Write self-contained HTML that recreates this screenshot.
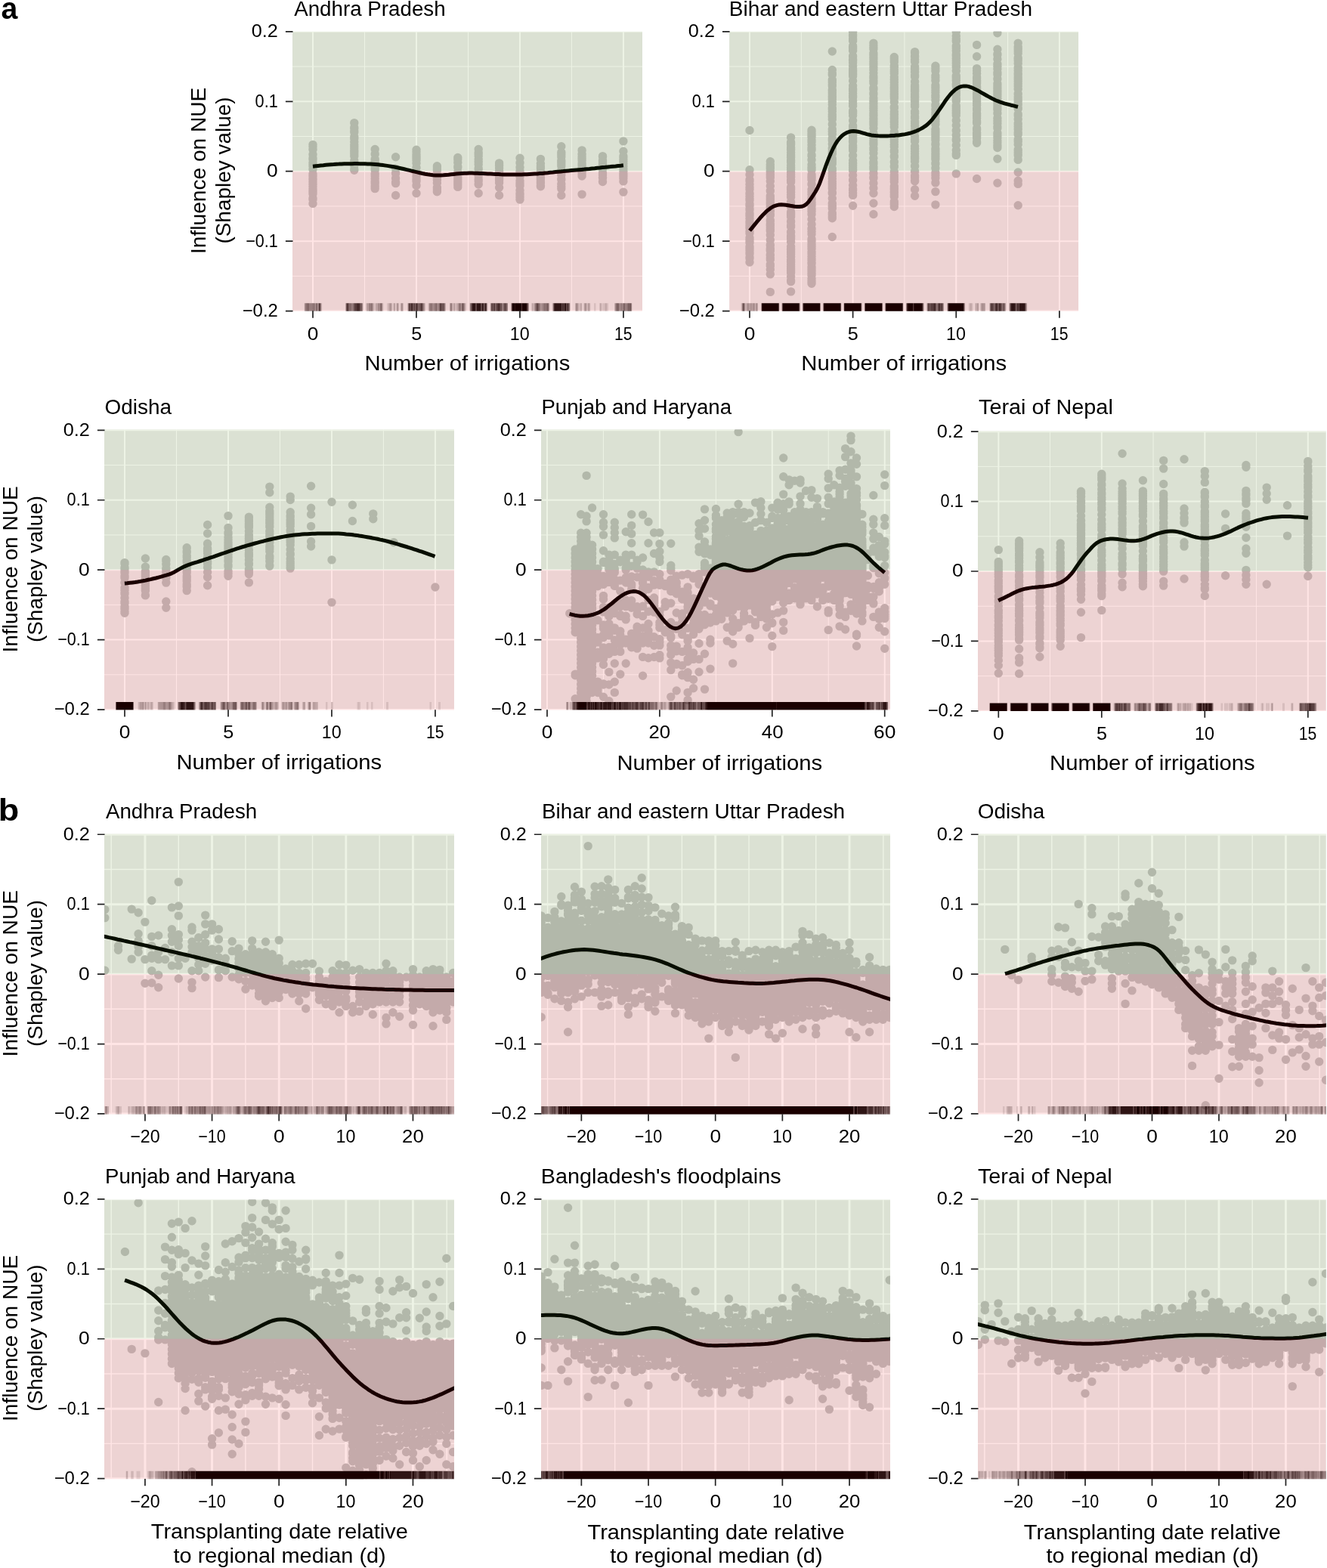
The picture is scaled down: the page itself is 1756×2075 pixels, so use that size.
<!DOCTYPE html>
<html lang="en"><head><meta charset="utf-8"><title>Figure</title>
<style>html,body{margin:0;padding:0;background:#fff}svg{display:block}text{font-family:'Liberation Sans', Arial, sans-serif;fill:#000}</style></head><body>
<svg xmlns="http://www.w3.org/2000/svg" width="1756" height="2075" viewBox="0 0 1756 2075">
<rect width="1756" height="2075" fill="#fff"/>
<defs>
<clipPath id="ca1"><rect x="387.00" y="41.55" width="463.05" height="370.30"/></clipPath>
<clipPath id="ca2"><rect x="965.07" y="41.55" width="462.2" height="370.30"/></clipPath>
<clipPath id="ca3"><rect x="138.00" y="568.14" width="463.0" height="371.50"/></clipPath>
<clipPath id="ca4"><rect x="716.00" y="568.14" width="462.0" height="371.50"/></clipPath>
<clipPath id="ca5"><rect x="1294.00" y="570.17" width="460.85" height="370.90"/></clipPath>
<clipPath id="cb1"><rect x="138.00" y="1103.26" width="463.0" height="371.40"/></clipPath>
<clipPath id="cb2"><rect x="716.00" y="1103.26" width="462.0" height="371.40"/></clipPath>
<clipPath id="cb3"><rect x="1294.00" y="1103.26" width="460.85" height="371.40"/></clipPath>
<clipPath id="cb4"><rect x="138.00" y="1587.30" width="463.0" height="370.20"/></clipPath>
<clipPath id="cb5"><rect x="716.00" y="1587.30" width="462.0" height="370.20"/></clipPath>
<clipPath id="cb6"><rect x="1294.00" y="1587.30" width="460.85" height="370.20"/></clipPath>
</defs>
<g id="pa1">
<g clip-path="url(#ca1)">
<rect x="387.00" y="41.55" width="463.05" height="370.30" fill="#ebebeb"/>
<path d="M482.49 41.6v370.3M619.47 41.6v370.3M756.45 41.6v370.3M387 88.06h463.05M387 180.49h463.05M387 272.91h463.05M387 365.34h463.05" stroke="#ffffff" stroke-width="1.0" fill="none"/>
<path d="M414.00 41.6v370.3M550.98 41.6v370.3M687.96 41.6v370.3M824.94 41.6v370.3M387 41.85h463.05M387 134.28h463.05M387 226.70h463.05M387 319.13h463.05M387 411.55h463.05" stroke="#ffffff" stroke-width="2.0" fill="none"/>
<path d="M414 191.4h0m0 2.3h0m0 0.4h0m0 3.3h0m0 0.5h0m0 6.5h0m0 5h0m0 1.5h0m0 4.5h0m0 2h0m0 0.3h0m0 2h0m0 4.2h0m0 6.5h0m0 2.2h0m0 0.4h0m0 2.8h0m0 1.1h0m0 1h0m0 2.9h0m0 2.6h0m0 0.6h0m0 2.9h0m0 3h0m0 2.2h0m0 0.5h0m0 0.5h0m0 1.1h0m0 2.2h0m0 6h0m0 0.5h0m0 1h0m0 5.5h0M468.8 162.6h0m0 6.2h0m0 1.1h0m0 3.7h0m0 1.5h0m0 6h0m0 0.3h0m0 1.2h0m0 0.7h0m0 0.3h0m0 4.1h0m0 4h0m0 2.3h0m0 2.2h0m0 2.6h0m0 1.1h0m0 0.3h0m0 0.4h0m0 0.9h0m0 2.2h0m0 2.5h0m0 0.3h0m0 6.3h0m0 5.6h0m0 0.7h0m0 4.9h0m0 0.8h0m0 0.5h0M496.2 197.5h0m0 6.4h0m0 0.4h0m0 6.2h0m0 1.1h0m0 2.3h0m0 1.7h0m0 1.4h0m0 3.2h0m0 3.3h0m0 1.3h0m0 5.2h0m0 0.7h0m0 2.6h0m0 3.2h0m0 3.6h0m0 1.5h0m0 1.4h0m0 3.1h0m0 1.7h0m0 1.8h0M523.6 207.8h0m0 15.3h0m0 6h0m0 0.5h0m0 6.5h0m0 4.9h0m0 1h0m0 0.6h0m0 15.9h0M551 198.3h0m0 2.6h0m0 3.3h0m0 1.7h0m0 1.4h0m0 0.8h0m0 0.8h0m0 1.2h0m0 0.5h0m0 1.6h0m0 3.8h0m0 5.9h0m0 5.9h0m0 1.3h0m0 4.5h0m0 3.4h0m0 1.8h0m0 0.7h0m0 0.3h0m0 5.6h0m0 10.3h0M578.4 219.8h0m0 1.4h0m0 2.2h0m0 0.3h0m0 1.7h0m0 5.7h0m0 4h0m0 1.6h0m0 1.8h0m0 3.7h0m0 5.8h0m0 0.9h0m0 2.5h0m0 2.3h0M605.8 208.5h0m0 0.7h0m0 1.7h0m0 4.1h0m0 0.3h0m0 5.3h0m0 0.8h0m0 6.5h0m0 5.8h0m0 0.7h0m0 2.1h0m0 1.1h0m0 1.8h0m0 1.5h0m0 2.1h0m0 0.8h0m0 1.3h0m0 2.3h0M633.2 197.5h0m0 4.6h0m0 0.6h0m0 1.4h0m0 2.5h0m0 4.2h0m0 2.8h0m0 1h0m0 2.8h0m0 5.3h0m0 1.4h0m0 5.1h0m0 1.5h0m0 0.6h0m0 1.6h0m0 4.5h0m0 2.2h0m0 3.9h0m0 0.5h0m0 11.7h0M660.6 215.9h0m0 2h0m0 1.4h0m0 3.1h0m0 3.9h0m0 0.6h0m0 1.9h0m0 1.6h0m0 0.5h0m0 4.4h0m0 2.1h0m0 1.5h0m0 2.8h0m0 6.5h0m0 10.3h0M688 209.3h0m0 6.1h0m0 6.1h0m0 5h0m0 0.5h0m0 0.6h0m0 6.1h0m0 0.3h0m0 5.6h0m0 2.6h0m0 1.7h0m0 0.3h0m0 1.2h0m0 0.5h0m0 6h0m0 4.1h0m0 1.5h0m0 0.5h0m0 2.5h0m0 0.7h0m0 2.9h0M715.4 210.4h0m0 6.1h0m0 3.6h0m0 2.1h0m0 0.3h0m0 4.4h0m0 1.7h0m0 1.6h0m0 0.8h0m0 3.7h0m0 0.5h0m0 0.8h0m0 2h0m0 2.7h0m0 1.5h0m0 3.1h0m0 1.5h0M742.8 193.8h0m0 7.8h0m0 0.4h0m0 0.4h0m0 1.6h0m0 1.3h0m0 2.3h0m0 4.9h0m0 1.1h0m0 0.5h0m0 1.4h0m0 2.1h0m0 2h0m0 6h0m0 1.7h0m0 1.2h0m0 3.1h0m0 5.1h0m0 0.9h0m0 6h0m0 3.2h0m0 0.4h0m0 2.4h0m0 8.9h0M770.1 198.9h0m0 4.8h0m0 0.9h0m0 2.9h0m0 1.9h0m0 0.9h0m0 1.7h0m0 4h0m0 1.6h0m0 1.4h0m0 2.7h0m0 2h0m0 3.7h0m0 0.7h0m0 2.8h0m0 2.1h0m0 24.1h0M797.5 206.6h0m0 0.8h0m0 4.8h0m0 1.2h0m0 2.3h0m0 0.6h0m0 0.7h0m0 0.9h0m0 0.9h0m0 4.7h0m0 5.5h0m0 2.5h0m0 3.3h0m0 0.7h0m0 5h0M824.9 186.9h0m0 13.3h0m0 6.7h0m0 1.4h0m0 2.7h0m0 2.5h0m0 3.1h0m0 3.5h0m0 3.3h0m0 3.3h0m0 2.7h0m0 1.1h0m0 0.8h0m0 1h0m0 1h0m0 0.4h0m0 2.4h0m0 3.8h0m0 14.2h0" fill="none" stroke="#bebebe" stroke-width="11.4" stroke-linecap="round"/>
<path d="M414 220.2 417.5 219.8 420.9 219.4 424.4 219 427.8 218.7 431.3 218.3 434.7 218 438.2 217.7 441.6 217.5 445.1 217.2 448.5 217.1 452 216.9 455.4 216.8 458.9 216.7 462.3 216.7 465.8 216.7 469.3 216.6 472.7 216.6 476.2 216.7 479.6 216.7 483.1 216.8 486.5 216.9 490 217.1 493.4 217.3 496.9 217.5 500.3 217.8 503.8 218.2 507.2 218.6 510.7 219.1 514.1 219.6 517.6 220.2 521.1 220.8 524.5 221.5 528 222.2 531.4 223 534.9 223.8 538.3 224.6 541.8 225.4 545.2 226.3 548.7 227.1 552.1 227.9 555.6 228.7 559 229.5 562.5 230.2 565.9 230.8 569.4 231.3 572.9 231.7 576.3 232 579.8 232.1 583.2 232 586.7 231.8 590.1 231.5 593.6 231.2 597 230.8 600.5 230.4 603.9 230 607.4 229.7 610.8 229.5 614.3 229.3 617.7 229.2 621.2 229.1 624.6 229.1 628.1 229.2 631.6 229.2 635 229.4 638.5 229.5 641.9 229.7 645.4 229.9 648.8 230.1 652.3 230.3 655.7 230.4 659.2 230.6 662.6 230.8 666.1 230.9 669.5 230.9 673 231 676.4 231 679.9 231 683.4 231 686.8 231 690.3 230.9 693.7 230.8 697.2 230.7 700.6 230.5 704.1 230.3 707.5 230.1 711 229.9 714.4 229.6 717.9 229.4 721.3 229 724.8 228.7 728.2 228.3 731.7 228 735.2 227.6 738.6 227.2 742.1 226.9 745.5 226.6 749 226.2 752.4 225.9 755.9 225.6 759.3 225.3 762.8 225 766.2 224.7 769.7 224.4 773.1 224.1 776.6 223.7 780 223.4 783.5 223 787 222.7 790.4 222.3 793.9 222 797.3 221.6 800.8 221.3 804.2 220.9 807.7 220.6 811.1 220.2 814.6 219.9 818 219.5 821.5 219.2 824.9 218.8" fill="none" stroke="#000" stroke-width="5.0" stroke-linejoin="round" stroke-linecap="butt"/>
<path d="M402.5 401.2h0.5v10.7h-0.5zM425.5 401.2h0.5v10.7h-0.5zM480 401.2h0.5v10.7h-0.5zM494.5 401.2h1.5v10.7h-1.5zM506.5 401.2h1v10.7h-1zM512 401.2h2v10.7h-2zM518.5 401.2h1v10.7h-1zM523 401.2h0.5v10.7h-0.5zM527.5 401.2h1v10.7h-1zM533.5 401.2h0.5v10.7h-0.5zM562.5 401.2h0.5v10.7h-0.5zM566.5 401.2h1v10.7h-1zM589.5 401.2h0.5v10.7h-0.5zM599 401.2h1v10.7h-1zM602.5 401.2h1.5v10.7h-1.5zM616 401.2h1v10.7h-1zM676 401.2h0.5v10.7h-0.5zM699.5 401.2h0.5v10.7h-0.5zM706.5 401.2h0.5v10.7h-0.5zM766 401.2h1.5v10.7h-1.5zM770 401.2h0.5v10.7h-0.5zM776.5 401.2h1v10.7h-1zM780.5 401.2h1v10.7h-1zM786 401.2h2.5v10.7h-2.5zM793 401.2h1v10.7h-1zM796 401.2h0.5v10.7h-0.5zM797 401.2h3.5v10.7h-3.5zM803 401.2h2v10.7h-2zM813 401.2h0.5v10.7h-0.5zM836 401.2h0.5v10.7h-0.5z" fill="#000" fill-opacity="0.10"/>
<path d="M457 401.2h0.5v10.7h-0.5zM484.5 401.2h1.5v10.7h-1.5zM487 401.2h0.5v10.7h-0.5zM494 401.2h0.5v10.7h-0.5zM496.5 401.2h2v10.7h-2zM499 401.2h0.5v10.7h-0.5zM506 401.2h0.5v10.7h-0.5zM514 401.2h1.5v10.7h-1.5zM518 401.2h0.5v10.7h-0.5zM520.5 401.2h1v10.7h-1zM522.5 401.2h0.5v10.7h-0.5zM524.5 401.2h0.5v10.7h-0.5zM527 401.2h0.5v10.7h-0.5zM530 401.2h0.5v10.7h-0.5zM533 401.2h0.5v10.7h-0.5zM562 401.2h0.5v10.7h-0.5zM595 401.2h0.5v10.7h-0.5zM598.5 401.2h0.5v10.7h-0.5zM600 401.2h0.5v10.7h-0.5zM601.5 401.2h1v10.7h-1zM604 401.2h2v10.7h-2zM615 401.2h1v10.7h-1zM621.5 401.2h0.5v10.7h-0.5zM703.5 401.2h3v10.7h-3zM726.5 401.2h0.5v10.7h-0.5zM731 401.2h0.5v10.7h-0.5zM754 401.2h0.5v10.7h-0.5zM761 401.2h1v10.7h-1zM764.5 401.2h1.5v10.7h-1.5zM767.5 401.2h2.5v10.7h-2.5zM772.5 401.2h1v10.7h-1zM776 401.2h0.5v10.7h-0.5zM777.5 401.2h1v10.7h-1zM780 401.2h0.5v10.7h-0.5zM794 401.2h2v10.7h-2zM800.5 401.2h2.5v10.7h-2.5z" fill="#000" fill-opacity="0.20"/>
<path d="M403 401.2h0.5v10.7h-0.5zM417.5 401.2h0.5v10.7h-0.5zM420.5 401.2h0.5v10.7h-0.5zM424.5 401.2h1v10.7h-1zM457.5 401.2h0.5v10.7h-0.5zM486 401.2h1v10.7h-1zM487.5 401.2h0.5v10.7h-0.5zM493 401.2h1v10.7h-1zM498.5 401.2h0.5v10.7h-0.5zM499.5 401.2h1v10.7h-1zM502 401.2h1v10.7h-1zM515.5 401.2h2.5v10.7h-2.5zM521.5 401.2h1v10.7h-1zM525 401.2h2v10.7h-2zM530.5 401.2h1v10.7h-1zM532.5 401.2h0.5v10.7h-0.5zM539.5 401.2h0.5v10.7h-0.5zM560.5 401.2h1.5v10.7h-1.5zM567.5 401.2h0.5v10.7h-0.5zM573 401.2h0.5v10.7h-0.5zM579 401.2h0.5v10.7h-0.5zM589 401.2h0.5v10.7h-0.5zM595.5 401.2h0.5v10.7h-0.5zM598 401.2h0.5v10.7h-0.5zM600.5 401.2h1v10.7h-1zM606 401.2h1v10.7h-1zM610 401.2h0.5v10.7h-0.5zM614.5 401.2h0.5v10.7h-0.5zM644.5 401.2h0.5v10.7h-0.5zM649 401.2h0.5v10.7h-0.5zM665 401.2h0.5v10.7h-0.5zM707 401.2h0.5v10.7h-0.5zM715 401.2h1v10.7h-1zM716.5 401.2h1v10.7h-1zM731.5 401.2h0.5v10.7h-0.5zM762 401.2h1v10.7h-1zM764 401.2h0.5v10.7h-0.5zM773.5 401.2h1v10.7h-1zM775 401.2h1v10.7h-1zM778.5 401.2h1.5v10.7h-1.5zM813.5 401.2h1v10.7h-1zM820 401.2h0.5v10.7h-0.5z" fill="#000" fill-opacity="0.30"/>
<path d="M403.5 401.2h1v10.7h-1zM409.5 401.2h1v10.7h-1zM411 401.2h1.5v10.7h-1.5zM416 401.2h1.5v10.7h-1.5zM420 401.2h0.5v10.7h-0.5zM421 401.2h0.5v10.7h-0.5zM465.5 401.2h1v10.7h-1zM479.5 401.2h0.5v10.7h-0.5zM488.5 401.2h1v10.7h-1zM490 401.2h1v10.7h-1zM492.5 401.2h0.5v10.7h-0.5zM500.5 401.2h1.5v10.7h-1.5zM505.5 401.2h0.5v10.7h-0.5zM531.5 401.2h1v10.7h-1zM540 401.2h0.5v10.7h-0.5zM568 401.2h1v10.7h-1zM569.5 401.2h0.5v10.7h-0.5zM571.5 401.2h0.5v10.7h-0.5zM572.5 401.2h0.5v10.7h-0.5zM573.5 401.2h2v10.7h-2zM578.5 401.2h0.5v10.7h-0.5zM579.5 401.2h1v10.7h-1zM588.5 401.2h0.5v10.7h-0.5zM596 401.2h0.5v10.7h-0.5zM597.5 401.2h0.5v10.7h-0.5zM607 401.2h0.5v10.7h-0.5zM609.5 401.2h0.5v10.7h-0.5zM610.5 401.2h0.5v10.7h-0.5zM622 401.2h0.5v10.7h-0.5zM664.5 401.2h0.5v10.7h-0.5zM671.5 401.2h0.5v10.7h-0.5zM707.5 401.2h1v10.7h-1zM714.5 401.2h0.5v10.7h-0.5zM716 401.2h0.5v10.7h-0.5zM717.5 401.2h0.5v10.7h-0.5zM718.5 401.2h1v10.7h-1zM721 401.2h0.5v10.7h-0.5zM726 401.2h0.5v10.7h-0.5zM763 401.2h1v10.7h-1zM774.5 401.2h0.5v10.7h-0.5zM814.5 401.2h0.5v10.7h-0.5zM819 401.2h1v10.7h-1zM820.5 401.2h0.5v10.7h-0.5zM821.5 401.2h1v10.7h-1zM823 401.2h1.5v10.7h-1.5zM827.5 401.2h1v10.7h-1zM829 401.2h1v10.7h-1zM835.5 401.2h0.5v10.7h-0.5z" fill="#000" fill-opacity="0.40"/>
<path d="M404.5 401.2h0.5v10.7h-0.5zM405.5 401.2h1v10.7h-1zM408 401.2h1.5v10.7h-1.5zM410.5 401.2h0.5v10.7h-0.5zM412.5 401.2h1v10.7h-1zM414 401.2h0.5v10.7h-0.5zM415.5 401.2h0.5v10.7h-0.5zM418 401.2h2v10.7h-2zM424 401.2h0.5v10.7h-0.5zM462.5 401.2h3v10.7h-3zM466.5 401.2h1.5v10.7h-1.5zM479 401.2h0.5v10.7h-0.5zM488 401.2h0.5v10.7h-0.5zM489.5 401.2h0.5v10.7h-0.5zM491 401.2h0.5v10.7h-0.5zM492 401.2h0.5v10.7h-0.5zM503 401.2h2.5v10.7h-2.5zM553 401.2h1v10.7h-1zM560 401.2h0.5v10.7h-0.5zM569 401.2h0.5v10.7h-0.5zM570 401.2h1.5v10.7h-1.5zM572 401.2h0.5v10.7h-0.5zM575.5 401.2h1v10.7h-1zM577 401.2h1.5v10.7h-1.5zM580.5 401.2h1v10.7h-1zM588 401.2h0.5v10.7h-0.5zM596.5 401.2h1v10.7h-1zM607.5 401.2h2v10.7h-2zM611 401.2h1v10.7h-1zM613.5 401.2h1v10.7h-1zM644 401.2h0.5v10.7h-0.5zM649.5 401.2h0.5v10.7h-0.5zM665.5 401.2h0.5v10.7h-0.5zM671 401.2h0.5v10.7h-0.5zM676.5 401.2h0.5v10.7h-0.5zM699 401.2h0.5v10.7h-0.5zM708.5 401.2h0.5v10.7h-0.5zM713 401.2h1.5v10.7h-1.5zM718 401.2h0.5v10.7h-0.5zM719.5 401.2h1.5v10.7h-1.5zM722.5 401.2h1v10.7h-1zM725.5 401.2h0.5v10.7h-0.5zM732 401.2h0.5v10.7h-0.5zM753.5 401.2h0.5v10.7h-0.5zM815 401.2h1.5v10.7h-1.5zM818 401.2h1v10.7h-1zM821 401.2h0.5v10.7h-0.5zM822.5 401.2h0.5v10.7h-0.5zM824.5 401.2h0.5v10.7h-0.5zM826 401.2h1.5v10.7h-1.5zM828.5 401.2h0.5v10.7h-0.5zM830 401.2h0.5v10.7h-0.5zM835 401.2h0.5v10.7h-0.5z" fill="#000" fill-opacity="0.50"/>
<path d="M405 401.2h0.5v10.7h-0.5zM406.5 401.2h0.5v10.7h-0.5zM407.5 401.2h0.5v10.7h-0.5zM413.5 401.2h0.5v10.7h-0.5zM414.5 401.2h1v10.7h-1zM421.5 401.2h0.5v10.7h-0.5zM458 401.2h0.5v10.7h-0.5zM462 401.2h0.5v10.7h-0.5zM468 401.2h0.5v10.7h-0.5zM478.5 401.2h0.5v10.7h-0.5zM491.5 401.2h0.5v10.7h-0.5zM540.5 401.2h0.5v10.7h-0.5zM549 401.2h0.5v10.7h-0.5zM554 401.2h1.5v10.7h-1.5zM559 401.2h1v10.7h-1zM576.5 401.2h0.5v10.7h-0.5zM581.5 401.2h0.5v10.7h-0.5zM584 401.2h4v10.7h-4zM612 401.2h1.5v10.7h-1.5zM622.5 401.2h0.5v10.7h-0.5zM650 401.2h1v10.7h-1zM652.5 401.2h0.5v10.7h-0.5zM655.5 401.2h1v10.7h-1zM666 401.2h0.5v10.7h-0.5zM670.5 401.2h0.5v10.7h-0.5zM709 401.2h0.5v10.7h-0.5zM712.5 401.2h0.5v10.7h-0.5zM721.5 401.2h1v10.7h-1zM723.5 401.2h2v10.7h-2zM816.5 401.2h1.5v10.7h-1.5zM825 401.2h1v10.7h-1zM830.5 401.2h1v10.7h-1zM832.5 401.2h1v10.7h-1zM834 401.2h1v10.7h-1z" fill="#000" fill-opacity="0.60"/>
<path d="M407 401.2h0.5v10.7h-0.5zM422 401.2h2v10.7h-2zM458.5 401.2h0.5v10.7h-0.5zM461.5 401.2h0.5v10.7h-0.5zM468.5 401.2h3.5v10.7h-3.5zM476 401.2h0.5v10.7h-0.5zM477.5 401.2h1v10.7h-1zM541 401.2h2.5v10.7h-2.5zM546.5 401.2h0.5v10.7h-0.5zM547.5 401.2h1.5v10.7h-1.5zM549.5 401.2h1.5v10.7h-1.5zM552 401.2h1v10.7h-1zM555.5 401.2h0.5v10.7h-0.5zM556.5 401.2h0.5v10.7h-0.5zM558.5 401.2h0.5v10.7h-0.5zM582 401.2h2v10.7h-2zM623 401.2h0.5v10.7h-0.5zM640.5 401.2h0.5v10.7h-0.5zM651 401.2h1.5v10.7h-1.5zM653 401.2h2.5v10.7h-2.5zM656.5 401.2h2.5v10.7h-2.5zM661 401.2h1v10.7h-1zM662.5 401.2h0.5v10.7h-0.5zM663.5 401.2h1v10.7h-1zM666.5 401.2h1v10.7h-1zM668 401.2h1.5v10.7h-1.5zM670 401.2h0.5v10.7h-0.5zM709.5 401.2h1v10.7h-1zM711 401.2h1.5v10.7h-1.5zM732.5 401.2h0.5v10.7h-0.5zM750 401.2h1v10.7h-1zM752.5 401.2h1v10.7h-1zM831.5 401.2h1v10.7h-1zM833.5 401.2h0.5v10.7h-0.5z" fill="#000" fill-opacity="0.70"/>
<path d="M459 401.2h1v10.7h-1zM460.5 401.2h1v10.7h-1zM472 401.2h4v10.7h-4zM476.5 401.2h1v10.7h-1zM543.5 401.2h3v10.7h-3zM547 401.2h0.5v10.7h-0.5zM551 401.2h1v10.7h-1zM556 401.2h0.5v10.7h-0.5zM557 401.2h1.5v10.7h-1.5zM623.5 401.2h1v10.7h-1zM629.5 401.2h1v10.7h-1zM636.5 401.2h1v10.7h-1zM639 401.2h1.5v10.7h-1.5zM641 401.2h0.5v10.7h-0.5zM643.5 401.2h0.5v10.7h-0.5zM659 401.2h2v10.7h-2zM662 401.2h0.5v10.7h-0.5zM663 401.2h0.5v10.7h-0.5zM667.5 401.2h0.5v10.7h-0.5zM669.5 401.2h0.5v10.7h-0.5zM677 401.2h0.5v10.7h-0.5zM698.5 401.2h0.5v10.7h-0.5zM710.5 401.2h0.5v10.7h-0.5zM733 401.2h1v10.7h-1zM743.5 401.2h3v10.7h-3zM749.5 401.2h0.5v10.7h-0.5zM751 401.2h1.5v10.7h-1.5z" fill="#000" fill-opacity="0.80"/>
<path d="M460 401.2h0.5v10.7h-0.5zM624.5 401.2h5v10.7h-5zM630.5 401.2h6v10.7h-6zM637.5 401.2h1.5v10.7h-1.5zM641.5 401.2h2v10.7h-2zM677.5 401.2h0.5v10.7h-0.5zM681 401.2h1v10.7h-1zM690 401.2h0.5v10.7h-0.5zM697.5 401.2h1v10.7h-1zM734 401.2h9.5v10.7h-9.5zM746.5 401.2h3v10.7h-3z" fill="#000" fill-opacity="0.90"/>
<path d="M678 401.2h3v10.7h-3zM682 401.2h8v10.7h-8zM690.5 401.2h7v10.7h-7z" fill="#000" fill-opacity="1.00"/>
<rect x="387.00" y="41.55" width="463.05" height="185.15" fill="#4f8b00" fill-opacity="0.1"/>
<rect x="387.00" y="226.70" width="463.05" height="185.15" fill="#ff0000" fill-opacity="0.1"/>
</g>
<path d="M377.90 41.85h9.6M377.90 134.28h9.6M377.90 226.70h9.6M377.90 319.13h9.6M377.90 411.55h9.6M414.00 411.35v9.3M550.98 411.35v9.3M687.96 411.35v9.3M824.94 411.35v9.3" stroke="#222" stroke-width="1.7" fill="none"/>
<text transform="translate(332.75 49.25) scale(1.0528 1)" font-size="24">0.2</text>
<text transform="translate(337.60 141.68) scale(0.9024 1)" font-size="24">0.1</text>
<text transform="translate(353.00 234.10) scale(1.0957 1)" font-size="24">0</text>
<text transform="translate(325.18 326.53) scale(0.8978 1)" font-size="24">−0.1</text>
<text transform="translate(320.66 418.95) scale(0.9956 1)" font-size="24">−0.2</text>
<text transform="translate(406.70 449.75) scale(1.0957 1)" font-size="24">0</text>
<text transform="translate(544.13 449.75) scale(1.0489 1)" font-size="24">5</text>
<text transform="translate(674.71 449.75) scale(0.9708 1)" font-size="24">10</text>
<text transform="translate(812.89 449.75) scale(0.8833 1)" font-size="24">15</text>
<text transform="translate(389.20 21.20) scale(0.9905 1)" font-size="28">Andhra Pradesh</text>
<text transform="translate(482.55 489.70) scale(1.0460 1)" font-size="28">Number of irrigations</text>
<text transform="translate(271.50 336.01) rotate(-90) scale(1.0049 1)" font-size="28">Influence on NUE</text>
<text transform="translate(304.60 322.60) rotate(-90) scale(0.9984 1)" font-size="28">(Shapley value)</text>
</g>
<g id="pa2">
<g clip-path="url(#ca2)">
<rect x="965.07" y="41.55" width="462.2" height="370.30" fill="#ebebeb"/>
<path d="M1060.29 41.6v370.3M1196.93 41.6v370.3M1333.59 41.6v370.3M965.1 88.06h462.2M965.1 180.49h462.2M965.1 272.91h462.2M965.1 365.34h462.2" stroke="#ffffff" stroke-width="1.0" fill="none"/>
<path d="M991.96 41.6v370.3M1128.61 41.6v370.3M1265.26 41.6v370.3M1401.91 41.6v370.3M965.1 41.85h462.2M965.1 134.28h462.2M965.1 226.70h462.2M965.1 319.13h462.2M965.1 411.55h462.2" stroke="#ffffff" stroke-width="2.0" fill="none"/>
<path d="M992 172.5h0m0 52.3h0m0 6.5h0m0 6.4h0m0 1.9h0m0 4.5h0m0 3.9h0m0 2.6h0m0 5.1h0m0 1.3h0m0 3h0m0 2.7h0m0 0.3h0m0 0.4h0m0 1.7h0m0 4.7h0m0 1.3h0m0 0.5h0m0 1h0m0 3.7h0m0 1.5h0m0 4.4h0m0 0.5h0m0 0.8h0m0 1.2h0m0 1.1h0m0 3.3h0m0 3.9h0m0 1.3h0m0 1.3h0m0 2.7h0m0 1.7h0m0 0.9h0m0 1.1h0m0 4.3h0m0 2.1h0m0 6.4h0m0 2.1h0m0 2.4h0m0 0.6h0m0 1.4h0m0 5h0m0 1.4h0m0 1.2h0m0 0.3h0m0 2.1h0m0 2.8h0m0 1.6h0m0 4.8h0m0 1.2h0m0 5.3h0M1019.3 213.8h0m0 3.9h0m0 2.6h0m0 1.4h0m0 0.5h0m0 0.6h0m0 0.3h0m0 3.4h0m0 0.3h0m0 0.8h0m0 2.8h0m0 0.9h0m0 2h0m0 1.7h0m0 4.8h0m0 6.4h0m0 6h0m0 0.5h0m0 6.5h0m0 1.7h0m0 2.3h0m0 0.9h0m0 1.6h0m0 1.9h0m0 1.2h0m0 0.8h0m0 0.4h0m0 2.2h0m0 1.2h0m0 1.7h0m0 3.6h0m0 1h0m0 3.7h0m0 0.9h0m0 0.8h0m0 6.3h0m0 1.4h0m0 3.4h0m0 1h0m0 0.9h0m0 0.3h0m0 2.7h0m0 2.4h0m0 1.1h0m0 1h0m0 5.5h0m0 6.5h0m0 6.4h0m0 1h0m0 3.7h0m0 1.3h0m0 0.5h0m0 0.7h0m0 0.8h0m0 5h0m0 0.3h0m0 0.7h0m0 3.6h0m0 1.9h0m0 6.5h0m0 2.1h0m0 4.3h0m0 6.5h0m0 23.5h0M1046.6 181.9h0m0 6.2h0m0 0.4h0m0 1.1h0m0 0.8h0m0 1.1h0m0 3.6h0m0 1.8h0m0 0.4h0m0 0.9h0m0 3.5h0m0 3.2h0m0 2.4h0m0 0.9h0m0 3.7h0m0 1h0m0 1.5h0m0 0.4h0m0 4h0m0 2.6h0m0 0.5h0m0 2.3h0m0 3.7h0m0 3h0m0 2.8h0m0 0.8h0m0 3.6h0m0 0.7h0m0 2.3h0m0 6.6h0m0 1.1h0m0 1.3h0m0 0.8h0m0 3.3h0m0 3.6h0m0 3h0m0 6.6h0m0 6.6h0m0 6.5h0m0 1.5h0m0 1.1h0m0 0.8h0m0 0.5h0m0 1.7h0m0 0.4h0m0 0.6h0m0 5.8h0m0 0.7h0m0 4.7h0m0 2h0m0 6.5h0m0 0.7h0m0 4.5h0m0 1.4h0m0 2.5h0m0 4h0m0 0.4h0m0 5.9h0m0 0.3h0m0 2.8h0m0 1.5h0m0 2.3h0m0 1h0m0 2.5h0m0 3.1h0m0 0.4h0m0 3.7h0m0 1.7h0m0 0.8h0m0 0.6h0m0 3h0m0 2.9h0m0 2.1h0m0 2.3h0m0 2.2h0m0 1.6h0m0 5h0m0 5.1h0m0 1.5h0m0 13.3h0M1074 172.3h0m0 1.1h0m0 1.1h0m0 2.3h0m0 1.2h0m0 0.9h0m0 0.6h0m0 1.1h0m0 1.2h0m0 3.6h0m0 2.3h0m0 4.2h0m0 3.9h0m0 1.3h0m0 1.4h0m0 6.5h0m0 1.2h0m0 5.4h0m0 6.5h0m0 3.3h0m0 0.7h0m0 0.8h0m0 1.8h0m0 6.5h0m0 1.8h0m0 1.4h0m0 0.3h0m0 0.4h0m0 0.6h0m0 2.1h0m0 5.8h0m0 0.7h0m0 6.6h0m0 3h0m0 3.1h0m0 0.4h0m0 5h0m0 0.6h0m0 1h0m0 3.9h0m0 2.6h0m0 2h0m0 3.9h0m0 0.6h0m0 2.4h0m0 0.3h0m0 3.8h0m0 6.7h0m0 6.5h0m0 5.9h0m0 0.7h0m0 3.2h0m0 3.3h0m0 6.6h0m0 1.9h0m0 1.6h0m0 3h0m0 1.9h0m0 1.8h0m0 2.4h0m0 0.5h0m0 3.8h0m0 0.4h0m0 2.3h0m0 3.4h0m0 3.2h0m0 1.8h0m0 2.8h0m0 0.8h0m0 1.1h0m0 4.1h0m0 0.8h0m0 1.7h0m0 1.6h0m0 1.9h0m0 2.4h0m0 0.6h0m0 1.7h0m0 0.3h0m0 4.6h0m0 2.8h0m0 1.9h0m0 1.8h0M1101.3 68h0m0 24.5h0m0 4.3h0m0 1.1h0m0 1.2h0m0 6.5h0m0 0.6h0m0 1.7h0m0 1.3h0m0 2.9h0m0 1.7h0m0 4.9h0m0 1.3h0m0 0.4h0m0 2h0m0 0.6h0m0 2.2h0m0 2.4h0m0 0.5h0m0 0.9h0m0 2h0m0 0.8h0m0 2.9h0m0 3.6h0m0 4.5h0m0 1h0m0 1h0m0 2.8h0m0 3.8h0m0 2.1h0m0 1.4h0m0 0.4h0m0 2.6h0m0 6.5h0m0 6.6h0m0 2.9h0m0 3.6h0m0 5.9h0m0 0.7h0m0 1.9h0m0 4.6h0m0 5.5h0m0 0.3h0m0 0.7h0m0 3.5h0m0 1.6h0m0 0.3h0m0 0.7h0m0 0.5h0m0 6.2h0m0 0.3h0m0 1.9h0m0 2.1h0m0 2.6h0m0 6.4h0m0 2.2h0m0 4.4h0m0 3.2h0m0 3.4h0m0 0.3h0m0 3.9h0m0 2.3h0m0 0.5h0m0 2.3h0m0 2.4h0m0 1.3h0m0 5.1h0m0 0.7h0m0 0.8h0m0 6.5h0m0 6.6h0m0 0.5h0m0 2.4h0m0 0.3h0m0 0.8h0m0 2.5h0m0 0.4h0m0 6.1h0m0 1.9h0m0 2.7h0m0 2h0m0 24.8h0M1128.6 41.1h0m0 1.6h0m0 2.8h0m0 1.8h0m0 0.4h0m0 3.3h0m0 1.5h0m0 1.8h0m0 6.6h0m0 0.6h0m0 1.2h0m0 0.9h0m0 0.8h0m0 1.8h0m0 1.1h0m0 6.7h0m0 0.9h0m0 3.3h0m0 1h0m0 1.4h0m0 2.5h0m0 4.1h0m0 3.9h0m0 1.6h0m0 1.1h0m0 0.8h0m0 1.1h0m0 1.6h0m0 0.9h0m0 0.7h0m0 1.5h0m0 0.7h0m0 5.9h0m0 6.5h0m0 3.9h0m0 0.8h0m0 1.9h0m0 0.3h0m0 3.4h0m0 2.9h0m0 1h0m0 1.2h0m0 4.4h0m0 3.8h0m0 2.8h0m0 0.3h0m0 6.3h0m0 1.1h0m0 1.6h0m0 0.7h0m0 3.1h0m0 6.6h0m0 6.6h0m0 1.5h0m0 3h0m0 2.1h0m0 1.2h0m0 0.8h0m0 2.4h0m0 0.7h0m0 0.5h0m0 0.7h0m0 0.3h0m0 1.7h0m0 1.9h0m0 0.7h0m0 2.3h0m0 1h0m0 0.6h0m0 0.3h0m0 4.7h0m0 1.9h0m0 0.9h0m0 1.5h0m0 2.2h0m0 6.6h0m0 0.3h0m0 6.3h0m0 3.3h0m0 1.1h0m0 2.2h0m0 0.4h0m0 2.4h0m0 2.3h0m0 0.8h0m0 0.3h0m0 0.4h0m0 6.6h0m0 6h0m0 0.6h0m0 6.5h0m0 4.8h0m0 1.8h0m0 3.5h0m0 3.1h0m0 13.9h0M1155.9 57.1h0m0 2.9h0m0 2.8h0m0 0.9h0m0 1.3h0m0 5.3h0m0 1.3h0m0 0.8h0m0 0.7h0m0 2.7h0m0 1.1h0m0 1.4h0m0 3.1h0m0 2.1h0m0 0.5h0m0 2h0m0 2.9h0m0 1.1h0m0 2.6h0m0 4.2h0m0 4.2h0m0 1.8h0m0 0.6h0m0 3.1h0m0 1h0m0 0.8h0m0 1.7h0m0 6.2h0m0 0.4h0m0 0.8h0m0 0.4h0m0 0.6h0m0 4.9h0m0 1.4h0m0 5.2h0m0 3.1h0m0 1.1h0m0 2.1h0m0 0.3h0m0 0.9h0m0 3h0m0 2.7h0m0 0.4h0m0 2.7h0m0 3.5h0m0 2.4h0m0 1.2h0m0 3.1h0m0 1.7h0m0 2.7h0m0 2.2h0m0 1.9h0m0 4.7h0m0 6.6h0m0 1.2h0m0 0.8h0m0 3h0m0 1.6h0m0 3.6h0m0 2.6h0m0 0.5h0m0 0.5h0m0 1.3h0m0 4.8h0m0 2.1h0m0 4.5h0m0 6.6h0m0 5.3h0m0 1.1h0m0 1.2h0m0 3.9h0m0 1.3h0m0 0.5h0m0 1.2h0m0 5.4h0m0 0.5h0m0 4.8h0m0 0.8h0m0 0.5h0m0 6.6h0m0 6.6h0m0 6.7h0m0 13.3h0m0 14.5h0M1183.3 75.5h0m0 2h0m0 2.3h0m0 2.3h0m0 4.9h0m0 0.8h0m0 0.9h0m0 0.5h0m0 3.4h0m0 1.8h0m0 0.9h0m0 2h0m0 4.6h0m0 3h0m0 0.5h0m0 3.1h0m0 0.7h0m0 3.4h0m0 2.5h0m0 0.3h0m0 1.1h0m0 1.5h0m0 0.3h0m0 2.4h0m0 1h0m0 2.1h0m0 1.2h0m0 0.8h0m0 1.8h0m0 0.7h0m0 1.7h0m0 4.9h0m0 6.6h0m0 1.4h0m0 5.2h0m0 2.6h0m0 1.4h0m0 2.6h0m0 1.8h0m0 0.7h0m0 3.1h0m0 1h0m0 0.7h0m0 2.8h0m0 3.1h0m0 6.6h0m0 1.5h0m0 2.2h0m0 2.9h0m0 0.8h0m0 2.7h0m0 3.1h0m0 3.5h0m0 0.3h0m0 2.8h0m0 5h0m0 1.6h0m0 5.7h0m0 0.9h0m0 6.6h0m0 0.5h0m0 5.1h0m0 1h0m0 6.6h0m0 4.4h0m0 2.2h0m0 2h0m0 1.8h0m0 2.8h0m0 6h0m0 0.6h0m0 1.7h0m0 0.6h0m0 1.5h0m0 2.5h0m0 0.3h0m0 1.2h0m0 2.8h0m0 1.9h0m0 0.7h0m0 6.6h0m0 2.1h0m0 1.8h0m0 2.7h0M1210.6 68.6h0m0 0.4h0m0 1h0m0 4.1h0m0 1.1h0m0 3.5h0m0 0.5h0m0 2.6h0m0 6.5h0m0 2.1h0m0 1.1h0m0 0.5h0m0 2.9h0m0 0.3h0m0 4.3h0m0 2h0m0 6.6h0m0 4.9h0m0 1.7h0m0 0.7h0m0 1.6h0m0 0.9h0m0 0.5h0m0 1.2h0m0 0.5h0m0 1.2h0m0 3.2h0m0 2.6h0m0 0.7h0m0 0.4h0m0 1h0m0 3h0m0 2.2h0m0 4h0m0 2.3h0m0 0.3h0m0 6.6h0m0 2.2h0m0 4.4h0m0 2.1h0m0 4.4h0m0 2.2h0m0 3.1h0m0 1.1h0m0 4.3h0m0 2.5h0m0 0.4h0m0 6.2h0m0 4h0m0 2.6h0m0 6.5h0m0 3h0m0 0.4h0m0 3.2h0m0 3.3h0m0 3.3h0m0 1.2h0m0 0.3h0m0 1.3h0m0 0.7h0m0 3.1h0m0 6.2h0m0 0.4h0m0 6.5h0m0 0.8h0m0 5.2h0m0 0.6h0m0 2h0m0 3.6h0m0 1h0m0 11.1h0m0 8.5h0M1237.9 87.3h0m0 1.1h0m0 2.7h0m0 2.7h0m0 6.4h0m0 2.5h0m0 3.2h0m0 0.7h0m0 6.5h0m0 1.8h0m0 1.7h0m0 2.9h0m0 2.7h0m0 3.8h0m0 0.5h0m0 1.8h0m0 0.8h0m0 3.3h0m0 6.4h0m0 1.4h0m0 4.4h0m0 0.7h0m0 3.7h0m0 0.3h0m0 2.2h0m0 2.6h0m0 3.8h0m0 0.3h0m0 2.6h0m0 0.3h0m0 3.5h0m0 6.4h0m0 0.9h0m0 1.8h0m0 0.7h0m0 0.8h0m0 1.9h0m0 0.4h0m0 1.1h0m0 1.4h0m0 0.4h0m0 1.8h0m0 1.7h0m0 1.7h0m0 4.8h0m0 1.1h0m0 5.3h0m0 0.6h0m0 1.4h0m0 1.4h0m0 2.9h0m0 1.3h0m0 1.7h0m0 1.7h0m0 1.9h0m0 1.1h0m0 5.3h0m0 0.8h0m0 5.7h0m0 6.3h0m0 3h0m0 3.6h0m0 6.4h0m0 11.7h0m0 17.3h0M1265.3 41.1h0m0 0.3h0m0 0.9h0m0 5.4h0m0 3.9h0m0 2.2h0m0 0.4h0m0 0.3h0m0 6.3h0m0 0.6h0m0 2.4h0m0 3h0m0 0.6h0m0 4.5h0m0 1.4h0m0 0.7h0m0 3h0m0 0.7h0m0 2.8h0m0 3h0m0 3.6h0m0 2h0m0 4.6h0m0 6.5h0m0 0.7h0m0 0.4h0m0 1.5h0m0 1.4h0m0 2h0m0 0.6h0m0 4.5h0m0 0.3h0m0 1.8h0m0 6.6h0m0 1.6h0m0 1.8h0m0 1.6h0m0 1.5h0m0 3.4h0m0 1.9h0m0 1.3h0m0 0.7h0m0 5.9h0m0 0.5h0m0 1.1h0m0 2.1h0m0 2.4h0m0 0.4h0m0 0.8h0m0 1.7h0m0 0.4h0m0 1.1h0m0 2.6h0m0 6.6h0m0 6.6h0m0 6.5h0m0 0.6h0m0 5.6h0m0 0.4h0m0 5.3h0m0 0.7h0m0 0.6h0m0 6.5h0m0 6.6h0m0 4.7h0m0 1.9h0m0 24.5h0M1292.6 59.4h0m0 15.4h0m0 15.8h0m0 3h0m0 3.6h0m0 4.7h0m0 1h0m0 0.9h0m0 2.5h0m0 1.2h0m0 2h0m0 0.9h0m0 4h0m0 2.1h0m0 0.5h0m0 1.6h0m0 5h0m0 1.6h0m0 2.9h0m0 2h0m0 4h0m0 2.6h0m0 2.6h0m0 4h0m0 2.1h0m0 4.5h0m0 1.2h0m0 1.3h0m0 1.6h0m0 2.5h0m0 3.5h0m0 1.8h0m0 0.9h0m0 0.4h0m0 6.6h0m0 1.3h0m0 1.1h0m0 3.5h0m0 0.7h0m0 0.5h0m0 1.7h0m0 1.9h0m0 2.4h0m0 4.6h0m0 1.2h0m0 0.7h0m0 47.2h0M1319.9 43.8h0m0 21.5h0m0 6.2h0m0 0.3h0m0 0.8h0m0 5.7h0m0 6.2h0m0 0.3h0m0 1h0m0 2.1h0m0 3.4h0m0 4.8h0m0 0.3h0m0 0.4h0m0 1.1h0m0 0.5h0m0 6h0m0 6.4h0m0 1.8h0m0 2.4h0m0 1.8h0m0 0.6h0m0 0.4h0m0 2h0m0 1.3h0m0 0.8h0m0 2h0m0 1h0m0 2.3h0m0 3.2h0m0 0.9h0m0 2.6h0m0 3h0m0 2.6h0m0 2.3h0m0 1.6h0m0 0.7h0m0 1h0m0 4.8h0m0 6.5h0m0 0.6h0m0 3.1h0m0 2.8h0m0 0.6h0m0 4.2h0m0 1.7h0m0 6.6h0m0 0.5h0m0 0.5h0m0 0.6h0m0 2.3h0m0 2.6h0m0 3.7h0m0 2.8h0m0 3h0m0 1.5h0m0 1.3h0m0 0.7h0m0 14.7h0m0 32.1h0M1347.2 57.1h0m0 4.9h0m0 1.8h0m0 0.6h0m0 1.1h0m0 2.3h0m0 2.7h0m0 6h0m0 0.3h0m0 0.4h0m0 0.5h0m0 0.8h0m0 1.8h0m0 3.6h0m0 5.5h0m0 1.2h0m0 2.8h0m0 3.6h0m0 0.3h0m0 0.7h0m0 1.1h0m0 2.9h0m0 2h0m0 1.8h0m0 2.1h0m0 2.9h0m0 0.4h0m0 2.9h0m0 3.4h0m0 0.4h0m0 6.1h0m0 0.8h0m0 3.8h0m0 2.3h0m0 1.4h0m0 1.6h0m0 3.6h0m0 1.2h0m0 3.9h0m0 0.7h0m0 1h0m0 6.7h0m0 2h0m0 4.7h0m0 5.7h0m0 1.1h0m0 2.9h0m0 3.2h0m0 0.6h0m0 4.1h0m0 1.5h0m0 1.1h0m0 6.7h0m0 1.3h0m0 1.5h0m0 3.9h0m0 6.7h0m0 1.5h0m0 2.6h0m0 2.4h0m0 0.7h0m0 0.4h0m0 5.8h0m0 16.6h0m0 11.3h0m0 4.1h0m0 28.3h0" fill="none" stroke="#bebebe" stroke-width="11.4" stroke-linecap="round"/>
<path d="M992.1 305.3 995.1 301.6 998.1 297.9 1001.1 294.2 1004.1 290.7 1007 287.2 1010 283.9 1013 280.9 1016 278.2 1019 275.9 1021.9 274 1024.9 272.6 1027.9 271.6 1030.9 271 1033.9 270.8 1036.9 270.9 1039.8 271.2 1042.8 271.7 1045.8 272.3 1048.8 272.8 1051.8 273.3 1054.7 273.6 1057.7 273.6 1060.7 273.3 1063.7 272.3 1066.7 270.5 1069.7 267.5 1072.6 263.6 1075.6 259.1 1078.6 254.5 1081.6 249.2 1084.6 242.7 1087.5 234.7 1090.5 226.1 1093.5 217.7 1096.5 209.8 1099.5 202.7 1102.5 196.3 1105.4 190.9 1108.4 186.2 1111.4 182.5 1114.4 179.5 1117.4 177.3 1120.3 175.6 1123.3 174.5 1126.3 173.8 1129.3 173.5 1132.3 173.7 1135.3 174.2 1138.2 174.9 1141.2 175.8 1144.2 176.7 1147.2 177.6 1150.2 178.3 1153.1 178.9 1156.1 179.3 1159.1 179.6 1162.1 179.8 1165.1 179.9 1168.1 180 1171 180 1174 179.9 1177 179.8 1180 179.6 1183 179.4 1185.9 179.1 1188.9 178.9 1191.9 178.5 1194.9 178.1 1197.9 177.6 1200.9 177 1203.8 176.3 1206.8 175.4 1209.8 174.4 1212.8 173.2 1215.8 171.9 1218.7 170.4 1221.7 168.7 1224.7 166.7 1227.7 164.3 1230.7 161.4 1233.7 158.1 1236.6 154.3 1239.6 150.2 1242.6 145.9 1245.6 141.5 1248.6 137.1 1251.5 132.7 1254.5 128.7 1257.5 125 1260.5 121.8 1263.5 119.1 1266.4 117 1269.4 115.4 1272.4 114.4 1275.4 113.9 1278.4 113.9 1281.4 114.4 1284.3 115.3 1287.3 116.5 1290.3 117.9 1293.3 119.4 1296.3 121.1 1299.2 122.8 1302.2 124.5 1305.2 126.2 1308.2 127.9 1311.2 129.5 1314.2 131.1 1317.1 132.5 1320.1 133.7 1323.1 134.8 1326.1 135.8 1329.1 136.8 1332 137.6 1335 138.4 1338 139.2 1341 139.9 1344 140.7 1347 141.4" fill="none" stroke="#000" stroke-width="5.0" stroke-linejoin="round" stroke-linecap="butt"/>
<path d="M980.6 401.2h1v10.7h-1zM986.6 401.2h0.5v10.7h-0.5zM999.1 401.2h0.5v10.7h-0.5zM1002.6 401.2h0.5v10.7h-0.5zM1089.1 401.2h0.5v10.7h-0.5zM1171.1 401.2h0.5v10.7h-0.5zM1226.1 401.2h0.5v10.7h-0.5zM1276.6 401.2h0.5v10.7h-0.5zM1281.6 401.2h1.5v10.7h-1.5zM1286.1 401.2h1.5v10.7h-1.5zM1290.1 401.2h0.5v10.7h-0.5zM1295.1 401.2h0.5v10.7h-0.5zM1297.1 401.2h0.5v10.7h-0.5zM1309.1 401.2h0.5v10.7h-0.5z" fill="#000" fill-opacity="0.10"/>
<path d="M985.6 401.2h1v10.7h-1zM987.1 401.2h0.5v10.7h-0.5zM988.1 401.2h1v10.7h-1zM995.1 401.2h0.5v10.7h-0.5zM999.6 401.2h0.5v10.7h-0.5zM1140.1 401.2h0.5v10.7h-0.5zM1167.6 401.2h0.5v10.7h-0.5zM1222.1 401.2h0.5v10.7h-0.5zM1248.6 401.2h0.5v10.7h-0.5zM1283.1 401.2h3v10.7h-3zM1290.6 401.2h2.5v10.7h-2.5zM1294.6 401.2h0.5v10.7h-0.5zM1297.6 401.2h1v10.7h-1zM1303.1 401.2h1v10.7h-1zM1330.6 401.2h0.5v10.7h-0.5zM1358.6 401.2h0.5v10.7h-0.5z" fill="#000" fill-opacity="0.20"/>
<path d="M981.6 401.2h0.5v10.7h-0.5zM987.6 401.2h0.5v10.7h-0.5zM990.1 401.2h2.5v10.7h-2.5zM993.1 401.2h2v10.7h-2zM995.6 401.2h1v10.7h-1zM997.6 401.2h1.5v10.7h-1.5zM1000.1 401.2h0.5v10.7h-0.5zM1001.6 401.2h1v10.7h-1zM1199.1 401.2h0.5v10.7h-0.5zM1226.6 401.2h0.5v10.7h-0.5zM1293.1 401.2h1.5v10.7h-1.5zM1298.6 401.2h0.5v10.7h-0.5zM1299.6 401.2h1v10.7h-1zM1301.1 401.2h2v10.7h-2zM1309.6 401.2h0.5v10.7h-0.5zM1335.6 401.2h0.5v10.7h-0.5z" fill="#000" fill-opacity="0.30"/>
<path d="M982.1 401.2h0.5v10.7h-0.5zM985.1 401.2h0.5v10.7h-0.5zM989.1 401.2h1v10.7h-1zM992.6 401.2h0.5v10.7h-0.5zM996.6 401.2h1v10.7h-1zM1000.6 401.2h1v10.7h-1zM1034.6 401.2h0.5v10.7h-0.5zM1058.1 401.2h0.5v10.7h-0.5zM1116.6 401.2h0.5v10.7h-0.5zM1248.1 401.2h0.5v10.7h-0.5zM1299.1 401.2h0.5v10.7h-0.5zM1300.6 401.2h0.5v10.7h-0.5zM1329.6 401.2h1v10.7h-1zM1357.6 401.2h1v10.7h-1z" fill="#000" fill-opacity="0.40"/>
<path d="M1062.1 401.2h0.5v10.7h-0.5zM1227.1 401.2h0.5v10.7h-0.5zM1239.1 401.2h1.5v10.7h-1.5zM1253.6 401.2h0.5v10.7h-0.5zM1310.1 401.2h0.5v10.7h-0.5zM1326.1 401.2h0.5v10.7h-0.5z" fill="#000" fill-opacity="0.50"/>
<path d="M982.6 401.2h2.5v10.7h-2.5zM1144.1 401.2h0.5v10.7h-0.5zM1221.6 401.2h0.5v10.7h-0.5zM1230.1 401.2h1v10.7h-1zM1238.1 401.2h1v10.7h-1zM1240.6 401.2h0.5v10.7h-0.5zM1247.1 401.2h1v10.7h-1zM1276.1 401.2h0.5v10.7h-0.5zM1315.6 401.2h1v10.7h-1zM1325.1 401.2h1v10.7h-1zM1326.6 401.2h0.5v10.7h-0.5zM1327.6 401.2h0.5v10.7h-0.5zM1329.1 401.2h0.5v10.7h-0.5zM1336.1 401.2h0.5v10.7h-0.5z" fill="#000" fill-opacity="0.60"/>
<path d="M1007.6 401.2h0.5v10.7h-0.5zM1030.6 401.2h0.5v10.7h-0.5zM1085.1 401.2h0.5v10.7h-0.5zM1112.6 401.2h0.5v10.7h-0.5zM1199.6 401.2h0.5v10.7h-0.5zM1227.6 401.2h2.5v10.7h-2.5zM1231.1 401.2h4v10.7h-4zM1241.1 401.2h1v10.7h-1zM1244.6 401.2h2.5v10.7h-2.5zM1310.6 401.2h3.5v10.7h-3.5zM1314.6 401.2h1v10.7h-1zM1316.6 401.2h0.5v10.7h-0.5zM1320.6 401.2h1v10.7h-1zM1324.1 401.2h1v10.7h-1zM1327.1 401.2h0.5v10.7h-0.5zM1328.1 401.2h1v10.7h-1zM1344.6 401.2h1v10.7h-1zM1357.1 401.2h0.5v10.7h-0.5z" fill="#000" fill-opacity="0.70"/>
<path d="M1139.6 401.2h0.5v10.7h-0.5zM1171.6 401.2h0.5v10.7h-0.5zM1194.6 401.2h0.5v10.7h-0.5zM1221.1 401.2h0.5v10.7h-0.5zM1235.1 401.2h3v10.7h-3zM1242.1 401.2h2.5v10.7h-2.5zM1254.1 401.2h0.5v10.7h-0.5zM1275.6 401.2h0.5v10.7h-0.5zM1314.1 401.2h0.5v10.7h-0.5zM1317.1 401.2h1v10.7h-1zM1319.1 401.2h1.5v10.7h-1.5zM1321.6 401.2h2.5v10.7h-2.5zM1336.6 401.2h1v10.7h-1zM1343.1 401.2h1.5v10.7h-1.5zM1345.6 401.2h3v10.7h-3zM1356.1 401.2h1v10.7h-1z" fill="#000" fill-opacity="0.80"/>
<path d="M1035.1 401.2h0.5v10.7h-0.5zM1057.6 401.2h0.5v10.7h-0.5zM1062.6 401.2h0.5v10.7h-0.5zM1089.6 401.2h0.5v10.7h-0.5zM1167.1 401.2h0.5v10.7h-0.5zM1200.1 401.2h1v10.7h-1zM1208.6 401.2h0.5v10.7h-0.5zM1220.1 401.2h1v10.7h-1zM1254.6 401.2h0.5v10.7h-0.5zM1275.1 401.2h0.5v10.7h-0.5zM1318.1 401.2h1v10.7h-1zM1337.6 401.2h5.5v10.7h-5.5zM1348.6 401.2h7.5v10.7h-7.5z" fill="#000" fill-opacity="0.90"/>
<path d="M1008.1 401.2h22.5v10.7h-22.5zM1035.6 401.2h22v10.7h-22zM1063.1 401.2h22v10.7h-22zM1090.1 401.2h22.5v10.7h-22.5zM1117.1 401.2h22.5v10.7h-22.5zM1144.6 401.2h22.5v10.7h-22.5zM1172.1 401.2h22.5v10.7h-22.5zM1201.1 401.2h7.5v10.7h-7.5zM1209.1 401.2h11v10.7h-11zM1255.1 401.2h20v10.7h-20z" fill="#000" fill-opacity="1.00"/>
<rect x="965.07" y="41.55" width="462.2" height="185.15" fill="#4f8b00" fill-opacity="0.1"/>
<rect x="965.07" y="226.70" width="462.2" height="185.15" fill="#ff0000" fill-opacity="0.1"/>
</g>
<path d="M955.97 41.85h9.6M955.97 134.28h9.6M955.97 226.70h9.6M955.97 319.13h9.6M955.97 411.55h9.6M991.96 411.35v9.3M1128.61 411.35v9.3M1265.26 411.35v9.3M1401.91 411.35v9.3" stroke="#222" stroke-width="1.7" fill="none"/>
<text transform="translate(910.82 49.25) scale(1.0528 1)" font-size="24">0.2</text>
<text transform="translate(915.67 141.68) scale(0.9024 1)" font-size="24">0.1</text>
<text transform="translate(931.07 234.10) scale(1.0957 1)" font-size="24">0</text>
<text transform="translate(903.25 326.53) scale(0.8978 1)" font-size="24">−0.1</text>
<text transform="translate(898.73 418.95) scale(0.9956 1)" font-size="24">−0.2</text>
<text transform="translate(984.66 449.75) scale(1.0957 1)" font-size="24">0</text>
<text transform="translate(1121.76 449.75) scale(1.0489 1)" font-size="24">5</text>
<text transform="translate(1252.01 449.75) scale(0.9708 1)" font-size="24">10</text>
<text transform="translate(1389.86 449.75) scale(0.8833 1)" font-size="24">15</text>
<text transform="translate(964.82 21.00) scale(0.9995 1)" font-size="28">Bihar and eastern Uttar Pradesh</text>
<text transform="translate(1060.35 490.00) scale(1.0460 1)" font-size="28">Number of irrigations</text>
</g>
<g id="pa3">
<g clip-path="url(#ca3)">
<rect x="138.00" y="568.14" width="463.0" height="371.50" fill="#ebebeb"/>
<path d="M233.49 568.1v371.5M370.47 568.1v371.5M507.45 568.1v371.5M138 615.55h463.0M138 707.98h463.0M138 800.40h463.0M138 892.83h463.0" stroke="#ffffff" stroke-width="1.0" fill="none"/>
<path d="M165.00 568.1v371.5M301.98 568.1v371.5M438.96 568.1v371.5M575.94 568.1v371.5M138 569.34h463.0M138 661.76h463.0M138 754.19h463.0M138 846.62h463.0M138 939.04h463.0" stroke="#ffffff" stroke-width="2.0" fill="none"/>
<path d="M165 744.6h0m0 1.4h0m0 5.3h0m0 0.7h0m0 1.1h0m0 3h0m0 1.8h0m0 4.4h0m0 1.1h0m0 1.2h0m0 6.5h0m0 6.8h0m0 3h0m0 3.7h0m0 1.2h0m0 5.5h0m0 5h0m0 0.6h0m0 1h0m0 4.9h0m0 0.3h0m0 0.3h0m0 0.7h0m0 0.5h0m0 1.2h0m0 0.3h0m0 3.5h0m0 1.7h0M192.4 739h0m0 11.1h0m0 6.3h0m0 0.3h0m0 1.5h0m0 2h0m0 0.4h0m0 2.1h0m0 3.6h0m0 1.8h0m0 0.9h0m0 3.2h0m0 3.1h0m0 3.2h0m0 2.5h0m0 0.6h0m0 6.3h0M219.8 740.5h0m0 1.7h0m0 4.4h0m0 5.6h0m0 0.5h0m0 0.6h0m0 3.3h0m0 2.3h0m0 0.9h0m0 2.7h0m0 0.9h0m0 1.1h0m0 0.5h0m0 6.1h0m0 24.9h0m0 8.2h0M247.2 724.8h0m0 0.8h0m0 3.8h0m0 1.4h0m0 0.3h0m0 4.3h0m0 2h0m0 4h0m0 0.5h0m0 1.8h0m0 6.3h0m0 1.6h0m0 2.6h0m0 2.1h0m0 1.4h0m0 4.9h0m0 2.1h0m0 2.5h0m0 1.7h0m0 4.4h0m0 2h0m0 0.6h0m0 0.5h0m0 5.2h0M274.6 694.5h0m0 11.5h0m0 13.3h0m0 0.6h0m0 5.8h0m0 1.6h0m0 2.1h0m0 2.6h0m0 5.2h0m0 1.1h0m0 0.4h0m0 0.6h0m0 2.9h0m0 1.8h0m0 0.7h0m0 1.5h0m0 4.5h0m0 0.3h0m0 6.3h0m0 6.4h0m0 11.1h0M302 682.6h0m0 15.8h0m0 6.4h0m0 1.7h0m0 4.7h0m0 3.2h0m0 3.2h0m0 1.5h0m0 1.9h0m0 1.5h0m0 1.5h0m0 1.3h0m0 0.9h0m0 0.7h0m0 0.7h0m0 2.8h0m0 1.4h0m0 2.1h0m0 2.8h0m0 0.9h0m0 0.4h0m0 3.2h0m0 1.9h0m0 4.6h0m0 1.8h0m0 6.4h0m0 2.3h0m0 1.3h0m0 2.8h0M329.4 684.1h0m0 1.5h0m0 2.7h0m0 1.9h0m0 2.8h0m0 0.8h0m0 1.7h0m0 1.2h0m0 1.2h0m0 5.1h0m0 4.9h0m0 1.4h0m0 2.6h0m0 0.4h0m0 0.9h0m0 2.3h0m0 3.6h0m0 2.7h0m0 6.3h0m0 4h0m0 1.4h0m0 0.9h0m0 0.4h0m0 1.4h0m0 4.5h0m0 5.1h0m0 1.2h0m0 6.3h0m0 1.2h0m0 2.6h0m0 0.3h0m0 2.2h0m0 11.3h0M356.8 644.1h0m0 7.7h0m0 19.4h0m0 5.1h0m0 1.4h0m0 1.7h0m0 1.8h0m0 3h0m0 3h0m0 1.5h0m0 2h0m0 0.4h0m0 1.6h0m0 3.3h0m0 1.2h0m0 5.6h0m0 0.8h0m0 2.9h0m0 2h0m0 1.6h0m0 5.6h0m0 0.6h0m0 0.3h0m0 1.4h0m0 5.1h0m0 0.4h0m0 0.8h0m0 2.3h0m0 2.9h0m0 6.6h0m0 0.3h0m0 2.1h0m0 4.1h0m0 5.8h0m0 0.7h0M384.2 657.1h0m0 4.4h0m0 16.3h0m0 4.9h0m0 1.3h0m0 4.1h0m0 2.1h0m0 2.1h0m0 1.6h0m0 2.4h0m0 5.5h0m0 0.8h0m0 6.2h0m0 2.4h0m0 1.6h0m0 2.2h0m0 0.9h0m0 1.9h0m0 3.3h0m0 6.2h0m0 5.4h0m0 0.6h0m0 0.8h0m0 5.6h0m0 4.1h0m0 2.1h0m0 2.3h0m0 2.5h0m0 0.6h0m0 0.8h0M411.6 643.3h0m0 28.9h0m0 8.5h0m0 15.7h0m0 20.2h0m0 6.4h0M439 664.2h0m0 76.7h0m0 56.2h0M466.4 668.3h0m0 21.2h0M493.8 679.9h0m0 6.9h0M521.1 717.8h0M575.9 777h0" fill="none" stroke="#bebebe" stroke-width="11.4" stroke-linecap="round"/>
<path d="M164.9 772 168.3 771.7 171.8 771.3 175.2 770.9 178.7 770.5 182.1 770 185.6 769.4 189 768.8 192.5 768.1 195.9 767.3 199.4 766.6 202.8 765.8 206.3 765 209.7 764.1 213.2 763.2 216.6 762.2 220.1 761.2 223.5 760.1 227 758.8 230.4 757.2 233.9 755.1 237.3 753.1 240.8 751.3 244.2 749.6 247.7 748.1 251.1 746.8 254.6 745.7 258 744.6 261.5 743.6 264.9 742.5 268.4 741.4 271.8 740.2 275.3 739.1 278.7 737.9 282.2 736.8 285.6 735.6 289.1 734.4 292.5 733.2 296 732 299.4 730.8 302.9 729.7 306.3 728.5 309.8 727.4 313.2 726.2 316.7 725.1 320.1 724 323.6 723 327.1 721.9 330.5 721 334 720 337.4 719 340.9 718.1 344.3 717.2 347.8 716.3 351.2 715.4 354.7 714.5 358.1 713.7 361.6 712.9 365 712.2 368.5 711.5 371.9 710.8 375.4 710.1 378.8 709.5 382.3 709 385.7 708.5 389.2 708.1 392.6 707.7 396.1 707.4 399.5 707.1 403 706.8 406.4 706.7 409.9 706.5 413.3 706.3 416.8 706.2 420.2 706.1 423.7 706 427.1 706 430.6 706 434 706 437.5 706 440.9 706 444.4 706 447.8 706.1 451.3 706.3 454.7 706.5 458.2 706.9 461.6 707.2 465.1 707.5 468.5 708 472 708.4 475.4 709 478.9 709.5 482.3 710.1 485.8 710.7 489.2 711.3 492.7 712 496.1 712.6 499.6 713.3 503 714.1 506.5 714.8 510 715.7 513.4 716.5 516.9 717.5 520.3 718.4 523.8 719.4 527.2 720.4 530.7 721.5 534.1 722.5 537.6 723.5 541 724.6 544.5 725.7 547.9 726.8 551.4 727.9 554.8 729.1 558.3 730.2 561.7 731.4 565.2 732.6 568.6 733.8 572.1 735 575.5 736.3" fill="none" stroke="#000" stroke-width="5.0" stroke-linejoin="round" stroke-linecap="butt"/>
<path d="M182.5 928.9h1v10.7h-1zM191 928.9h0.5v10.7h-0.5zM194 928.9h1v10.7h-1zM197.5 928.9h1.5v10.7h-1.5zM201.5 928.9h1.5v10.7h-1.5zM208.5 928.9h0.5v10.7h-0.5zM229.5 928.9h1.5v10.7h-1.5zM258.5 928.9h0.5v10.7h-0.5zM313.5 928.9h0.5v10.7h-0.5zM317.5 928.9h0.5v10.7h-0.5zM345.5 928.9h0.5v10.7h-0.5zM349.5 928.9h2.5v10.7h-2.5zM363 928.9h0.5v10.7h-0.5zM372.5 928.9h0.5v10.7h-0.5zM380.5 928.9h0.5v10.7h-0.5zM387.5 928.9h0.5v10.7h-0.5zM388.5 928.9h0.5v10.7h-0.5zM395.5 928.9h0.5v10.7h-0.5zM400 928.9h0.5v10.7h-0.5zM404 928.9h0.5v10.7h-0.5zM407 928.9h0.5v10.7h-0.5zM411 928.9h1v10.7h-1zM420.5 928.9h0.5v10.7h-0.5zM431 928.9h2.5v10.7h-2.5zM472.5 928.9h2v10.7h-2zM475 928.9h2v10.7h-2zM485 928.9h2.5v10.7h-2.5zM491 928.9h2.5v10.7h-2.5zM511 928.9h3v10.7h-3zM568.5 928.9h2.5v10.7h-2.5zM580 928.9h3v10.7h-3z" fill="#000" fill-opacity="0.10"/>
<path d="M183.5 928.9h2v10.7h-2zM187 928.9h0.5v10.7h-0.5zM190 928.9h1v10.7h-1zM191.5 928.9h0.5v10.7h-0.5zM193 928.9h1v10.7h-1zM195 928.9h2.5v10.7h-2.5zM199 928.9h1.5v10.7h-1.5zM209 928.9h0.5v10.7h-0.5zM211.5 928.9h0.5v10.7h-0.5zM227.5 928.9h2v10.7h-2zM291.5 928.9h0.5v10.7h-0.5zM339 928.9h1v10.7h-1zM346 928.9h0.5v10.7h-0.5zM355 928.9h1v10.7h-1zM361 928.9h2v10.7h-2zM367 928.9h1.5v10.7h-1.5zM373 928.9h0.5v10.7h-0.5zM376.5 928.9h1v10.7h-1zM380 928.9h0.5v10.7h-0.5zM381 928.9h0.5v10.7h-0.5zM387 928.9h0.5v10.7h-0.5zM389 928.9h0.5v10.7h-0.5zM400.5 928.9h1v10.7h-1zM403 928.9h1v10.7h-1zM407.5 928.9h1v10.7h-1zM413.5 928.9h1.5v10.7h-1.5zM416 928.9h1v10.7h-1zM417.5 928.9h3v10.7h-3zM438 928.9h2.5v10.7h-2.5zM474.5 928.9h0.5v10.7h-0.5z" fill="#000" fill-opacity="0.20"/>
<path d="M176.5 928.9h0.5v10.7h-0.5zM185.5 928.9h1.5v10.7h-1.5zM187.5 928.9h1v10.7h-1zM189 928.9h1v10.7h-1zM192 928.9h1v10.7h-1zM200.5 928.9h1v10.7h-1zM209.5 928.9h1.5v10.7h-1.5zM212 928.9h3.5v10.7h-3.5zM219 928.9h3.5v10.7h-3.5zM226.5 928.9h1v10.7h-1zM263 928.9h1v10.7h-1zM292 928.9h0.5v10.7h-0.5zM298.5 928.9h1v10.7h-1zM304 928.9h1v10.7h-1zM305.5 928.9h1.5v10.7h-1.5zM318 928.9h0.5v10.7h-0.5zM332 928.9h2v10.7h-2zM346.5 928.9h0.5v10.7h-0.5zM348.5 928.9h1v10.7h-1zM352 928.9h0.5v10.7h-0.5zM356 928.9h0.5v10.7h-0.5zM359.5 928.9h1.5v10.7h-1.5zM363.5 928.9h3.5v10.7h-3.5zM373.5 928.9h3v10.7h-3zM377.5 928.9h2.5v10.7h-2.5zM382 928.9h1v10.7h-1zM384 928.9h0.5v10.7h-0.5zM389.5 928.9h1v10.7h-1zM395 928.9h0.5v10.7h-0.5zM401.5 928.9h1.5v10.7h-1.5zM415 928.9h1v10.7h-1zM417 928.9h0.5v10.7h-0.5z" fill="#000" fill-opacity="0.30"/>
<path d="M153 928.9h0.5v10.7h-0.5zM188.5 928.9h0.5v10.7h-0.5zM211 928.9h0.5v10.7h-0.5zM215.5 928.9h1v10.7h-1zM217 928.9h0.5v10.7h-0.5zM218.5 928.9h0.5v10.7h-0.5zM222.5 928.9h1.5v10.7h-1.5zM225.5 928.9h1v10.7h-1zM258 928.9h0.5v10.7h-0.5zM264 928.9h0.5v10.7h-0.5zM285.5 928.9h0.5v10.7h-0.5zM292.5 928.9h1v10.7h-1zM298 928.9h0.5v10.7h-0.5zM299.5 928.9h0.5v10.7h-0.5zM302.5 928.9h1.5v10.7h-1.5zM305 928.9h0.5v10.7h-0.5zM307 928.9h0.5v10.7h-0.5zM313 928.9h0.5v10.7h-0.5zM323.5 928.9h0.5v10.7h-0.5zM327.5 928.9h0.5v10.7h-0.5zM331.5 928.9h0.5v10.7h-0.5zM334 928.9h1v10.7h-1zM338.5 928.9h0.5v10.7h-0.5zM347 928.9h0.5v10.7h-0.5zM348 928.9h0.5v10.7h-0.5zM354.5 928.9h0.5v10.7h-0.5zM356.5 928.9h0.5v10.7h-0.5zM381.5 928.9h0.5v10.7h-0.5zM383 928.9h1v10.7h-1zM386.5 928.9h0.5v10.7h-0.5zM390.5 928.9h0.5v10.7h-0.5zM391.5 928.9h1v10.7h-1zM394 928.9h1v10.7h-1zM408.5 928.9h0.5v10.7h-0.5zM409.5 928.9h1.5v10.7h-1.5z" fill="#000" fill-opacity="0.40"/>
<path d="M216.5 928.9h0.5v10.7h-0.5zM217.5 928.9h1v10.7h-1zM224 928.9h0.5v10.7h-0.5zM225 928.9h0.5v10.7h-0.5zM235.5 928.9h0.5v10.7h-0.5zM257.5 928.9h0.5v10.7h-0.5zM264.5 928.9h0.5v10.7h-0.5zM278.5 928.9h0.5v10.7h-0.5zM293.5 928.9h1.5v10.7h-1.5zM297 928.9h1v10.7h-1zM300 928.9h1v10.7h-1zM302 928.9h0.5v10.7h-0.5zM307.5 928.9h1.5v10.7h-1.5zM318.5 928.9h1v10.7h-1zM321.5 928.9h2v10.7h-2zM324 928.9h0.5v10.7h-0.5zM327 928.9h0.5v10.7h-0.5zM328 928.9h0.5v10.7h-0.5zM331 928.9h0.5v10.7h-0.5zM335 928.9h1.5v10.7h-1.5zM337 928.9h1.5v10.7h-1.5zM347.5 928.9h0.5v10.7h-0.5zM352.5 928.9h1v10.7h-1zM354 928.9h0.5v10.7h-0.5zM358.5 928.9h1v10.7h-1zM384.5 928.9h2v10.7h-2zM391 928.9h0.5v10.7h-0.5zM392.5 928.9h1.5v10.7h-1.5zM409 928.9h0.5v10.7h-0.5z" fill="#000" fill-opacity="0.50"/>
<path d="M224.5 928.9h0.5v10.7h-0.5zM236 928.9h0.5v10.7h-0.5zM269.5 928.9h0.5v10.7h-0.5zM277 928.9h1.5v10.7h-1.5zM279 928.9h1v10.7h-1zM282 928.9h0.5v10.7h-0.5zM285 928.9h0.5v10.7h-0.5zM295 928.9h2v10.7h-2zM301 928.9h1v10.7h-1zM309 928.9h1.5v10.7h-1.5zM312.5 928.9h0.5v10.7h-0.5zM319.5 928.9h2v10.7h-2zM324.5 928.9h2.5v10.7h-2.5zM328.5 928.9h0.5v10.7h-0.5zM330.5 928.9h0.5v10.7h-0.5zM336.5 928.9h0.5v10.7h-0.5zM353.5 928.9h0.5v10.7h-0.5zM357 928.9h1.5v10.7h-1.5z" fill="#000" fill-opacity="0.60"/>
<path d="M236.5 928.9h0.5v10.7h-0.5zM245.5 928.9h0.5v10.7h-0.5zM257 928.9h0.5v10.7h-0.5zM265 928.9h1v10.7h-1zM268.5 928.9h1v10.7h-1zM270 928.9h2v10.7h-2zM273 928.9h4v10.7h-4zM280 928.9h2v10.7h-2zM282.5 928.9h1v10.7h-1zM284.5 928.9h0.5v10.7h-0.5zM310.5 928.9h0.5v10.7h-0.5zM311.5 928.9h1v10.7h-1zM329 928.9h1.5v10.7h-1.5z" fill="#000" fill-opacity="0.70"/>
<path d="M237 928.9h0.5v10.7h-0.5zM238.5 928.9h0.5v10.7h-0.5zM243 928.9h2.5v10.7h-2.5zM246 928.9h1v10.7h-1zM256.5 928.9h0.5v10.7h-0.5zM266 928.9h2.5v10.7h-2.5zM272 928.9h1v10.7h-1zM283.5 928.9h1v10.7h-1zM311 928.9h0.5v10.7h-0.5z" fill="#000" fill-opacity="0.80"/>
<path d="M153.5 928.9h0.5v10.7h-0.5zM176 928.9h0.5v10.7h-0.5zM237.5 928.9h1v10.7h-1zM239 928.9h4v10.7h-4zM247 928.9h9.5v10.7h-9.5z" fill="#000" fill-opacity="0.90"/>
<path d="M154 928.9h22v10.7h-22z" fill="#000" fill-opacity="1.00"/>
<rect x="138.00" y="568.14" width="463.0" height="186.05" fill="#4f8b00" fill-opacity="0.1"/>
<rect x="138.00" y="754.19" width="463.0" height="185.45" fill="#ff0000" fill-opacity="0.1"/>
</g>
<path d="M128.90 569.34h9.6M128.90 661.76h9.6M128.90 754.19h9.6M128.90 846.62h9.6M128.90 939.04h9.6M165.00 939.14v9.3M301.98 939.14v9.3M438.96 939.14v9.3M575.94 939.14v9.3" stroke="#222" stroke-width="1.7" fill="none"/>
<text transform="translate(83.75 576.74) scale(1.0528 1)" font-size="24">0.2</text>
<text transform="translate(88.60 669.16) scale(0.9024 1)" font-size="24">0.1</text>
<text transform="translate(104.00 761.59) scale(1.0957 1)" font-size="24">0</text>
<text transform="translate(76.18 854.01) scale(0.8978 1)" font-size="24">−0.1</text>
<text transform="translate(71.66 946.44) scale(0.9956 1)" font-size="24">−0.2</text>
<text transform="translate(157.70 977.24) scale(1.0957 1)" font-size="24">0</text>
<text transform="translate(295.13 977.24) scale(1.0489 1)" font-size="24">5</text>
<text transform="translate(425.71 977.24) scale(0.9708 1)" font-size="24">10</text>
<text transform="translate(563.89 977.24) scale(0.8833 1)" font-size="24">15</text>
<text transform="translate(138.55 547.90) scale(0.9989 1)" font-size="28">Odisha</text>
<text transform="translate(233.40 1018.00) scale(1.0460 1)" font-size="28">Number of irrigations</text>
<text transform="translate(22.50 863.50) rotate(-90) scale(1.0049 1)" font-size="28">Influence on NUE</text>
<text transform="translate(55.60 850.09) rotate(-90) scale(0.9984 1)" font-size="28">(Shapley value)</text>
</g>
<g id="pa4">
<g clip-path="url(#ca4)">
<rect x="716.00" y="568.14" width="462.0" height="371.50" fill="#ebebeb"/>
<path d="M798.45 568.1v371.5M947.35 568.1v371.5M1096.25 568.1v371.5M716 615.55h462.0M716 707.98h462.0M716 800.40h462.0M716 892.83h462.0" stroke="#ffffff" stroke-width="1.0" fill="none"/>
<path d="M724.00 568.1v371.5M872.90 568.1v371.5M1021.80 568.1v371.5M1170.70 568.1v371.5M716 569.34h462.0M716 661.76h462.0M716 754.19h462.0M716 846.62h462.0M716 939.04h462.0" stroke="#ffffff" stroke-width="2.0" fill="none"/>
<path d="M753.8 811.8h0M761.2 727h0m0 5.4h0m0 5.5h0m0 5.5h0m0 5.5h0m0 5.5h0m0 5.5h0m0 5.5h0m0 5.5h0m0 5.5h0m0 5.5h0m0 5.5h0m0 5.4h0m0 5.5h0m0 5.5h0m0 5.5h0m0 5.5h0m0 5.5h0m0 5.5h0m0 5.5h0m0 5.5h0m0 55.3h0m0 1.6h0m0 31.1h0M768.7 680.8h0m0 24.4h0m0 5.5h0m0 5.6h0m0 5.6h0m0 5.5h0m0 5.6h0m0 5.6h0m0 5.5h0m0 5.6h0m0 5.6h0m0 5.6h0m0 5.5h0m0 5.6h0m0 5.6h0m0 5.5h0m0 5.6h0m0 5.6h0m0 5.5h0m0 5.6h0m0 5.6h0m0 5.5h0m0 5.6h0m0 5.6h0m0 5.5h0m0 5.6h0m0 5.6h0m0 5.5h0m0 5.6h0m0 5.6h0m0 5.5h0m0 5.6h0m0 5.6h0m0 5.5h0m0 5.6h0m0 5.6h0m0 5.5h0m0 5.6h0m0 5.6h0m0 5.5h0m0 5.6h0m0 5.6h0M776.1 629.4h0m0 53.6h0m0 6.9h0m0 15.3h0m0 5.5h0m0 5.6h0m0 5.6h0m0 5.5h0m0 5.6h0m0 5.6h0m0 5.5h0m0 5.6h0m0 5.6h0m0 5.6h0m0 5.5h0m0 5.6h0m0 5.6h0m0 5.5h0m0 5.6h0m0 5.6h0m0 5.5h0m0 5.6h0m0 5.6h0m0 5.5h0m0 5.6h0m0 5.6h0m0 5.5h0m0 5.6h0m0 5.6h0m0 5.5h0m0 5.6h0m0 5.6h0m0 5.5h0m0 5.6h0m0 5.6h0m0 5.5h0m0 5.6h0m0 5.6h0m0 5.5h0m0 5.6h0m0 5.6h0m0 5.5h0m0 5.6h0m0 5.6h0M783.6 672h0m0 49.3h0m0 5.5h0m0 5.6h0m0 5.6h0m0 5.6h0m0 5.6h0m0 5.5h0m0 5.6h0m0 5.6h0m0 5.6h0m0 5.5h0m0 5.6h0m0 5.6h0m0 5.6h0m0 5.6h0m0 5.5h0m0 5.6h0m0 5.6h0m0 5.6h0m0 5.5h0m0 5.6h0m0 5.6h0m0 5.6h0m0 5.6h0m0 5.5h0m0 5.6h0m0 5.6h0m0 5.6h0m0 5.5h0m0 5.6h0m0 5.6h0m0 5.6h0m0 5.6h0m0 5.5h0m0 5.6h0m0 5.6h0M791 752.6h0m0 7.1h0m0 1.4h0m0 0.6h0m0 1.1h0m0 5.4h0m0 7.6h0m0 45h0m0 22.9h0m0 3.8h0m0 0.3h0m0 2.1h0m0 13.4h0m0 2.7h0m0 4.9h0m0 31.2h0m0 1.8h0m0 9.4h0m0 3.2h0M798.5 680.8h0m0 10.5h0m0 5.5h0m0 11.1h0m0 20.9h0m0 14.5h0m0 1.1h0m0 18h0m0 4.8h0m0 1.6h0m0 4.6h0m0 15h0m0 4.5h0m0 10.7h0m0 6.3h0m0 17h0m0 1.8h0m0 3h0m0 8.7h0m0 3.3h0m0 13.3h0m0 8.2h0m0 2.7h0m0 3.7h0m0 7.9h0m0 25.4h0m0 0.5h0m0 0.6h0m0 16.2h0M805.9 734.1h0m0 6.7h0m0 7h0m0 1.9h0m0 3.7h0m0 8.1h0m0 8.9h0m0 33.6h0m0 2.4h0m0 9.1h0m0 9.9h0m0 4.2h0m0 7.4h0m0 4h0m0 15.5h0m0 5h0m0 3.7h0m0 24.2h0m0 16.6h0m0 21.8h0M813.3 691.3h0m0 6.9h0m0 6.8h0m0 6.9h0m0 22.2h0m0 12.4h0m0 6.3h0m0 0.6h0m0 1.6h0m0 2.4h0m0 9.5h0m0 8.5h0m0 28.1h0m0 0.7h0m0 0.5h0m0 6.8h0m0 19.4h0m0 3.3h0m0 12.8h0m0 6.7h0m0 8.7h0m0 15.6h0m0 24.2h0m0 14.2h0M820.8 741.2h0m0 2.3h0m0 24.6h0m0 14.2h0m0 15.3h0m0 5.2h0m0 10.7h0m0 1.9h0m0 19.8h0m0 5.3h0m0 7.5h0m0 5.3h0m0 9.1h0m0 29.8h0M828.2 703.7h0m0 30.4h0m0 6.3h0m0 3.1h0m0 8.3h0m0 2.3h0m0 10.2h0m0 3.1h0m0 3.6h0m0 23.3h0m0 4.1h0m0 4.2h0m0 12.7h0m0 4.6h0m0 26.4h0m0 4.7h0m0 27h0M835.7 680.8h0m0 14.6h0m0 11h0m0 12.4h0m0 15.3h0m0 15.1h0m0 13.7h0m0 0.4h0m0 0.4h0m0 9.3h0m0 1.9h0m0 5.2h0m0 14.7h0m0 8.4h0m0 1h0m0 34.2h0m0 8.4h0m0 4.8h0m0 3.6h0m0 1.5h0M843.1 741.2h0m0 2.4h0m0 8.5h0m0 11.7h0m0 39h0m0 1.5h0m0 2.5h0m0 5.9h0m0 16.6h0m0 1.4h0m0 4.1h0m0 6.6h0m0 8.6h0m0 8.1h0M850.6 681.1h0m0 56.9h0m0 16h0m0 7.2h0m0 9.3h0m0 1.2h0m0 6.5h0m0 4.4h0m0 1.3h0m0 18.4h0m0 13.1h0m0 15.5h0m0 11.4h0m0 1.9h0m0 6.8h0m0 18.4h0m0 24.9h0M858 690.5h0m0 28.3h0m0 38.1h0m0 3.4h0m0 3h0m0 14.2h0m0 1.6h0m0 0.4h0m0 14.6h0m0 15.1h0m0 16.3h0m0 9h0m0 4.1h0m0 7.3h0m0 5.1h0m0 19.8h0M865.5 705h0m0 27.5h0m0 24.4h0m0 11.8h0m0 1.4h0m0 4h0m0 16.9h0m0 0.5h0m0 2.3h0m0 1.7h0m0 1.9h0m0 4h0m0 7.3h0m0 1.4h0m0 32.6h0m0 11.6h0m0 15.2h0M872.9 705h0m0 14.6h0m0 10.2h0m0 8.2h0m0 5.5h0m0 16.2h0m0 7.5h0m0 4.2h0m0 2.9h0m0 34.8h0m0 5.3h0m0 9.4h0m0 3.1h0m0 3.8h0m0 15.1h0m0 3.9h0m0 4.4h0m0 12.6h0m0 4.2h0M880.3 772.5h0m0 3.1h0m0 21.1h0m0 5.9h0m0 31.1h0m0 3.1h0M887.8 719.3h0m0 29h0m0 3.8h0m0 2.9h0m0 12.1h0m0 7.4h0m0 8h0m0 15.8h0m0 25.2h0m0 4.6h0m0 5.6h0m0 8.4h0m0 1.9h0m0 10.3h0m0 4.9h0m0 7.2h0m0 10.5h0m0 9.7h0m0 35.5h0M895.2 762.5h0m0 8.3h0m0 1h0m0 4.8h0m0 8.4h0m0 0.8h0m0 25.2h0m0 16.9h0m0 4.4h0m0 22.8h0m0 6.6h0m0 16.7h0m0 0.9h0m0 34.7h0M902.7 761.1h0m0 22.2h0m0 7h0m0 2.4h0m0 19.3h0m0 4.8h0m0 6.4h0m0 12.7h0m0 3.3h0m0 0.6h0m0 22.6h0m0 18.3h0m0 11.9h0m0 1.1h0M910.1 759.7h0m0 17.2h0m0 7.3h0m0 9.7h0m0 3.9h0m0 5.2h0m0 4h0m0 24.3h0m0 13.5h0m0 1.2h0m0 2.3h0m0 8.6h0m0 5.6h0m0 9.5h0m0 3.5h0m0 14.3h0m0 6.8h0m0 19.8h0m0 10h0M917.6 762.5h0m0 2.6h0m0 0.3h0m0 26.5h0m0 8.3h0m0 9.9h0m0 8.4h0m0 7.3h0m0 0.4h0m0 5.9h0m0 7.4h0m0 24.5h0m0 8.4h0m0 26.9h0m0 11.5h0M925 692.7h0m0 9.6h0m0 6.9h0m0 14.9h0m0 6.2h0m0 29.3h0m0 6.7h0m0 6.9h0m0 19.3h0m0 1.8h0m0 7.6h0m0 0.8h0m0 10.1h0m0 3.8h0m0 1.5h0m0 3.5h0m0 8.9h0m0 1.8h0m0 19.2h0m0 20.9h0m0 16.9h0M932.5 673.9h0m0 14.6h0m0 11h0m0 17.5h0m0 5.5h0m0 10.1h0m0 12.4h0m0 3h0m0 4h0m0 4.9h0m0 21.8h0m0 4.3h0m0 4.5h0m0 6.5h0m0 3h0m0 16.5h0m0 3h0m0 10.3h0m0 38.4h0m0 46.9h0M939.9 727h0m0 7.3h0m0 17.7h0m0 5.1h0m0 11.3h0m0 7.5h0m0 9.1h0m0 13.9h0m0 2.8h0m0 15.6h0m0 3.9h0m0 2.8h0m0 22.2h0m0 4.8h0m0 34.1h0M947.4 673.5h0m0 8.6h0m0 3.3h0m0 8.7h0m0 5.7h0m0 0.8h0m0 2.7h0m0 6.7h0m0 2.8h0m0 0.8h0m0 65.6h0m0 1.4h0m0 3.3h0m0 0.3h0m0 1.2h0m0 3.2h0m0 16.6h0m0 8.4h0m0 1.2h0m0 6.7h0m0 0.4h0M954.8 688.6h0m0 3.3h0m0 7.7h0m0 4.2h0m0 1.3h0m0 1.2h0m0 2.5h0m0 10.7h0m0 4.6h0m0 3.2h0m0 55.5h0m0 0.6h0m0 4.3h0m0 1.3h0m0 4h0m0 6.8h0m0 1h0m0 10.5h0m0 7.9h0M962.2 679h0m0 5.3h0m0 3.9h0m0 10.6h0m0 3.1h0m0 1.6h0m0 11h0m0 1.8h0m0 2h0m0 4.7h0m0 62.4h0m0 2.5h0m0 2.3h0m0 1.9h0m0 2.7h0m0 0.6h0m0 4.1h0m0 5.3h0m0 2.2h0m0 3.9h0m0 19.3h0m0 17.9h0M969.7 677.6h0m0 0.9h0m0 2.4h0m0 10.2h0m0 5h0m0 6.6h0m0 0.9h0m0 7.9h0m0 2.2h0m0 2.7h0m0 7h0m0 1.3h0m0 64.9h0m0 0.3h0m0 0.6h0m0 0.3h0m0 1.7h0m0 5.4h0m0 6h0m0 1.2h0m0 2.7h0m0 10.9h0m0 7.5h0m0 9.5h0m0 16.6h0m0 25.6h0M977.1 571.6h0m0 95.5h0m0 10.5h0m0 0.7h0m0 1.6h0m0 10.3h0m0 6.1h0m0 4.4h0m0 8h0m0 1.7h0m0 2.5h0m0 8.4h0m0 66h0m0 4h0m0 3.4h0m0 1.2h0m0 2h0m0 0.6h0m0 3.8h0m0 22.3h0m0 1.2h0m0 1h0m0 3.4h0M984.6 677.6h0m0 6.6h0m0 12.2h0m0 7.4h0m0 3.7h0m0 5.3h0m0 2h0m0 1.1h0m0 3.3h0m0 0.7h0m0 59.2h0m0 5.4h0m0 1h0m0 9.2h0m0 7.3h0m0 0.4h0m0 2.9h0m0 6.8h0m0 3.2h0m0 3.8h0m0 2.8h0M992 679h0m0 16.7h0m0 3h0m0 1.4h0m0 4.9h0m0 0.7h0m0 0.3h0m0 0.7h0m0 3.2h0m0 8.4h0m0 58.9h0m0 0.7h0m0 5.4h0m0 3.3h0m0 0.8h0m0 1.3h0m0 5.1h0m0 2h0m0 5.1h0m0 18.3h0m0 25.4h0M999.5 665.1h0m0 26.3h0m0 16h0m0 0.4h0m0 2.2h0m0 5.6h0m0 3.6h0m0 2.6h0m0 1.4h0m0 64.7h0m0 5.8h0m0 2.3h0m0 1h0m0 1.2h0m0 7.6h0m0 0.8h0m0 3.2h0m0 13.7h0m0 3.9h0M1006.9 663.8h0m0 8.2h0m0 8.3h0m0 8.3h0m0 13.8h0m0 9.2h0m0 0.3h0m0 1.8h0m0 2h0m0 1.6h0m0 1.5h0m0 7.4h0m0 54.4h0m0 0.6h0m0 3.8h0m0 7.7h0m0 2.7h0m0 3.3h0m0 4.6h0m0 7h0m0 6.1h0M1014.4 691.4h0m0 10.7h0m0 3.8h0m0 3.6h0m0 4.2h0m0 7.7h0m0 2.1h0m0 2.8h0m0 6.5h0m0 61.9h0m0 3.6h0m0 1.2h0m0 0.5h0m0 1.5h0m0 5.6h0m0 0.6h0m0 1.1h0m0 10.1h0m0 11.3h0M1021.8 672.1h0m0 11.1h0m0 2.3h0m0 13.4h0m0 4.4h0m0 0.3h0m0 0.8h0m0 1.2h0m0 6.4h0m0 3.1h0m0 1.7h0m0 64.8h0m0 4h0m0 2h0m0 0.4h0m0 1.7h0m0 4.8h0m0 1.2h0m0 17.3h0m0 11h0m0 0.7h0m0 16.6h0m0 14.3h0M1029.2 665.2h0m0 1h0m0 8.1h0m0 11.1h0m0 2.5h0m0 5.4h0m0 5.2h0m0 0.7h0m0 0.3h0m0 2.7h0m0 5.7h0m0 61h0m0 0.5h0m0 2.3h0m0 7.5h0m0 2.2h0m0 3.2h0m0 2.4h0m0 1.6h0m0 1.1h0m0 21.2h0M1036.7 606h0m0 24.8h0m0 23.3h0m0 12.5h0m0 8.6h0m0 8.8h0m0 3.2h0m0 2.7h0m0 9.1h0m0 0.6h0m0 3.5h0m0 1.2h0m0 2.8h0m0 1.8h0m0 59.7h0m0 6.9h0m0 1.2h0m0 0.9h0m0 0.4h0m0 5.3h0m0 7.5h0m0 6.9h0m0 10.4h0m0 15.3h0m0 11h0M1044.1 634.9h0m0 6.9h0m0 22.1h0m0 3.2h0m0 16.1h0m0 1.9h0m0 3.1h0m0 1.1h0m0 10.7h0m0 0.9h0m0 0.7h0m0 57.1h0m0 2.3h0m0 0.9h0m0 3h0m0 3h0m0 3.5h0m0 13.8h0m0 9.2h0M1051.6 636.3h0m0 41.3h0m0 4.3h0m0 4.6h0m0 4.5h0m0 1.7h0m0 4.1h0m0 4.4h0m0 0.8h0m0 3.5h0m0 55.9h0m0 4.6h0m0 11.7h0m0 0.9h0m0 1.3h0m0 3.2h0m0 6.1h0m0 1.6h0m0 0.9h0M1059 634.9h0m0 4.1h0m0 17.9h0m0 9.7h0m0 7.8h0m0 10.3h0m0 1.4h0m0 0.4h0m0 5.7h0m0 7.6h0m0 0.9h0m0 1.7h0m0 0.9h0m0 56.7h0m0 2.2h0m0 1.9h0m0 5h0m0 0.6h0m0 6.9h0m0 6.1h0m0 6h0m0 8.6h0m0 2.6h0M1066.5 649.5h0m0 28.1h0m0 8.1h0m0 4.9h0m0 8.2h0m0 5.7h0m0 0.8h0m0 4.3h0m0 1.5h0m0 0.4h0m0 49.2h0m0 0.6h0m0 4.3h0m0 6.3h0m0 4.2h0m0 1.9h0m0 8.9h0m0 0.9h0m0 3.9h0M1073.9 648.6h0m0 9.7h0m0 19.3h0m0 10.1h0m0 8.1h0m0 0.6h0m0 1.7h0m0 7.1h0m0 4.8h0m0 0.4h0m0 50h0m0 1.7h0m0 5.1h0m0 6h0m0 1.8h0m0 3.4h0m0 9.3h0m0 3.3h0m0 3.4h0M1081.4 659.6h0m0 11h0m0 9.8h0m0 1.6h0m0 3.4h0m0 1.8h0m0 9h0m0 3.4h0m0 3.5h0m0 2.9h0m0 5.3h0m0 55.2h0m0 0.6h0m0 2.3h0m0 5.1h0m0 1.8h0m0 1.7h0m0 5.3h0m0 2.7h0m0 16.7h0M1088.8 677.6h0m0 2h0m0 14.5h0m0 0.7h0m0 4.4h0m0 4.2h0m0 5.2h0m0 2.5h0m0 49.2h0m0 1.9h0m0 0.9h0m0 1.2h0m0 13.5h0m0 3.7h0m0 6.8h0m0 6.1h0M1096.2 627.2h0m0 6.3h0m0 12.4h0m0 12.4h0m0 8.3h0m0 12.5h0m0 2.9h0m0 8.1h0m0 2h0m0 0.4h0m0 3.8h0m0 3h0m0 4.7h0m0 0.4h0m0 0.3h0m0 64.2h0m0 0.6h0m0 1.5h0m0 0.7h0m0 0.7h0m0 3.6h0m0 13.7h0m0 2.5h0m0 15.7h0m0 3h0m0 22.7h0M1103.7 641.8h0m0 22.1h0m0 7.5h0m0 4.3h0m0 0.4h0m0 0.7h0m0 4.1h0m0 1.8h0m0 1.3h0m0 6.5h0m0 6.4h0m0 62.7h0m0 0.9h0m0 1.2h0m0 5.3h0m0 0.7h0m0 9.5h0m0 8.4h0m0 8.3h0m0 0.5h0M1111.1 622.6h0m0 6.6h0m0 16.2h0m0 5.4h0m0 2.8h0m0 0.5h0m0 3.6h0m0 9.1h0m0 4.3h0m0 2.3h0m0 5.6h0m0 82h0m0 7.8h0m0 1.5h0m0 3.6h0m0 0.9h0m0 6h0m0 1.5h0m0 2.2h0m0 6h0m0 0.5h0m0 3.8h0m0 7.1h0m0 3.9h0m0 7.9h0m0 15.2h0M1118.6 593.6h0m0 11h0m0 16.6h0m0 12.3h0m0 0.4h0m0 3.5h0m0 5.9h0m0 21.8h0m0 6.9h0m0 2.2h0m0 0.7h0m0 0.5h0m0 0.4h0m0 0.3h0m0 2.1h0m0 1.6h0m0 78.3h0m0 0.7h0m0 3.9h0m0 1.4h0m0 3.1h0m0 5.3h0m0 1.9h0m0 8.3h0m0 1.9h0m0 25.7h0m0 0.7h0m0 0.3h0m0 5.1h0m0 16.6h0M1126 577.1h0m0 5.5h0m0 15.2h0m0 15.1h0m0 9.7h0m0 2.3h0m0 4.3h0m0 10.2h0m0 4.3h0m0 9.6h0m0 2.8h0m0 3.8h0m0 5.2h0m0 4.8h0m0 0.3h0m0 2.9h0m0 3.6h0m0 0.4h0m0 78.9h0m0 4.3h0m0 0.6h0m0 1.1h0m0 5.6h0m0 2h0m0 2.4h0m0 3.6h0m0 3.5h0m0 7.3h0m0 13.5h0m0 6.5h0m0 1.8h0M1133.5 606h0m0 8.3h0m0 16.6h0m0 15.7h0m0 5.7h0m0 3.5h0m0 5.5h0m0 6.8h0m0 0.7h0m0 1.1h0m0 4.5h0m0 0.5h0m0 1.8h0m0 2.5h0m0 4.7h0m0 3h0m0 91.2h0m0 2.1h0m0 2.4h0m0 4.3h0m0 2.3h0m0 0.7h0m0 3.2h0m0 11.1h0m0 1.2h0m0 6.2h0m0 0.4h0m0 27.3h0m0 1.9h0m0 13.8h0M1140.9 680.4h0m0 13.7h0m0 3.2h0m0 3.9h0m0 0.9h0m0 1.8h0m0 3.2h0m0 7.3h0m0 2.8h0m0 3.6h0m0 59.4h0m0 0.9h0m0 3.2h0m0 0.3h0m0 4.7h0m0 4.3h0m0 5.6h0m0 4.8h0m0 6.4h0m0 3.1h0m0 8.4h0M1148.4 732.6h0m0 8h0m0 21.1h0m0 13.5h0m0 3.4h0m0 10.8h0m0 4.9h0M1155.8 655.5h0m0 31.7h0m0 6.8h0m0 11.1h0m0 8h0m0 12.1h0m0 4.7h0m0 19.2h0m0 2.4h0m0 25h0m0 2h0m0 11.1h0m0 0.4h0m0 8h0m0 0.9h0m0 17.5h0M1163.3 710.5h0m0 11.1h0m0 3.9h0m0 1.2h0m0 1.5h0m0 8.3h0m0 21.7h0m0 0.5h0m0 12.1h0m0 0.4h0m0 7h0m0 4.5h0m0 27.2h0m0 9.2h0m0 11.1h0M1170.7 628h0m0 14.6h0m0 43.2h0m0 9.6h0m0 20.7h0m0 3.8h0m0 10.9h0m0 5.2h0m0 1.6h0m0 11h0m0 9.2h0m0 7h0m0 0.8h0m0 7.6h0m0 31.6h0m0 5h0m0 3.4h0m0 2.8h0m0 2.4h0m0 17.3h0m0 22.6h0M947.4 718v59.4M954.8 727.8v52.2M962.2 724.3v60.5M969.7 725v63.2M977.1 723.4v61M984.6 720.9v57.7M992 721v56.1M999.5 732.2v54.4M1006.9 727v51.1M1014.4 733v55.5M1021.8 717.9v61M1029.2 708.9v58.3M1036.7 709.1v56.6M1044.1 703v52.2M1051.6 711.8v45.6M1059 706.6v53.3M1066.5 711.8v45.6M1073.9 712.7v46.7M1081.4 717.1v48.9M1088.8 712.7v46.7M1096.2 709.9v57.7M1103.7 703v52.2M1111.1 679.9v76.4M1118.6 679.8v78.1M1126 678.3v74.2M1133.5 694v84.1M1140.9 722.8v56.6" fill="none" stroke="#bebebe" stroke-width="11.4" stroke-linecap="round"/>
<path d="M753.6 812.4 757.1 813.3 760.6 814.2 764.1 814.8 767.6 815.2 771.1 815.3 774.6 815.1 778.1 814.7 781.6 814 785.1 813.2 788.6 812 792.1 810.6 795.6 808.7 799.1 806.6 802.6 804.1 806.1 801.3 809.7 798.5 813.2 795.5 816.7 792.6 820.2 790 823.7 787.6 827.2 785.6 830.7 784.1 834.2 783.1 837.7 782.6 841.2 782.7 844.7 783.6 848.2 785.2 851.7 787.6 855.2 790.8 858.7 794.8 862.2 799.3 865.7 804 869.2 808.9 872.7 813.7 876.2 818.3 879.7 822.5 883.2 826.1 886.7 829 890.2 830.9 893.7 831.7 897.3 831.1 900.8 829.3 904.3 826.2 907.8 821.9 911.3 816.5 914.8 810.2 918.3 803.1 921.8 795.6 925.3 787.9 928.8 780.2 932.3 772.7 935.8 765.2 939.3 758.5 942.8 753.8 946.3 751.3 949.8 749.5 953.3 748 956.8 747 960.3 747.1 963.8 747.9 967.3 749 970.8 750.3 974.3 751.6 977.8 752.8 981.4 753.8 984.9 754.6 988.4 755 991.9 755.1 995.4 754.7 998.9 754 1002.4 752.9 1005.9 751.5 1009.4 750 1012.9 748.3 1016.4 746.5 1019.9 744.7 1023.4 742.8 1026.9 741.1 1030.4 739.5 1033.9 738.1 1037.4 736.9 1040.9 736 1044.4 735.3 1047.9 734.8 1051.4 734.4 1054.9 734.2 1058.4 734 1061.9 733.9 1065.4 733.7 1069 733.4 1072.5 733 1076 732.3 1079.5 731.4 1083 730.2 1086.5 728.8 1090 727.4 1093.5 726.2 1097 725 1100.5 724 1104 723.1 1107.5 722.3 1111 721.7 1114.5 721.2 1118 721 1121.5 721.1 1125 721.6 1128.5 722.5 1132 724 1135.5 726 1139 728.5 1142.5 731.5 1146 735 1149.5 738.6 1153.1 742.2 1156.6 745.7 1160.1 748.9 1163.6 752 1167.1 754.9 1170.6 757.8" fill="none" stroke="#000" stroke-width="5.0" stroke-linejoin="round" stroke-linecap="butt"/>
<path d="M749 928.9h0.5v10.7h-0.5zM753.5 928.9h0.5v10.7h-0.5zM755.5 928.9h1v10.7h-1zM882 928.9h1v10.7h-1zM883.5 928.9h1v10.7h-1zM1175 928.9h0.5v10.7h-0.5z" fill="#000" fill-opacity="0.10"/>
<path d="M752 928.9h0.5v10.7h-0.5zM754 928.9h1.5v10.7h-1.5zM870.5 928.9h3v10.7h-3zM877.5 928.9h1.5v10.7h-1.5zM880.5 928.9h1.5v10.7h-1.5zM883 928.9h0.5v10.7h-0.5z" fill="#000" fill-opacity="0.20"/>
<path d="M749.5 928.9h0.5v10.7h-0.5zM751.5 928.9h0.5v10.7h-0.5zM756.5 928.9h0.5v10.7h-0.5zM870 928.9h0.5v10.7h-0.5zM873.5 928.9h1.5v10.7h-1.5zM876.5 928.9h1v10.7h-1zM879 928.9h1.5v10.7h-1.5zM884.5 928.9h0.5v10.7h-0.5zM1157.5 928.9h1v10.7h-1z" fill="#000" fill-opacity="0.30"/>
<path d="M750 928.9h1.5v10.7h-1.5zM757 928.9h0.5v10.7h-0.5zM865 928.9h2v10.7h-2zM869.5 928.9h0.5v10.7h-0.5zM875 928.9h1.5v10.7h-1.5zM885 928.9h0.5v10.7h-0.5zM909 928.9h0.5v10.7h-0.5zM1157 928.9h0.5v10.7h-0.5z" fill="#000" fill-opacity="0.40"/>
<path d="M757.5 928.9h0.5v10.7h-0.5zM846 928.9h0.5v10.7h-0.5zM856.5 928.9h0.5v10.7h-0.5zM860.5 928.9h4.5v10.7h-4.5zM867 928.9h0.5v10.7h-0.5zM890.5 928.9h1v10.7h-1zM897.5 928.9h0.5v10.7h-0.5zM901.5 928.9h1v10.7h-1zM907.5 928.9h1.5v10.7h-1.5zM909.5 928.9h0.5v10.7h-0.5zM921.5 928.9h1v10.7h-1zM1158.5 928.9h0.5v10.7h-0.5z" fill="#000" fill-opacity="0.50"/>
<path d="M844.5 928.9h1.5v10.7h-1.5zM852.5 928.9h1v10.7h-1zM856 928.9h0.5v10.7h-0.5zM857 928.9h0.5v10.7h-0.5zM860 928.9h0.5v10.7h-0.5zM867.5 928.9h1v10.7h-1zM869 928.9h0.5v10.7h-0.5zM885.5 928.9h1v10.7h-1zM889.5 928.9h1v10.7h-1zM891.5 928.9h0.5v10.7h-0.5zM894.5 928.9h1v10.7h-1zM896 928.9h1.5v10.7h-1.5zM898 928.9h3.5v10.7h-3.5zM902.5 928.9h0.5v10.7h-0.5zM906 928.9h1.5v10.7h-1.5zM910 928.9h0.5v10.7h-0.5zM914 928.9h1v10.7h-1zM916 928.9h0.5v10.7h-0.5zM920 928.9h1.5v10.7h-1.5zM922.5 928.9h1.5v10.7h-1.5zM1156.5 928.9h0.5v10.7h-0.5zM1159 928.9h0.5v10.7h-0.5zM1165 928.9h0.5v10.7h-0.5zM1174.5 928.9h0.5v10.7h-0.5z" fill="#000" fill-opacity="0.60"/>
<path d="M758 928.9h0.5v10.7h-0.5zM761.5 928.9h1v10.7h-1zM824 928.9h1v10.7h-1zM831 928.9h4.5v10.7h-4.5zM836 928.9h0.5v10.7h-0.5zM838 928.9h0.5v10.7h-0.5zM839.5 928.9h2.5v10.7h-2.5zM846.5 928.9h3.5v10.7h-3.5zM851 928.9h1.5v10.7h-1.5zM853.5 928.9h2.5v10.7h-2.5zM857.5 928.9h2.5v10.7h-2.5zM868.5 928.9h0.5v10.7h-0.5zM886.5 928.9h3v10.7h-3zM892 928.9h2.5v10.7h-2.5zM895.5 928.9h0.5v10.7h-0.5zM903 928.9h0.5v10.7h-0.5zM905.5 928.9h0.5v10.7h-0.5zM913 928.9h1v10.7h-1zM915 928.9h1v10.7h-1zM916.5 928.9h0.5v10.7h-0.5zM918 928.9h0.5v10.7h-0.5zM919 928.9h1v10.7h-1zM924 928.9h0.5v10.7h-0.5zM925.5 928.9h1v10.7h-1zM930.5 928.9h2v10.7h-2zM1146 928.9h0.5v10.7h-0.5zM1152.5 928.9h4v10.7h-4zM1159.5 928.9h2v10.7h-2zM1164.5 928.9h0.5v10.7h-0.5zM1165.5 928.9h1.5v10.7h-1.5zM1174 928.9h0.5v10.7h-0.5z" fill="#000" fill-opacity="0.70"/>
<path d="M758.5 928.9h1v10.7h-1zM760.5 928.9h1v10.7h-1zM762.5 928.9h0.5v10.7h-0.5zM793.5 928.9h0.5v10.7h-0.5zM797 928.9h0.5v10.7h-0.5zM803 928.9h1v10.7h-1zM809.5 928.9h2v10.7h-2zM815.5 928.9h3v10.7h-3zM822.5 928.9h1.5v10.7h-1.5zM825 928.9h6v10.7h-6zM835.5 928.9h0.5v10.7h-0.5zM836.5 928.9h1.5v10.7h-1.5zM838.5 928.9h1v10.7h-1zM842 928.9h2.5v10.7h-2.5zM850 928.9h1v10.7h-1zM903.5 928.9h2v10.7h-2zM910.5 928.9h1v10.7h-1zM912 928.9h1v10.7h-1zM917 928.9h1v10.7h-1zM918.5 928.9h0.5v10.7h-0.5zM924.5 928.9h1v10.7h-1zM926.5 928.9h1.5v10.7h-1.5zM929.5 928.9h1v10.7h-1zM932.5 928.9h1.5v10.7h-1.5zM1145.5 928.9h0.5v10.7h-0.5zM1146.5 928.9h0.5v10.7h-0.5zM1150 928.9h2.5v10.7h-2.5zM1161.5 928.9h1v10.7h-1zM1163 928.9h1.5v10.7h-1.5zM1167 928.9h0.5v10.7h-0.5zM1168 928.9h1v10.7h-1zM1173.5 928.9h0.5v10.7h-0.5z" fill="#000" fill-opacity="0.80"/>
<path d="M759.5 928.9h1v10.7h-1zM763 928.9h2v10.7h-2zM776 928.9h0.5v10.7h-0.5zM777 928.9h0.5v10.7h-0.5zM778 928.9h3.5v10.7h-3.5zM783.5 928.9h3v10.7h-3zM788 928.9h3v10.7h-3zM791.5 928.9h2v10.7h-2zM794 928.9h3v10.7h-3zM797.5 928.9h5.5v10.7h-5.5zM804 928.9h5.5v10.7h-5.5zM811.5 928.9h4v10.7h-4zM818.5 928.9h4v10.7h-4zM911.5 928.9h0.5v10.7h-0.5zM928 928.9h1.5v10.7h-1.5zM934 928.9h2v10.7h-2zM1027 928.9h1v10.7h-1zM1144.5 928.9h1v10.7h-1zM1147 928.9h3v10.7h-3zM1162.5 928.9h0.5v10.7h-0.5zM1167.5 928.9h0.5v10.7h-0.5zM1169 928.9h4.5v10.7h-4.5z" fill="#000" fill-opacity="0.90"/>
<path d="M765 928.9h11v10.7h-11zM776.5 928.9h0.5v10.7h-0.5zM777.5 928.9h0.5v10.7h-0.5zM781.5 928.9h2v10.7h-2zM786.5 928.9h1.5v10.7h-1.5zM791 928.9h0.5v10.7h-0.5zM936 928.9h91v10.7h-91zM1028 928.9h116.5v10.7h-116.5z" fill="#000" fill-opacity="1.00"/>
<rect x="716.00" y="568.14" width="462.0" height="186.05" fill="#4f8b00" fill-opacity="0.1"/>
<rect x="716.00" y="754.19" width="462.0" height="185.45" fill="#ff0000" fill-opacity="0.1"/>
</g>
<path d="M706.90 569.34h9.6M706.90 661.76h9.6M706.90 754.19h9.6M706.90 846.62h9.6M706.90 939.04h9.6M724.00 939.14v9.3M872.90 939.14v9.3M1021.80 939.14v9.3M1170.70 939.14v9.3" stroke="#222" stroke-width="1.7" fill="none"/>
<text transform="translate(661.75 576.74) scale(1.0528 1)" font-size="24">0.2</text>
<text transform="translate(666.60 669.16) scale(0.9024 1)" font-size="24">0.1</text>
<text transform="translate(682.00 761.59) scale(1.0957 1)" font-size="24">0</text>
<text transform="translate(654.18 854.01) scale(0.8978 1)" font-size="24">−0.1</text>
<text transform="translate(649.66 946.44) scale(0.9956 1)" font-size="24">−0.2</text>
<text transform="translate(716.70 977.24) scale(1.0957 1)" font-size="24">0</text>
<text transform="translate(858.51 977.24) scale(1.0735 1)" font-size="24">20</text>
<text transform="translate(1007.76 977.24) scale(1.0772 1)" font-size="24">40</text>
<text transform="translate(1155.98 977.24) scale(1.0980 1)" font-size="24">60</text>
<text transform="translate(716.38 547.90) scale(0.9862 1)" font-size="28">Punjab and Haryana</text>
<text transform="translate(816.40 1019.20) scale(1.0460 1)" font-size="28">Number of irrigations</text>
</g>
<g id="pa5">
<g clip-path="url(#ca5)">
<rect x="1294.00" y="570.17" width="460.85" height="370.90" fill="#ebebeb"/>
<path d="M1389.55 570.2v370.9M1526.05 570.2v370.9M1662.55 570.2v370.9M1294 617.38h460.85M1294 709.81h460.85M1294 802.23h460.85M1294 894.66h460.85" stroke="#ffffff" stroke-width="1.0" fill="none"/>
<path d="M1321.30 570.2v370.9M1457.80 570.2v370.9M1594.30 570.2v370.9M1730.80 570.2v370.9M1294 571.17h460.85M1294 663.59h460.85M1294 756.02h460.85M1294 848.44h460.85M1294 940.87h460.85" stroke="#ffffff" stroke-width="2.0" fill="none"/>
<path d="M1321.3 727.6h0m0 15.8h0m0 1.7h0m0 1.6h0m0 2.3h0m0 1h0m0 3.1h0m0 1.3h0m0 2.1h0m0 3.2h0m0 0.4h0m0 2.9h0m0 4.7h0m0 0.9h0m0 0.9h0m0 2.6h0m0 3.1h0m0 0.4h0m0 0.5h0m0 1.4h0m0 2.1h0m0 3h0m0 6.5h0m0 1h0m0 4.6h0m0 1h0m0 0.9h0m0 5.6h0m0 5.4h0m0 0.8h0m0 0.3h0m0 2.6h0m0 3.9h0m0 2.2h0m0 4.2h0m0 5.1h0m0 0.8h0m0 0.8h0m0 4.1h0m0 0.3h0m0 1.9h0m0 3.1h0m0 3.7h0m0 4.7h0m0 1.8h0m0 1.5h0m0 5h0m0 2.9h0m0 0.8h0m0 2.2h0m0 0.6h0m0 3.7h0m0 2.9h0m0 6.5h0m0 6.5h0m0 10.5h0M1348.6 715.8h0m0 3h0m0 1.2h0m0 0.5h0m0 1.8h0m0 2.5h0m0 1.1h0m0 0.5h0m0 2.5h0m0 4.1h0m0 2.2h0m0 3.4h0m0 3.4h0m0 0.5h0m0 0.6h0m0 1.1h0m0 4.3h0m0 3.5h0m0 3.1h0m0 5.6h0m0 1h0m0 1.9h0m0 4.6h0m0 1.3h0m0 0.8h0m0 0.3h0m0 4.2h0m0 4.5h0m0 2h0m0 2.5h0m0 3.9h0m0 4.3h0m0 0.6h0m0 1.9h0m0 5.8h0m0 0.7h0m0 4h0m0 2.6h0m0 1.2h0m0 3h0m0 0.7h0m0 1.6h0m0 1.1h0m0 5.5h0m0 1.1h0m0 5.4h0m0 3.1h0m0 0.3h0m0 1.8h0m0 1.4h0m0 2.3h0m0 1h0m0 2.3h0m0 1h0m0 4.6h0m0 1.9h0m0 11.8h0m0 12.1h0m0 5.9h0m0 14.8h0M1375.9 730.8h0m0 0.4h0m0 6.3h0m0 6.7h0m0 1.7h0m0 1.9h0m0 0.5h0m0 0.8h0m0 0.9h0m0 0.8h0m0 0.6h0m0 3.6h0m0 2.5h0m0 3.6h0m0 1.4h0m0 0.4h0m0 1.3h0m0 4.6h0m0 1h0m0 1.1h0m0 2.7h0m0 2.4h0m0 1.5h0m0 1.8h0m0 4.9h0m0 5.6h0m0 1.1h0m0 4.3h0m0 0.6h0m0 1.8h0m0 0.3h0m0 6.4h0m0 6.6h0m0 0.6h0m0 1.8h0m0 1.2h0m0 3.1h0m0 5.8h0m0 0.9h0m0 2.2h0m0 1.3h0m0 3.1h0m0 2.6h0m0 3h0m0 1.1h0m0 4.8h0m0 1.9h0m0 6.7h0m0 0.4h0m0 0.7h0m0 4.4h0m0 1.2h0m0 11.5h0M1403.2 719h0m0 5.6h0m0 6.5h0m0 0.8h0m0 2.9h0m0 2.7h0m0 1.9h0m0 4.5h0m0 1.4h0m0 0.7h0m0 0.6h0m0 3.8h0m0 1.4h0m0 4h0m0 1h0m0 1.8h0m0 4.5h0m0 0.3h0m0 6.3h0m0 6.4h0m0 1.3h0m0 0.7h0m0 4.5h0m0 6h0m0 0.4h0m0 0.4h0m0 2.3h0m0 1.1h0m0 2.6h0m0 6.5h0m0 2.3h0m0 4.1h0m0 0.3h0m0 1.4h0m0 2.7h0m0 2h0m0 3.8h0m0 2.7h0m0 4.2h0m0 2.2h0m0 6.4h0m0 1.7h0m0 0.7h0m0 1.9h0m0 2.2h0m0 2.1h0m0 0.7h0m0 0.5h0m0 3.1h0m0 8.3h0M1430.5 650.2h0m0 1.9h0m0 1.2h0m0 3.4h0m0 0.9h0m0 5h0m0 0.6h0m0 2.6h0m0 3.9h0m0 1.5h0m0 2.3h0m0 2.7h0m0 6.5h0m0 5.8h0m0 0.7h0m0 4.1h0m0 1h0m0 1.4h0m0 1.1h0m0 1.6h0m0 2.2h0m0 1.6h0m0 3.2h0m0 1.7h0m0 1.6h0m0 2.2h0m0 1.7h0m0 2.6h0m0 3h0m0 1.5h0m0 2h0m0 3.1h0m0 0.9h0m0 1.1h0m0 0.3h0m0 0.5h0m0 0.6h0m0 4.2h0m0 0.9h0m0 1.4h0m0 4.2h0m0 2.3h0m0 0.7h0m0 0.8h0m0 2.6h0m0 1.7h0m0 0.3h0m0 0.4h0m0 5.3h0m0 1.2h0m0 1.4h0m0 5.1h0m0 2.6h0m0 3.9h0m0 6.5h0m0 4.9h0m0 0.8h0m0 0.8h0m0 2h0m0 4.5h0m0 6.5h0m0 17.1h0m0 33.3h0M1457.8 627.3h0m0 0.3h0m0 1.5h0m0 2.5h0m0 1.5h0m0 0.9h0m0 0.8h0m0 6h0m0 1.5h0m0 5.2h0m0 5h0m0 1.7h0m0 4.3h0m0 2.4h0m0 4.4h0m0 0.4h0m0 1.9h0m0 4.2h0m0 2.3h0m0 0.3h0m0 6.7h0m0 6.7h0m0 5.4h0m0 0.4h0m0 0.9h0m0 3.2h0m0 2.9h0m0 0.6h0m0 6.8h0m0 3.2h0m0 1.1h0m0 1.7h0m0 0.7h0m0 0.4h0m0 1.1h0m0 1h0m0 1.5h0m0 1.4h0m0 1.3h0m0 6.5h0m0 3.2h0m0 3.2h0m0 0.5h0m0 0.9h0m0 5.9h0m0 5.6h0m0 1.1h0m0 3.2h0m0 3h0m0 0.5h0m0 3.1h0m0 0.5h0m0 0.9h0m0 1h0m0 1.2h0m0 1.6h0m0 4.4h0m0 0.7h0m0 0.6h0m0 6.1h0m0 2.8h0m0 0.9h0m0 1.1h0m0 1.4h0m0 0.5h0m0 4.4h0m0 0.3h0m0 2.1h0m0 19h0M1485.1 600.2h0m0 39.8h0m0 6.6h0m0 4.2h0m0 2.4h0m0 0.4h0m0 2.3h0m0 2.9h0m0 1.1h0m0 0.3h0m0 0.6h0m0 2.8h0m0 2.4h0m0 0.5h0m0 4.2h0m0 2.5h0m0 4h0m0 2.6h0m0 6.2h0m0 0.5h0m0 0.8h0m0 4h0m0 1.8h0m0 2.6h0m0 4.1h0m0 1.9h0m0 0.9h0m0 1.7h0m0 0.4h0m0 1.7h0m0 6.1h0m0 0.4h0m0 1.2h0m0 2.1h0m0 0.9h0m0 1.5h0m0 1.1h0m0 5.8h0m0 0.8h0m0 6.7h0m0 4h0m0 0.8h0m0 1.8h0m0 5.9h0m0 0.8h0m0 1.8h0m0 4.8h0m0 6.7h0m0 11.7h0m0 5.4h0M1512.4 635.7h0m0 14.2h0m0 0.4h0m0 2.6h0m0 2.4h0m0 1.2h0m0 3.1h0m0 3.5h0m0 1.4h0m0 1.3h0m0 4h0m0 2.9h0m0 0.8h0m0 2.9h0m0 4.3h0m0 2.3h0m0 6.6h0m0 6.6h0m0 2.1h0m0 3.2h0m0 0.3h0m0 1.1h0m0 3.6h0m0 1.2h0m0 1.8h0m0 0.7h0m0 0.7h0m0 3.7h0m0 1.5h0m0 2.3h0m0 2.7h0m0 1.6h0m0 6.6h0m0 6.7h0m0 3.2h0m0 0.3h0m0 1.2h0m0 1.9h0m0 5.2h0m0 1.4h0m0 2.2h0m0 0.3h0m0 3.2h0m0 0.9h0m0 3.3h0m0 1h0m0 2.2h0m0 0.4h0m0 2.7h0m0 0.4h0m0 3.3h0m0 4.1h0m0 2.5h0M1539.7 609.4h0m0 10.7h0m0 20.4h0m0 12.9h0m0 2.2h0m0 4.2h0m0 1.3h0m0 0.3h0m0 3.9h0m0 0.9h0m0 2.9h0m0 0.6h0m0 2.9h0m0 3.8h0m0 0.7h0m0 2h0m0 0.5h0m0 4.2h0m0 1.7h0m0 0.6h0m0 5.4h0m0 0.4h0m0 0.8h0m0 0.5h0m0 4.3h0m0 0.8h0m0 2.2h0m0 1.1h0m0 1.7h0m0 1.4h0m0 0.7h0m0 5.7h0m0 4.1h0m0 2.4h0m0 6.4h0m0 3.5h0m0 2.9h0m0 2h0m0 4.4h0m0 2.5h0m0 3.9h0m0 3.7h0m0 2.7h0m0 3.8h0m0 1.9h0m0 0.8h0m0 13.1h0m0 5.9h0M1567 607.7h0m0 65.3h0m0 6.3h0m0 5.7h0m0 0.6h0m0 0.5h0m0 4.6h0m0 1.2h0m0 25.8h0m0 5.4h0m0 42.9h0M1594.3 623.6h0m0 6.7h0m0 8.1h0m0 12.8h0m0 1.2h0m0 4.2h0m0 1.1h0m0 6.3h0m0 4.8h0m0 1.7h0m0 0.3h0m0 5.8h0m0 0.3h0m0 0.3h0m0 1.2h0m0 2.5h0m0 2.5h0m0 0.8h0m0 3.1h0m0 1.8h0m0 0.6h0m0 4.8h0m0 1.7h0m0 1.2h0m0 3h0m0 2.2h0m0 2.6h0m0 1.6h0m0 2.3h0m0 1.3h0m0 4.6h0m0 0.5h0m0 6.4h0m0 4.5h0m0 1.9h0m0 0.5h0m0 0.4h0m0 3.2h0m0 2.4h0m0 6.4h0m0 4.2h0m0 1.1h0m0 1.1h0m0 0.8h0m0 2h0m0 1.2h0m0 1.7h0m0 0.7h0m0 4.9h0m0 1.5h0m0 2h0m0 1.1h0m0 3.4h0m0 6.4h0m0 4.7h0m0 1.7h0m0 8.8h0M1621.6 680h0m0 19.4h0m0 62.3h0M1648.9 615.5h0m0 2.7h0m0 31.2h0m0 3.9h0m0 1.2h0m0 0.5h0m0 4.3h0m0 1.4h0m0 1.9h0m0 3.8h0m0 13.1h0m0 3.4h0m0 2.5h0m0 1.2h0m0 3.6h0m0 1.1h0m0 6h0m0 14.2h0m0 14.5h0m0 6.2h0m0 22.2h0m0 6.7h0m0 5.9h0m0 6.2h0M1676.2 645.1h0m0 8.1h0m0 8h0m0 112h0M1703.5 668.8h0m0 40.3h0M1730.8 610.4h0m0 0.8h0m0 5.9h0m0 4.8h0m0 1.9h0m0 6.3h0m0 0.4h0m0 2.1h0m0 2.8h0m0 1.8h0m0 4h0m0 2.7h0m0 1.5h0m0 5.1h0m0 0.3h0m0 4.9h0m0 1.5h0m0 1h0m0 5.7h0m0 2.7h0m0 3.1h0m0 0.9h0m0 2.1h0m0 4.6h0m0 1.6h0m0 0.9h0m0 4.2h0m0 1h0m0 0.5h0m0 1.8h0m0 3.4h0m0 0.4h0m0 0.9h0m0 1.5h0m0 2.5h0m0 1.4h0m0 0.7h0m0 3.5h0m0 2.5h0m0 0.9h0m0 5.3h0m0 0.5h0m0 2.9h0m0 0.6h0m0 3.2h0m0 1.3h0m0 5.4h0m0 0.3h0m0 3.6h0m0 0.6h0m0 2.2h0m0 4.6h0m0 2.1h0m0 0.7h0m0 1.6h0m0 4.4h0m0 3.8h0m0 2.9h0m0 11.5h0" fill="none" stroke="#bebebe" stroke-width="11.4" stroke-linecap="round"/>
<path d="M1321.1 794.7 1324.5 793.1 1328 791.5 1331.4 789.8 1334.9 788.1 1338.3 786.3 1341.8 784.5 1345.2 782.9 1348.7 781.5 1352.1 780.4 1355.5 779.4 1359 778.7 1362.4 778.1 1365.9 777.6 1369.3 777.3 1372.8 776.9 1376.2 776.6 1379.7 776.3 1383.1 775.9 1386.5 775.4 1390 774.9 1393.4 774.2 1396.9 773.3 1400.3 772.1 1403.8 770.7 1407.2 768.8 1410.7 766.4 1414.1 763.3 1417.5 759.6 1421 755.2 1424.4 750.2 1427.9 745.1 1431.3 740.2 1434.8 735.8 1438.2 731.7 1441.7 727.8 1445.1 724 1448.5 720.7 1452 718.1 1455.4 716.2 1458.9 714.9 1462.3 714 1465.8 713.4 1469.2 713.1 1472.7 713.1 1476.1 713.3 1479.5 713.6 1483 714.1 1486.4 714.6 1489.9 715.1 1493.3 715.5 1496.8 715.7 1500.2 715.8 1503.7 715.5 1507.1 715 1510.5 714.2 1514 713.1 1517.4 711.8 1520.9 710.4 1524.3 708.9 1527.8 707.6 1531.2 706.4 1534.7 705.4 1538.1 704.5 1541.5 703.8 1545 703.2 1548.4 702.9 1551.9 702.9 1555.3 703.3 1558.8 703.9 1562.2 704.7 1565.7 705.7 1569.1 706.8 1572.6 707.9 1576 709.1 1579.4 710.1 1582.9 711 1586.3 711.6 1589.8 712.1 1593.2 712.3 1596.7 712.2 1600.1 711.9 1603.6 711.4 1607 710.7 1610.4 709.8 1613.9 708.8 1617.3 707.7 1620.8 706.4 1624.2 704.9 1627.7 703.4 1631.1 701.7 1634.6 700.1 1638 698.4 1641.4 696.9 1644.9 695.4 1648.3 694 1651.8 692.7 1655.2 691.5 1658.7 690.3 1662.1 689.2 1665.6 688.2 1669 687.3 1672.4 686.4 1675.9 685.7 1679.3 685.1 1682.8 684.6 1686.2 684.2 1689.7 683.9 1693.1 683.7 1696.6 683.6 1700 683.5 1703.4 683.5 1706.9 683.6 1710.3 683.7 1713.8 683.9 1717.2 684.1 1720.7 684.3 1724.1 684.6 1727.6 684.9 1731 685.2" fill="none" stroke="#000" stroke-width="5.0" stroke-linejoin="round" stroke-linecap="butt"/>
<path d="M1391 930.4h0.5v10.7h-0.5zM1469.5 930.4h0.5v10.7h-0.5zM1473.5 930.4h0.5v10.7h-0.5zM1523 930.4h0.5v10.7h-0.5zM1557 930.4h1v10.7h-1zM1563 930.4h2v10.7h-2zM1573 930.4h0.5v10.7h-0.5zM1576 930.4h2.5v10.7h-2.5zM1605.5 930.4h0.5v10.7h-0.5zM1615.5 930.4h2.5v10.7h-2.5zM1620 930.4h5v10.7h-5zM1625.5 930.4h2v10.7h-2zM1628 930.4h0.5v10.7h-0.5zM1631 930.4h1v10.7h-1zM1637 930.4h0.5v10.7h-0.5zM1659 930.4h1v10.7h-1zM1668.5 930.4h1.5v10.7h-1.5zM1671 930.4h1.5v10.7h-1.5zM1675 930.4h5v10.7h-5zM1681.5 930.4h0.5v10.7h-0.5zM1684.5 930.4h0.5v10.7h-0.5zM1697 930.4h3v10.7h-3zM1711 930.4h0.5v10.7h-0.5zM1742 930.4h0.5v10.7h-0.5z" fill="#000" fill-opacity="0.10"/>
<path d="M1336.5 930.4h0.5v10.7h-0.5zM1387.5 930.4h0.5v10.7h-0.5zM1474 930.4h0.5v10.7h-0.5zM1496 930.4h0.5v10.7h-0.5zM1500.5 930.4h0.5v10.7h-0.5zM1518 930.4h0.5v10.7h-0.5zM1528 930.4h0.5v10.7h-0.5zM1551 930.4h0.5v10.7h-0.5zM1558 930.4h0.5v10.7h-0.5zM1560 930.4h3v10.7h-3zM1565 930.4h1.5v10.7h-1.5zM1567.5 930.4h0.5v10.7h-0.5zM1569 930.4h2.5v10.7h-2.5zM1572.5 930.4h0.5v10.7h-0.5zM1574 930.4h2v10.7h-2zM1582.5 930.4h0.5v10.7h-0.5zM1627.5 930.4h0.5v10.7h-0.5zM1628.5 930.4h2.5v10.7h-2.5zM1637.5 930.4h1v10.7h-1zM1670 930.4h1v10.7h-1zM1682 930.4h1v10.7h-1zM1684 930.4h0.5v10.7h-0.5zM1708.5 930.4h2.5v10.7h-2.5zM1719 930.4h0.5v10.7h-0.5z" fill="#000" fill-opacity="0.20"/>
<path d="M1418.5 930.4h0.5v10.7h-0.5zM1442 930.4h0.5v10.7h-0.5zM1501 930.4h0.5v10.7h-0.5zM1503.5 930.4h1v10.7h-1zM1517.5 930.4h0.5v10.7h-0.5zM1518.5 930.4h1v10.7h-1zM1558.5 930.4h1.5v10.7h-1.5zM1566.5 930.4h1v10.7h-1zM1568 930.4h1v10.7h-1zM1571.5 930.4h1v10.7h-1zM1573.5 930.4h0.5v10.7h-0.5zM1638.5 930.4h0.5v10.7h-0.5zM1644 930.4h2v10.7h-2zM1658.5 930.4h0.5v10.7h-0.5zM1683 930.4h1v10.7h-1zM1741.5 930.4h0.5v10.7h-0.5z" fill="#000" fill-opacity="0.30"/>
<path d="M1474.5 930.4h0.5v10.7h-0.5zM1495.5 930.4h0.5v10.7h-0.5zM1501.5 930.4h2v10.7h-2zM1504.5 930.4h1.5v10.7h-1.5zM1517 930.4h0.5v10.7h-0.5zM1519.5 930.4h0.5v10.7h-0.5zM1522.5 930.4h0.5v10.7h-0.5zM1528.5 930.4h0.5v10.7h-0.5zM1550.5 930.4h0.5v10.7h-0.5zM1583 930.4h0.5v10.7h-0.5zM1605 930.4h0.5v10.7h-0.5zM1639 930.4h1.5v10.7h-1.5zM1643.5 930.4h0.5v10.7h-0.5zM1646.5 930.4h0.5v10.7h-0.5zM1658 930.4h0.5v10.7h-0.5zM1719.5 930.4h0.5v10.7h-0.5zM1741 930.4h0.5v10.7h-0.5z" fill="#000" fill-opacity="0.40"/>
<path d="M1360 930.4h0.5v10.7h-0.5zM1475 930.4h0.5v10.7h-0.5zM1491.5 930.4h1v10.7h-1zM1495 930.4h0.5v10.7h-0.5zM1506 930.4h1v10.7h-1zM1509.5 930.4h2v10.7h-2zM1516 930.4h1v10.7h-1zM1520 930.4h0.5v10.7h-0.5zM1521.5 930.4h1v10.7h-1zM1529 930.4h0.5v10.7h-0.5zM1541.5 930.4h0.5v10.7h-0.5zM1546.5 930.4h2.5v10.7h-2.5zM1549.5 930.4h1v10.7h-1zM1640.5 930.4h1v10.7h-1zM1642 930.4h1.5v10.7h-1.5zM1646 930.4h0.5v10.7h-0.5zM1647 930.4h0.5v10.7h-0.5zM1648 930.4h2.5v10.7h-2.5zM1651 930.4h0.5v10.7h-0.5zM1656 930.4h0.5v10.7h-0.5zM1657 930.4h1v10.7h-1zM1725.5 930.4h0.5v10.7h-0.5zM1740.5 930.4h0.5v10.7h-0.5z" fill="#000" fill-opacity="0.50"/>
<path d="M1309.5 930.4h0.5v10.7h-0.5zM1414.5 930.4h0.5v10.7h-0.5zM1475.5 930.4h0.5v10.7h-0.5zM1483 930.4h1v10.7h-1zM1485 930.4h0.5v10.7h-0.5zM1486 930.4h0.5v10.7h-0.5zM1492.5 930.4h1v10.7h-1zM1494.5 930.4h0.5v10.7h-0.5zM1507 930.4h2.5v10.7h-2.5zM1511.5 930.4h1v10.7h-1zM1514 930.4h2v10.7h-2zM1520.5 930.4h1v10.7h-1zM1532 930.4h1v10.7h-1zM1541 930.4h0.5v10.7h-0.5zM1542 930.4h0.5v10.7h-0.5zM1543 930.4h0.5v10.7h-0.5zM1546 930.4h0.5v10.7h-0.5zM1549 930.4h0.5v10.7h-0.5zM1583.5 930.4h0.5v10.7h-0.5zM1604.5 930.4h0.5v10.7h-0.5zM1641.5 930.4h0.5v10.7h-0.5zM1647.5 930.4h0.5v10.7h-0.5zM1650.5 930.4h0.5v10.7h-0.5zM1651.5 930.4h0.5v10.7h-0.5zM1654.5 930.4h1.5v10.7h-1.5zM1656.5 930.4h0.5v10.7h-0.5zM1720 930.4h0.5v10.7h-0.5zM1722.5 930.4h1v10.7h-1zM1724.5 930.4h1v10.7h-1zM1726 930.4h0.5v10.7h-0.5zM1729 930.4h1v10.7h-1zM1739 930.4h1.5v10.7h-1.5z" fill="#000" fill-opacity="0.60"/>
<path d="M1332.5 930.4h0.5v10.7h-0.5zM1364 930.4h0.5v10.7h-0.5zM1391.5 930.4h0.5v10.7h-0.5zM1446 930.4h0.5v10.7h-0.5zM1476 930.4h4.5v10.7h-4.5zM1482.5 930.4h0.5v10.7h-0.5zM1484 930.4h1v10.7h-1zM1485.5 930.4h0.5v10.7h-0.5zM1486.5 930.4h1v10.7h-1zM1490.5 930.4h1v10.7h-1zM1493.5 930.4h1v10.7h-1zM1512.5 930.4h1.5v10.7h-1.5zM1529.5 930.4h2.5v10.7h-2.5zM1533.5 930.4h0.5v10.7h-0.5zM1539.5 930.4h1.5v10.7h-1.5zM1542.5 930.4h0.5v10.7h-0.5zM1543.5 930.4h2.5v10.7h-2.5zM1584 930.4h0.5v10.7h-0.5zM1604 930.4h0.5v10.7h-0.5zM1652 930.4h2.5v10.7h-2.5zM1720.5 930.4h2v10.7h-2zM1723.5 930.4h1v10.7h-1zM1726.5 930.4h1v10.7h-1zM1728.5 930.4h0.5v10.7h-0.5zM1730 930.4h1.5v10.7h-1.5zM1735 930.4h4v10.7h-4z" fill="#000" fill-opacity="0.70"/>
<path d="M1387 930.4h0.5v10.7h-0.5zM1469 930.4h0.5v10.7h-0.5zM1480.5 930.4h2v10.7h-2zM1487.5 930.4h1.5v10.7h-1.5zM1489.5 930.4h1v10.7h-1zM1533 930.4h0.5v10.7h-0.5zM1534 930.4h5.5v10.7h-5.5zM1584.5 930.4h2.5v10.7h-2.5zM1590 930.4h0.5v10.7h-0.5zM1591 930.4h0.5v10.7h-0.5zM1594.5 930.4h0.5v10.7h-0.5zM1598 930.4h0.5v10.7h-0.5zM1603 930.4h1v10.7h-1zM1727.5 930.4h1v10.7h-1zM1731.5 930.4h3.5v10.7h-3.5z" fill="#000" fill-opacity="0.80"/>
<path d="M1337 930.4h0.5v10.7h-0.5zM1359.5 930.4h0.5v10.7h-0.5zM1392 930.4h0.5v10.7h-0.5zM1414 930.4h0.5v10.7h-0.5zM1419 930.4h0.5v10.7h-0.5zM1441.5 930.4h0.5v10.7h-0.5zM1489 930.4h0.5v10.7h-0.5zM1587 930.4h3v10.7h-3zM1590.5 930.4h0.5v10.7h-0.5zM1591.5 930.4h3v10.7h-3zM1595 930.4h3v10.7h-3zM1598.5 930.4h4.5v10.7h-4.5z" fill="#000" fill-opacity="0.90"/>
<path d="M1310 930.4h22.5v10.7h-22.5zM1337.5 930.4h22v10.7h-22zM1364.5 930.4h22.5v10.7h-22.5zM1392.5 930.4h21.5v10.7h-21.5zM1419.5 930.4h22v10.7h-22zM1446.5 930.4h22.5v10.7h-22.5z" fill="#000" fill-opacity="1.00"/>
<rect x="1294.00" y="570.17" width="460.85" height="185.85" fill="#4f8b00" fill-opacity="0.1"/>
<rect x="1294.00" y="756.02" width="460.85" height="185.05" fill="#ff0000" fill-opacity="0.1"/>
</g>
<path d="M1284.90 571.17h9.6M1284.90 663.59h9.6M1284.90 756.02h9.6M1284.90 848.44h9.6M1284.90 940.87h9.6M1321.30 940.57v9.3M1457.80 940.57v9.3M1594.30 940.57v9.3M1730.80 940.57v9.3" stroke="#222" stroke-width="1.7" fill="none"/>
<text transform="translate(1239.75 578.57) scale(1.0528 1)" font-size="24">0.2</text>
<text transform="translate(1244.60 670.99) scale(0.9024 1)" font-size="24">0.1</text>
<text transform="translate(1260.00 763.42) scale(1.0957 1)" font-size="24">0</text>
<text transform="translate(1232.18 855.84) scale(0.8978 1)" font-size="24">−0.1</text>
<text transform="translate(1227.66 948.27) scale(0.9956 1)" font-size="24">−0.2</text>
<text transform="translate(1314.00 979.07) scale(1.0957 1)" font-size="24">0</text>
<text transform="translate(1450.95 979.07) scale(1.0489 1)" font-size="24">5</text>
<text transform="translate(1581.05 979.07) scale(0.9708 1)" font-size="24">10</text>
<text transform="translate(1718.75 979.07) scale(0.8833 1)" font-size="24">15</text>
<text transform="translate(1294.98 547.80) scale(1.0297 1)" font-size="28">Terai of Nepal</text>
<text transform="translate(1389.00 1019.20) scale(1.0460 1)" font-size="28">Number of irrigations</text>
</g>
<g id="pb1">
<g clip-path="url(#cb1)">
<rect x="138.00" y="1103.26" width="463.0" height="371.40" fill="#ebebeb"/>
<path d="M147.18 1103.3v371.4M236.25 1103.3v371.4M324.88 1103.3v371.4M413.51 1103.3v371.4M502.14 1103.3v371.4M591.22 1103.3v371.4M138 1150.47h463.0M138 1242.90h463.0M138 1335.32h463.0M138 1427.75h463.0" stroke="#ffffff" stroke-width="1.45" fill="none"/>
<path d="M191.94 1103.3v371.4M280.57 1103.3v371.4M369.20 1103.3v371.4M457.83 1103.3v371.4M546.46 1103.3v371.4M138 1104.26h463.0M138 1196.68h463.0M138 1289.11h463.0M138 1381.54h463.0M138 1473.96h463.0" stroke="#ffffff" stroke-width="2.9" fill="none"/>
<path d="M138.8 1203.6h0m0 11h0m0 69.6h0M156.5 1251.8h0m0 5.5h0M174.2 1203.1h0m0 66h0M183.1 1207.8h0m0 28h0m0 9.1h0m0 8.2h0m0 6.9h0M191.9 1220.1h0m0 49.5h0m0 31.7h0M200.8 1191.8h0m0 47.6h0m0 12.4h0m0 12.3h0m0 4.2h0m0 16.5h0m0 15.9h0M209.7 1238h0m0 22h0m0 9.6h0m0 20.7h0m0 16.5h0M218.5 1254.5h0m0 15.1h0M227.4 1200.9h0m0 28.9h0m0 8.2h0m0 8.3h0m0 13.7h0m0 17.9h0M236.3 1167.1h0m0 31.9h0m0 12.9h0m0 24.7h0m0 6.9h0m0 8.3h0m0 16.5h0m0 9.6h0m0 17.1h0M245.1 1268.3h0M254 1227h0m0 4.1h0m0 15.2h0m0 6.8h0m0 6.9h0m0 24.8h0m0 15.1h0m0 7.7h0M262.8 1240.8h0m0 11h0m0 8.2h0m0 8.3h0m0 8.2h0m0 8.3h0M271.7 1211.1h0m0 11.8h0m0 13.7h0m0 11h0m0 8.3h0m0 9.6h0m0 9.7h0m0 17.8h0M280.6 1222.9h0m0 8.2h0m0 24.8h0m0 6.9h0m0 8.2h0M289.4 1229.8h0m0 13.2h0m0 12.9h0m0 11h0m0 16.5h0m0 10.2h0M298.3 1268.3h0m0 8.2h0m0 8.3h0M307.2 1245.7h0m0 12.9h0m0 34.4h0M316 1255.1h0m0 7.7h0m0 6h0m0 5.5h0m0 7.5h0m0 8.2h0m0 5.8h0M324.9 1262.8h0m0 7h0m0 5.2h0m0 7.6h0m0 4.9h0m0 11h0m0 10.5h0M333.7 1244.9h0m0 10.2h0m0 7.7h0m0 7.1h0m0 6.5h0m0 7.1h0m0 5.8h0m0 8.5h0m0 6.2h0M342.6 1260h0m0 6h0m0 7h0m0 6.6h0m0 8.8h0m0 6.6h0m0 4.7h0m0 8.7h0m0 6.6h0m0 3.3h0M351.5 1246.3h0m0 13.7h0m0 6.1h0m0 6.9h0m0 7.2h0m0 6.4h0m0 6.1h0m0 5.1h0m0 5.8h0m0 8h0m0 6.2h0m0 6.9h0M360.3 1262.8h0m0 7.7h0m0 4.1h0m0 7.1h0m0 7.5h0m0 5.4h0m0 8.2h0m0 3.3h0m0 7.7h0m0 6.7h0M369.2 1244.1h0m0 24.2h0m0 6.5h0m0 5.7h0m0 7.7h0m0 5.6h0m0 7.8h0m0 5.3h0m0 6.1h0m0 7.5h0M378.1 1282h0m0 6.9h0m0 7.2h0m0 6.8h0m0 6.6h0M386.9 1276.5h0m0 8.3h0m0 5.6h0m0 7.7h0m0 4.9h0m0 6.9h0m0 5.1h0M395.8 1276.5h0m0 11h0m0 8.1h0m0 6.6h0m0 7.3h0m0 5.5h0m0 9.7h0M404.7 1275.2h0m0 12.3h0m0 6.9h0m0 6.8h0m0 8.2h0m0 5.6h0m0 19.8h0M413.5 1275.2h0m0 31.6h0M422.4 1285.3h0m0 7.7h0m0 5.8h0m0 7.8h0m0 6.2h0m0 3.3h0m0 7.2h0M431.2 1298.5h0m0 5.9h0m0 8.3h0m0 5.1h0m0 11h0M440.1 1284.8h0m0 8.2h0m0 4.8h0m0 9.7h0m0 6h0m0 6.8h0m0 4.3h0m0 6.9h0M449 1276.5h0m0 11h0m0 4.9h0m0 8.3h0m0 4.9h0m0 6.5h0m0 8.4h0m0 5.5h0m0 13.8h0M457.8 1277.1h0m0 10.4h0m0 6.9h0m0 6h0m0 6.5h0m0 4.9h0m0 8.7h0m0 3.2h0m0 7.8h0M466.7 1284.2h0m0 47.3h0m0 8.3h0M475.6 1282.6h0m0 10.4h0m0 7h0m0 6.4h0m0 6.1h0m0 5.8h0m0 7.7h0m0 12.4h0M484.4 1287.5h0m0 5.7h0m0 7.9h0m0 5.9h0m0 4.1h0m0 6.5h0m0 8.8h0m0 5.1h0M493.3 1287.5h0m0 7h0m0 6.9h0m0 7.5h0m0 6.1h0m0 8.4h0m0 5.4h0m0 13.7h0M502.1 1287.5h0m0 7.1h0m0 5.3h0m0 5.5h0m0 6.6h0m0 8.3h0m0 5.7h0M511 1275.2h0m0 9.6h0m0 5.5h0m0 6.9h0m0 8.2h0m0 5.6h0m0 7.5h0m0 7.5h0m0 20.7h0m0 8.2h0M519.9 1284.8h0m0 5.5h0m0 7.3h0m0 8h0m0 4.5h0m0 8.1h0m0 7.8h0m0 13.8h0M528.7 1293h0m0 6.3h0m0 5.3h0m0 7.2h0m0 6.8h0m0 7.4h0m0 19.3h0M537.6 1293h0M546.5 1282.6h0m0 7.7h0m0 7.3h0m0 6.9h0m0 6.5h0m0 5.8h0m0 6.3h0m0 7.3h0m0 6.6h0m0 19.3h0M555.3 1293h0m0 6.8h0m0 6h0m0 9h0m0 6.5h0m0 7.5h0M564.2 1284.8h0m0 5.5h0m0 5.4h0m0 8.3h0m0 7.1h0m0 8.3h0m0 4.1h0m0 8h0M573 1282.6h0m0 4.9h0m0 5.7h0m0 7.2h0m0 7h0m0 5h0m0 7.6h0m0 8.1h0m0 6.5h0m0 5.2h0m0 17.9h0M581.9 1283.4h0m0 6.9h0m0 7.2h0m0 6.9h0m0 5.3h0m0 6.4h0m0 8.2h0m0 5.5h0m0 7.2h0M590.8 1293h0m0 7.9h0m0 6.2h0m0 5.6h0m0 7.8h0m0 7.3h0m0 6.1h0m0 5.9h0m0 9.6h0M599.6 1287.5h0m0 11h0m0 7.2h0m0 7.5h0m0 6.3h0m0 6.5h0" fill="none" stroke="#bebebe" stroke-width="11.4" stroke-linecap="round"/>
<path d="M136.3 1238.8 140.2 1239.7 144.1 1240.6 148 1241.4 151.9 1242.3 155.8 1243.2 159.8 1244 163.7 1244.9 167.6 1245.7 171.5 1246.6 175.4 1247.4 179.3 1248.3 183.3 1249.2 187.2 1250 191.1 1250.9 195 1251.8 198.9 1252.7 202.9 1253.6 206.8 1254.5 210.7 1255.4 214.6 1256.3 218.5 1257.2 222.4 1258.1 226.4 1259 230.3 1259.9 234.2 1260.8 238.1 1261.7 242 1262.6 246 1263.5 249.9 1264.4 253.8 1265.4 257.7 1266.3 261.6 1267.2 265.5 1268.2 269.5 1269.1 273.4 1270.1 277.3 1271.1 281.2 1272.1 285.1 1273.1 289 1274.1 293 1275.1 296.9 1276.1 300.8 1277.2 304.7 1278.3 308.6 1279.4 312.6 1280.5 316.5 1281.7 320.4 1282.8 324.3 1284 328.2 1285.2 332.1 1286.3 336.1 1287.5 340 1288.6 343.9 1289.7 347.8 1290.8 351.7 1291.9 355.7 1292.9 359.6 1293.8 363.5 1294.7 367.4 1295.5 371.3 1296.3 375.2 1297.1 379.2 1297.8 383.1 1298.5 387 1299.1 390.9 1299.8 394.8 1300.3 398.7 1300.9 402.7 1301.4 406.6 1301.9 410.5 1302.4 414.4 1302.9 418.3 1303.3 422.3 1303.7 426.2 1304.1 430.1 1304.5 434 1304.9 437.9 1305.2 441.8 1305.6 445.8 1305.9 449.7 1306.2 453.6 1306.5 457.5 1306.7 461.4 1307 465.3 1307.3 469.3 1307.5 473.2 1307.7 477.1 1307.9 481 1308.1 484.9 1308.3 488.9 1308.5 492.8 1308.7 496.7 1308.8 500.6 1309 504.5 1309.1 508.4 1309.3 512.4 1309.4 516.3 1309.5 520.2 1309.6 524.1 1309.7 528 1309.8 532 1309.9 535.9 1310 539.8 1310.1 543.7 1310.1 547.6 1310.2 551.5 1310.3 555.5 1310.3 559.4 1310.3 563.3 1310.4 567.2 1310.4 571.1 1310.4 575 1310.4 579 1310.4 582.9 1310.4 586.8 1310.4 590.7 1310.4 594.6 1310.4 598.6 1310.4 602.5 1310.4" fill="none" stroke="#000" stroke-width="5.0" stroke-linejoin="round" stroke-linecap="butt"/>
<path d="M138 1464h1v10.7h-1zM152.5 1464h1.5v10.7h-1.5zM158.5 1464h2.5v10.7h-2.5zM169 1464h1v10.7h-1zM171.5 1464h2.5v10.7h-2.5zM188 1464h0.5v10.7h-0.5zM192 1464h0.5v10.7h-0.5zM194 1464h1v10.7h-1zM213 1464h0.5v10.7h-0.5zM219.5 1464h3.5v10.7h-3.5zM241.5 1464h0.5v10.7h-0.5zM244 1464h2v10.7h-2zM297 1464h0.5v10.7h-0.5zM307 1464h0.5v10.7h-0.5zM374 1464h1v10.7h-1zM414 1464h1v10.7h-1zM429 1464h1v10.7h-1zM466 1464h0.5v10.7h-0.5zM469 1464h1v10.7h-1zM533.5 1464h1.5v10.7h-1.5zM537.5 1464h1.5v10.7h-1.5zM540.5 1464h0.5v10.7h-0.5z" fill="#000" fill-opacity="0.10"/>
<path d="M142 1464h2v10.7h-2zM154 1464h2v10.7h-2zM157 1464h1.5v10.7h-1.5zM170 1464h1.5v10.7h-1.5zM174 1464h2v10.7h-2zM176.5 1464h2.5v10.7h-2.5zM187.5 1464h0.5v10.7h-0.5zM188.5 1464h0.5v10.7h-0.5zM191.5 1464h0.5v10.7h-0.5zM213.5 1464h3.5v10.7h-3.5zM217.5 1464h2v10.7h-2zM223 1464h0.5v10.7h-0.5zM226.5 1464h0.5v10.7h-0.5zM241 1464h0.5v10.7h-0.5zM246 1464h3v10.7h-3zM295 1464h2v10.7h-2zM297.5 1464h0.5v10.7h-0.5zM298.5 1464h1v10.7h-1zM300.5 1464h0.5v10.7h-0.5zM302.5 1464h0.5v10.7h-0.5zM306 1464h1v10.7h-1zM307.5 1464h1.5v10.7h-1.5zM310 1464h0.5v10.7h-0.5zM319 1464h1.5v10.7h-1.5zM375 1464h0.5v10.7h-0.5zM408.5 1464h3.5v10.7h-3.5zM413 1464h1v10.7h-1zM415 1464h2.5v10.7h-2.5zM430 1464h1.5v10.7h-1.5zM465.5 1464h0.5v10.7h-0.5zM466.5 1464h2.5v10.7h-2.5zM470 1464h1.5v10.7h-1.5zM478 1464h0.5v10.7h-0.5zM523 1464h1v10.7h-1zM533 1464h0.5v10.7h-0.5zM535 1464h2.5v10.7h-2.5zM541 1464h0.5v10.7h-0.5zM599 1464h1v10.7h-1z" fill="#000" fill-opacity="0.20"/>
<path d="M139 1464h0.5v10.7h-0.5zM141.5 1464h0.5v10.7h-0.5zM156 1464h1v10.7h-1zM176 1464h0.5v10.7h-0.5zM179 1464h0.5v10.7h-0.5zM181.5 1464h1.5v10.7h-1.5zM183.5 1464h0.5v10.7h-0.5zM186.5 1464h1v10.7h-1zM189 1464h0.5v10.7h-0.5zM195 1464h0.5v10.7h-0.5zM202 1464h0.5v10.7h-0.5zM203.5 1464h0.5v10.7h-0.5zM207 1464h0.5v10.7h-0.5zM211.5 1464h1.5v10.7h-1.5zM217 1464h0.5v10.7h-0.5zM223.5 1464h0.5v10.7h-0.5zM226 1464h0.5v10.7h-0.5zM227 1464h0.5v10.7h-0.5zM249 1464h0.5v10.7h-0.5zM256 1464h0.5v10.7h-0.5zM273 1464h3.5v10.7h-3.5zM277.5 1464h2v10.7h-2zM282 1464h0.5v10.7h-0.5zM285.5 1464h0.5v10.7h-0.5zM293.5 1464h1.5v10.7h-1.5zM298 1464h0.5v10.7h-0.5zM299.5 1464h1v10.7h-1zM301 1464h1.5v10.7h-1.5zM303 1464h3v10.7h-3zM309 1464h1v10.7h-1zM310.5 1464h1v10.7h-1zM318 1464h1v10.7h-1zM320.5 1464h1.5v10.7h-1.5zM333.5 1464h1.5v10.7h-1.5zM351 1464h0.5v10.7h-0.5zM373.5 1464h0.5v10.7h-0.5zM375.5 1464h0.5v10.7h-0.5zM380.5 1464h0.5v10.7h-0.5zM387.5 1464h2v10.7h-2zM401.5 1464h1v10.7h-1zM407.5 1464h1v10.7h-1zM412 1464h1v10.7h-1zM417.5 1464h0.5v10.7h-0.5zM423.5 1464h1.5v10.7h-1.5zM428.5 1464h0.5v10.7h-0.5zM431.5 1464h1.5v10.7h-1.5zM453.5 1464h1v10.7h-1zM464.5 1464h1v10.7h-1zM477 1464h1v10.7h-1zM478.5 1464h0.5v10.7h-0.5zM505.5 1464h0.5v10.7h-0.5zM522.5 1464h0.5v10.7h-0.5zM524 1464h1.5v10.7h-1.5zM532.5 1464h0.5v10.7h-0.5zM541.5 1464h0.5v10.7h-0.5zM556.5 1464h0.5v10.7h-0.5zM565.5 1464h0.5v10.7h-0.5zM597.5 1464h0.5v10.7h-0.5zM598.5 1464h0.5v10.7h-0.5zM600.5 1464h0.5v10.7h-0.5z" fill="#000" fill-opacity="0.30"/>
<path d="M139.5 1464h2v10.7h-2zM179.5 1464h2v10.7h-2zM183 1464h0.5v10.7h-0.5zM184.5 1464h1v10.7h-1zM186 1464h0.5v10.7h-0.5zM189.5 1464h2v10.7h-2zM195.5 1464h0.5v10.7h-0.5zM200 1464h2v10.7h-2zM202.5 1464h1v10.7h-1zM206.5 1464h0.5v10.7h-0.5zM207.5 1464h4v10.7h-4zM224.5 1464h1.5v10.7h-1.5zM230 1464h0.5v10.7h-0.5zM233.5 1464h0.5v10.7h-0.5zM236.5 1464h0.5v10.7h-0.5zM251.5 1464h1.5v10.7h-1.5zM255.5 1464h0.5v10.7h-0.5zM256.5 1464h0.5v10.7h-0.5zM259.5 1464h1.5v10.7h-1.5zM261.5 1464h2.5v10.7h-2.5zM272.5 1464h0.5v10.7h-0.5zM276.5 1464h1v10.7h-1zM279.5 1464h1.5v10.7h-1.5zM281.5 1464h0.5v10.7h-0.5zM282.5 1464h1.5v10.7h-1.5zM285 1464h0.5v10.7h-0.5zM286 1464h1v10.7h-1zM287.5 1464h0.5v10.7h-0.5zM289 1464h1v10.7h-1zM290.5 1464h3v10.7h-3zM311.5 1464h1v10.7h-1zM317.5 1464h0.5v10.7h-0.5zM322 1464h0.5v10.7h-0.5zM327.5 1464h0.5v10.7h-0.5zM335 1464h1.5v10.7h-1.5zM337 1464h2v10.7h-2zM350.5 1464h0.5v10.7h-0.5zM373 1464h0.5v10.7h-0.5zM376 1464h0.5v10.7h-0.5zM378.5 1464h2v10.7h-2zM381 1464h2v10.7h-2zM386 1464h1.5v10.7h-1.5zM393 1464h1v10.7h-1zM396.5 1464h5v10.7h-5zM402.5 1464h0.5v10.7h-0.5zM407 1464h0.5v10.7h-0.5zM418 1464h0.5v10.7h-0.5zM421.5 1464h2v10.7h-2zM425 1464h1.5v10.7h-1.5zM427 1464h1.5v10.7h-1.5zM433 1464h1v10.7h-1zM441.5 1464h0.5v10.7h-0.5zM442.5 1464h1.5v10.7h-1.5zM453 1464h0.5v10.7h-0.5zM454.5 1464h0.5v10.7h-0.5zM461 1464h3.5v10.7h-3.5zM471.5 1464h1.5v10.7h-1.5zM479 1464h0.5v10.7h-0.5zM485.5 1464h1.5v10.7h-1.5zM494 1464h3v10.7h-3zM501 1464h4.5v10.7h-4.5zM506 1464h0.5v10.7h-0.5zM510.5 1464h1v10.7h-1zM514.5 1464h0.5v10.7h-0.5zM522 1464h0.5v10.7h-0.5zM525.5 1464h3.5v10.7h-3.5zM542 1464h0.5v10.7h-0.5zM553 1464h1v10.7h-1zM556 1464h0.5v10.7h-0.5zM557 1464h2v10.7h-2zM559.5 1464h0.5v10.7h-0.5zM563.5 1464h2v10.7h-2zM566 1464h0.5v10.7h-0.5zM567 1464h1v10.7h-1zM589 1464h0.5v10.7h-0.5zM596 1464h0.5v10.7h-0.5zM597 1464h0.5v10.7h-0.5zM598 1464h0.5v10.7h-0.5zM600 1464h0.5v10.7h-0.5zM601 1464h0.5v10.7h-0.5z" fill="#000" fill-opacity="0.40"/>
<path d="M184 1464h0.5v10.7h-0.5zM185.5 1464h0.5v10.7h-0.5zM196 1464h1v10.7h-1zM197.5 1464h2.5v10.7h-2.5zM204 1464h0.5v10.7h-0.5zM205 1464h1.5v10.7h-1.5zM224 1464h0.5v10.7h-0.5zM227.5 1464h2.5v10.7h-2.5zM230.5 1464h1v10.7h-1zM232.5 1464h1v10.7h-1zM234 1464h2.5v10.7h-2.5zM237 1464h0.5v10.7h-0.5zM240.5 1464h0.5v10.7h-0.5zM249.5 1464h2v10.7h-2zM253 1464h0.5v10.7h-0.5zM255 1464h0.5v10.7h-0.5zM257 1464h2.5v10.7h-2.5zM261 1464h0.5v10.7h-0.5zM265 1464h1v10.7h-1zM266.5 1464h1v10.7h-1zM269 1464h0.5v10.7h-0.5zM272 1464h0.5v10.7h-0.5zM281 1464h0.5v10.7h-0.5zM284 1464h1v10.7h-1zM287 1464h0.5v10.7h-0.5zM288 1464h1v10.7h-1zM290 1464h0.5v10.7h-0.5zM312.5 1464h1.5v10.7h-1.5zM317 1464h0.5v10.7h-0.5zM322.5 1464h1.5v10.7h-1.5zM325 1464h1v10.7h-1zM326.5 1464h1v10.7h-1zM332 1464h1.5v10.7h-1.5zM336.5 1464h0.5v10.7h-0.5zM339 1464h0.5v10.7h-0.5zM346 1464h0.5v10.7h-0.5zM349 1464h1.5v10.7h-1.5zM351.5 1464h0.5v10.7h-0.5zM358 1464h1v10.7h-1zM361.5 1464h2.5v10.7h-2.5zM364.5 1464h0.5v10.7h-0.5zM366 1464h2.5v10.7h-2.5zM372.5 1464h0.5v10.7h-0.5zM377.5 1464h1v10.7h-1zM383 1464h0.5v10.7h-0.5zM384 1464h1v10.7h-1zM385.5 1464h0.5v10.7h-0.5zM389.5 1464h1.5v10.7h-1.5zM392 1464h1v10.7h-1zM394 1464h2.5v10.7h-2.5zM403 1464h1v10.7h-1zM406.5 1464h0.5v10.7h-0.5zM420.5 1464h1v10.7h-1zM426.5 1464h0.5v10.7h-0.5zM434 1464h1v10.7h-1zM439 1464h2.5v10.7h-2.5zM442 1464h0.5v10.7h-0.5zM444 1464h1v10.7h-1zM446 1464h2.5v10.7h-2.5zM452.5 1464h0.5v10.7h-0.5zM455 1464h1.5v10.7h-1.5zM460.5 1464h0.5v10.7h-0.5zM476.5 1464h0.5v10.7h-0.5zM479.5 1464h1v10.7h-1zM483.5 1464h0.5v10.7h-0.5zM485 1464h0.5v10.7h-0.5zM487 1464h1.5v10.7h-1.5zM489.5 1464h1v10.7h-1zM493.5 1464h0.5v10.7h-0.5zM497 1464h1v10.7h-1zM500 1464h1v10.7h-1zM510 1464h0.5v10.7h-0.5zM514 1464h0.5v10.7h-0.5zM515 1464h0.5v10.7h-0.5zM517 1464h2.5v10.7h-2.5zM521.5 1464h0.5v10.7h-0.5zM529 1464h1v10.7h-1zM532 1464h0.5v10.7h-0.5zM542.5 1464h1v10.7h-1zM546 1464h2v10.7h-2zM552 1464h1v10.7h-1zM554 1464h2v10.7h-2zM559 1464h0.5v10.7h-0.5zM560 1464h0.5v10.7h-0.5zM563 1464h0.5v10.7h-0.5zM566.5 1464h0.5v10.7h-0.5zM568 1464h1v10.7h-1zM575 1464h1v10.7h-1zM579 1464h1v10.7h-1zM582 1464h1v10.7h-1zM585 1464h4v10.7h-4zM589.5 1464h3v10.7h-3zM595.5 1464h0.5v10.7h-0.5zM596.5 1464h0.5v10.7h-0.5zM601.5 1464h0.5v10.7h-0.5z" fill="#000" fill-opacity="0.50"/>
<path d="M197 1464h0.5v10.7h-0.5zM204.5 1464h0.5v10.7h-0.5zM231.5 1464h1v10.7h-1zM237.5 1464h1v10.7h-1zM240 1464h0.5v10.7h-0.5zM253.5 1464h0.5v10.7h-0.5zM254.5 1464h0.5v10.7h-0.5zM264 1464h1v10.7h-1zM266 1464h0.5v10.7h-0.5zM267.5 1464h0.5v10.7h-0.5zM268.5 1464h0.5v10.7h-0.5zM269.5 1464h2.5v10.7h-2.5zM314 1464h3v10.7h-3zM324 1464h1v10.7h-1zM326 1464h0.5v10.7h-0.5zM328 1464h0.5v10.7h-0.5zM331.5 1464h0.5v10.7h-0.5zM339.5 1464h1v10.7h-1zM344.5 1464h1.5v10.7h-1.5zM346.5 1464h1.5v10.7h-1.5zM348.5 1464h0.5v10.7h-0.5zM352 1464h0.5v10.7h-0.5zM359 1464h0.5v10.7h-0.5zM360 1464h1.5v10.7h-1.5zM364 1464h0.5v10.7h-0.5zM365 1464h1v10.7h-1zM368.5 1464h0.5v10.7h-0.5zM372 1464h0.5v10.7h-0.5zM376.5 1464h1v10.7h-1zM383.5 1464h0.5v10.7h-0.5zM385 1464h0.5v10.7h-0.5zM391 1464h1v10.7h-1zM404 1464h1v10.7h-1zM405.5 1464h1v10.7h-1zM418.5 1464h1v10.7h-1zM420 1464h0.5v10.7h-0.5zM435 1464h2v10.7h-2zM437.5 1464h1.5v10.7h-1.5zM445 1464h1v10.7h-1zM448.5 1464h2v10.7h-2zM451.5 1464h1v10.7h-1zM456.5 1464h0.5v10.7h-0.5zM460 1464h0.5v10.7h-0.5zM473 1464h0.5v10.7h-0.5zM476 1464h0.5v10.7h-0.5zM480.5 1464h3v10.7h-3zM484 1464h1v10.7h-1zM488.5 1464h1v10.7h-1zM490.5 1464h3v10.7h-3zM498 1464h2v10.7h-2zM506.5 1464h1v10.7h-1zM509.5 1464h0.5v10.7h-0.5zM511.5 1464h0.5v10.7h-0.5zM515.5 1464h1.5v10.7h-1.5zM519.5 1464h2v10.7h-2zM530 1464h2v10.7h-2zM543.5 1464h1v10.7h-1zM545 1464h1v10.7h-1zM548 1464h2.5v10.7h-2.5zM551 1464h1v10.7h-1zM562.5 1464h0.5v10.7h-0.5zM569 1464h3v10.7h-3zM574.5 1464h0.5v10.7h-0.5zM576 1464h0.5v10.7h-0.5zM577.5 1464h1.5v10.7h-1.5zM580 1464h2v10.7h-2zM583 1464h2v10.7h-2zM592.5 1464h0.5v10.7h-0.5zM594.5 1464h1v10.7h-1z" fill="#000" fill-opacity="0.60"/>
<path d="M238.5 1464h1.5v10.7h-1.5zM254 1464h0.5v10.7h-0.5zM268 1464h0.5v10.7h-0.5zM328.5 1464h1v10.7h-1zM330.5 1464h1v10.7h-1zM340.5 1464h4v10.7h-4zM348 1464h0.5v10.7h-0.5zM352.5 1464h1v10.7h-1zM356.5 1464h1.5v10.7h-1.5zM359.5 1464h0.5v10.7h-0.5zM369 1464h3v10.7h-3zM405 1464h0.5v10.7h-0.5zM419.5 1464h0.5v10.7h-0.5zM437 1464h0.5v10.7h-0.5zM450.5 1464h1v10.7h-1zM457 1464h1.5v10.7h-1.5zM459 1464h1v10.7h-1zM473.5 1464h2.5v10.7h-2.5zM507.5 1464h2v10.7h-2zM512 1464h2v10.7h-2zM544.5 1464h0.5v10.7h-0.5zM550.5 1464h0.5v10.7h-0.5zM560.5 1464h2v10.7h-2zM572 1464h1v10.7h-1zM573.5 1464h1v10.7h-1zM576.5 1464h1v10.7h-1zM593 1464h1.5v10.7h-1.5z" fill="#000" fill-opacity="0.70"/>
<path d="M329.5 1464h1v10.7h-1zM353.5 1464h3v10.7h-3zM458.5 1464h0.5v10.7h-0.5zM573 1464h0.5v10.7h-0.5z" fill="#000" fill-opacity="0.80"/>
<rect x="138.00" y="1103.26" width="463.0" height="185.85" fill="#4f8b00" fill-opacity="0.1"/>
<rect x="138.00" y="1289.11" width="463.0" height="185.55" fill="#ff0000" fill-opacity="0.1"/>
</g>
<path d="M128.90 1104.26h9.6M128.90 1196.68h9.6M128.90 1289.11h9.6M128.90 1381.54h9.6M128.90 1473.96h9.6M191.94 1474.16v9.3M280.57 1474.16v9.3M369.20 1474.16v9.3M457.83 1474.16v9.3M546.46 1474.16v9.3" stroke="#222" stroke-width="1.7" fill="none"/>
<text transform="translate(83.75 1111.66) scale(1.0528 1)" font-size="24">0.2</text>
<text transform="translate(88.60 1204.09) scale(0.9024 1)" font-size="24">0.1</text>
<text transform="translate(104.00 1296.51) scale(1.0957 1)" font-size="24">0</text>
<text transform="translate(76.18 1388.94) scale(0.8978 1)" font-size="24">−0.1</text>
<text transform="translate(71.66 1481.36) scale(0.9956 1)" font-size="24">−0.2</text>
<text transform="translate(172.18 1512.16) scale(0.9688 1)" font-size="24">−20</text>
<text transform="translate(262.35 1512.16) scale(0.8935 1)" font-size="24">−10</text>
<text transform="translate(361.90 1512.16) scale(1.0957 1)" font-size="24">0</text>
<text transform="translate(444.58 1512.16) scale(0.9708 1)" font-size="24">10</text>
<text transform="translate(532.07 1512.16) scale(1.0735 1)" font-size="24">20</text>
<text transform="translate(139.90 1082.80) scale(0.9905 1)" font-size="28">Andhra Pradesh</text>
<text transform="translate(22.50 1398.42) rotate(-90) scale(1.0049 1)" font-size="28">Influence on NUE</text>
<text transform="translate(55.60 1385.01) rotate(-90) scale(0.9984 1)" font-size="28">(Shapley value)</text>
</g>
<g id="pb2">
<g clip-path="url(#cb2)">
<rect x="716.00" y="1103.26" width="462.0" height="371.40" fill="#ebebeb"/>
<path d="M724.58 1103.3v371.4M813.70 1103.3v371.4M902.37 1103.3v371.4M991.04 1103.3v371.4M1079.71 1103.3v371.4M1168.82 1103.3v371.4M716 1150.47h462.0M716 1242.90h462.0M716 1335.32h462.0M716 1427.75h462.0" stroke="#ffffff" stroke-width="1.45" fill="none"/>
<path d="M769.36 1103.3v371.4M858.03 1103.3v371.4M946.70 1103.3v371.4M1035.37 1103.3v371.4M1124.04 1103.3v371.4M716 1104.26h462.0M716 1196.68h462.0M716 1289.11h462.0M716 1381.54h462.0M716 1473.96h462.0" stroke="#ffffff" stroke-width="2.9" fill="none"/>
<path d="M716.2 1211.9h0m0 8.9h0m0 9.1h0m0 2.5h0m0 1.7h0m0 0.7h0m0 1.4h0m0 5h0m0 45.7h0m0 4h0m0 2.7h0m0 9.2h0m0 3.7h0m0 0.6h0m0 3.8h0m0 2.5h0m0 32.6h0M725 1214.6h0m0 12.6h0m0 1h0m0 1h0m0 5.2h0m0 1.5h0m0 3.3h0m0 0.7h0m0 46.3h0m0 2.6h0m0 1h0m0 1.6h0m0 12.7h0m0 1.4h0m0 8.9h0m0 1.8h0M733.9 1206.4h0m0 7.4h0m0 6.3h0m0 5.2h0m0 8.5h0m0 1.7h0m0 3.3h0m0 0.9h0m0 1h0m0 47.1h0m0 5.9h0m0 1.5h0m0 2.3h0m0 2.4h0m0 2.7h0m0 3.7h0m0 0.3h0m0 15.1h0M742.8 1186.5h0m0 10.2h0m0 1.5h0m0 20.8h0m0 2h0m0 3h0m0 3.6h0m0 2.1h0m0 3.4h0m0 1.1h0m0 56.8h0m0 7.9h0m0 1.8h0m0 6.1h0m0 0.5h0m0 2.7h0m0 2.7h0m0 1.8h0m0 0.3h0m0 9.6h0M751.6 1198.1h0m0 2.1h0m0 4.7h0m0 4.5h0m0 1h0m0 7.2h0m0 1.3h0m0 9h0m0 0.6h0m0 2.9h0m0 61.6h0m0 1.7h0m0 2.4h0m0 0.7h0m0 3h0m0 3.6h0m0 1.7h0m0 7.3h0m0 12.7h0m0 6.6h0m0 33.1h0M760.5 1173.8h0m0 10.6h0m0 3.6h0m0 1.5h0m0 1.6h0m0 2.8h0m0 14.4h0m0 2.8h0m0 4.9h0m0 5.1h0m0 2.6h0m0 63.7h0m0 3h0m0 0.6h0m0 6.9h0m0 3.6h0m0 3.3h0m0 2.4h0m0 2.5h0m0 2.6h0m0 9.4h0M769.4 1180.1h0m0 9.8h0m0 0.6h0m0 8.1h0m0 1.8h0m0 2h0m0 2.9h0m0 13h0m0 0.3h0m0 0.3h0m0 67h0m0 1.2h0m0 3.6h0m0 1.5h0m0 4.2h0m0 1.5h0m0 0.5h0m0 5.4h0m0 0.3h0m0 14.8h0M778.2 1119.6h0m0 75.8h0m0 9.9h0m0 0.8h0m0 0.5h0m0 3.3h0m0 0.8h0m0 7.8h0m0 10.2h0m0 49.6h0m0 1.5h0m0 3.8h0m0 2.1h0m0 10.6h0m0 0.4h0m0 5.7h0m0 11h0M787.1 1173.3h0m0 9.7h0m0 5h0m0 6.2h0m0 11.5h0m0 8.4h0m0 0.6h0m0 3.6h0m0 57.2h0m0 0.7h0m0 0.7h0m0 3.5h0m0 1.5h0m0 0.9h0m0 2.2h0m0 2.7h0m0 3h0m0 22.7h0M796 1172.7h0m0 10.3h0m0 9.1h0m0 1.8h0m0 5.8h0m0 14h0m0 1.9h0m0 0.7h0m0 2.7h0m0 61.3h0m0 0.3h0m0 3.6h0m0 6.5h0m0 2.2h0m0 7.9h0m0 8.7h0m0 9.4h0m0 12.5h0M804.8 1163.9h0m0 10.8h0m0 8.1h0m0 6.5h0m0 7.8h0m0 1.9h0m0 3.6h0m0 0.9h0m0 6.1h0m0 2.3h0m0 4h0m0 60h0m0 1.3h0m0 1.3h0m0 1.1h0m0 5.8h0m0 1.3h0m0 9.3h0m0 3.5h0m0 12.8h0m0 1.3h0m0 2.6h0m0 13.8h0M813.7 1177.4h0m0 11.1h0m0 2h0m0 3.8h0m0 15.5h0m0 3.6h0m0 5.6h0m0 0.4h0m0 4.3h0m0 0.7h0m0 56.2h0m0 2.8h0m0 1.2h0m0 2.7h0m0 3h0m0 8.4h0m0 2.9h0m0 1.1h0m0 10.7h0M822.6 1195.4h0m0 14.5h0m0 7.4h0m0 0.3h0m0 0.4h0m0 9.4h0m0 1.5h0m0 1.8h0m0 0.4h0m0 2h0m0 52.9h0m0 5.6h0m0 2.8h0m0 5h0m0 5.4h0m0 7.3h0m0 1.1h0m0 7.1h0m0 1.9h0m0 2.2h0M831.4 1177.4h0m0 9.7h0m0 1.7h0m0 12.3h0m0 5.4h0m0 2.9h0m0 5.3h0m0 4.7h0m0 2.6h0m0 1h0m0 4.6h0m0 3h0m0 58.6h0m0 6.8h0m0 2.2h0m0 2.8h0m0 3.9h0m0 2.9h0m0 1.5h0m0 0.3h0m0 8.4h0m0 2.6h0m0 12.1h0m0 9.7h0M840.3 1172.7h0m0 11.7h0m0 5.4h0m0 10h0m0 2.3h0m0 0.9h0m0 5.2h0m0 1.6h0m0 7.4h0m0 0.6h0m0 2.3h0m0 1.1h0m0 63.8h0m0 1.3h0m0 8.9h0m0 4.7h0m0 1.3h0m0 0.7h0m0 0.3h0m0 1.7h0m0 16.7h0m0 6.6h0M849.2 1161.7h0m0 14.3h0m0 11.1h0m0 10.1h0m0 10.1h0m0 9.6h0m0 3.3h0m0 0.6h0m0 1.6h0m0 2.9h0m0 56.9h0m0 3.4h0m0 1.7h0m0 2h0m0 4.5h0m0 1.2h0m0 2.1h0m0 5.3h0m0 13.6h0m0 5.7h0M858 1187.6h0m0 10.5h0m0 7.4h0m0 11.2h0m0 3.3h0m0 0.5h0m0 3.3h0m0 4.1h0m0 7.3h0m0 2.8h0m0 0.4h0m0 55h0m0 3.2h0m0 5.1h0m0 2.5h0m0 3.4h0m0 0.5h0m0 0.8h0m0 14.2h0m0 5.9h0m0 3.7h0M866.9 1200.9h0m0 16.5h0m0 2.2h0m0 4.3h0m0 4.4h0m0 3.9h0m0 1.3h0m0 4.8h0m0 60.6h0m0 8.7h0m0 3.6h0m0 0.5h0m0 4.1h0m0 8.2h0m0 1.5h0m0 1.1h0m0 11.6h0M875.8 1209.1h0m0 15.7h0m0 5.5h0m0 3.8h0m0 1.8h0m0 0.8h0m0 1.3h0m0 50.6h0m0 1.3h0m0 1.2h0m0 1.8h0m0 0.6h0m0 6.8h0m0 18.6h0M884.6 1211.9h0m0 9.9h0m0 1.3h0m0 4.1h0m0 0.7h0m0 7h0m0 0.3h0m0 5.1h0m0 0.7h0m0 50.3h0m0 17.9h0m0 0.5h0m0 1.7h0m0 7.4h0m0 0.8h0m0 4.8h0M893.5 1200.2h0m0 10.3h0m0 0.6h0m0 2.8h0m0 1.1h0m0 21.1h0m0 2h0m0 1h0m0 1h0m0 7.9h0m0 54.1h0m0 9.4h0m0 0.5h0m0 0.5h0m0 5.6h0m0 2.3h0m0 1.4h0m0 0.6h0m0 8.1h0m0 10.4h0M902.4 1225.6h0m0 5.1h0m0 1.7h0m0 5h0m0 1.9h0m0 5.2h0m0 5.2h0m0 3.1h0m0 53h0m0 2.2h0m0 0.5h0m0 2.8h0m0 7.3h0m0 7.4h0m0 2.6h0m0 1.3h0M911.2 1227.4h0m0 9.2h0m0 13.8h0m0 0.5h0m0 4.8h0m0 4.1h0m0 3.2h0m0 2.6h0m0 0.3h0m0 45.7h0m0 0.9h0m0 2.3h0m0 3.9h0m0 3.3h0m0 7.5h0m0 5.3h0m0 8.9h0M920.1 1242.1h0m0 6.1h0m0 2.3h0m0 8.3h0m0 3.5h0m0 3h0m0 2h0m0 4.2h0m0 55.1h0m0 0.3h0m0 3.4h0m0 1.7h0m0 3.2h0m0 1.7h0m0 4h0m0 5.6h0M929 1244.9h0m0 13.1h0m0 1.2h0m0 0.9h0m0 7.3h0m0 1h0m0 3h0m0 2.9h0m0 50.3h0m0 4.3h0m0 0.5h0m0 4h0m0 2h0m0 5.2h0m0 8.2h0m0 5.9h0M937.8 1244.9h0m0 2.1h0m0 8.9h0m0 2.4h0m0 11.2h0m0 0.8h0m0 4.3h0m0 48.5h0m0 6.6h0m0 3.9h0m0 1.7h0m0 3h0m0 3.6h0m0 2.6h0m0 7.5h0m0 22.1h0M946.7 1244.9h0m0 6.2h0m0 5.8h0m0 4.2h0m0 5.3h0m0 2.6h0m0 1.2h0m0 48.5h0m0 0.9h0m0 1.9h0m0 4.9h0m0 4.4h0m0 5.2h0m0 10.5h0M955.6 1258.6h0m0 6.8h0m0 10.2h0m0 0.6h0m0 6h0m0 2.6h0m0 0.3h0m0 3.1h0m0 44.9h0m0 5.5h0m0 3.1h0m0 2.2h0m0 1.4h0m0 8.9h0m0 1.2h0m0 2.1h0M964.4 1258.6h0m0 12h0m0 1.1h0m0 3.8h0m0 0.5h0m0 12.1h0m0 1.8h0m0 0.8h0m0 45.7h0m0 4.3h0m0 0.3h0m0 2.8h0m0 4.4h0m0 4h0m0 5h0m0 8.5h0M973.3 1246.7h0m0 10.6h0m0 1.6h0m0 0.3h0m0 14.1h0m0 0.5h0m0 3.9h0m0 6.2h0m0 40.8h0m0 8.1h0m0 3.9h0m0 1.6h0m0 1.6h0m0 2.2h0m0 9.9h0m0 47.4h0M982.2 1264.1h0m0 2.6h0m0 4.8h0m0 0.6h0m0 1.6h0m0 6.1h0m0 10.3h0m0 40.7h0m0 3.6h0m0 0.9h0m0 2.9h0m0 5.4h0m0 8.6h0m0 5.3h0M991 1258.6h0m0 14h0m0 5h0m0 1.6h0m0 0.5h0m0 5.4h0m0 2.7h0m0 44.6h0m0 1.5h0m0 8.1h0m0 1.1h0m0 1.3h0m0 9.2h0m0 4.7h0m0 4.7h0M999.9 1257.3h0m0 11.8h0m0 0.9h0m0 4.9h0m0 1.4h0m0 2.7h0m0 1.2h0m0 2.7h0m0 46.1h0m0 0.3h0m0 8.6h0m0 1.4h0m0 4.5h0m0 5h0m0 3.5h0m0 5.2h0M1008.8 1260h0m0 9.4h0m0 5.1h0m0 3h0m0 2.9h0m0 6.5h0m0 0.5h0m0 43h0m0 0.7h0m0 1.4h0m0 3.6h0m0 3.1h0m0 12.8h0M1017.6 1257.3h0m0 7.9h0m0 0.3h0m0 4.9h0m0 5.4h0m0 3.5h0m0 2.1h0m0 5.4h0m0 42.6h0m0 3.3h0m0 6h0m0 5.6h0m0 3.8h0m0 3.7h0m0 1.7h0m0 4h0m0 11.1h0M1026.5 1257.3h0m0 1.7h0m0 5.8h0m0 13.8h0m0 0.5h0m0 3.3h0m0 2h0m0 39.2h0m0 0.5h0m0 3.9h0m0 2.9h0m0 6h0m0 3.1h0m0 9.2h0m0 24.9h0M1035.4 1260h0m0 5.6h0m0 4.6h0m0 1.8h0m0 5.2h0m0 2.4h0m0 2.9h0m0 40.2h0m0 3.9h0m0 4h0m0 1.9h0m0 5.7h0m0 4.3h0m0 4h0m0 20.7h0M1044.2 1258.6h0m0 5.1h0m0 8.6h0m0 3.5h0m0 4.3h0m0 0.9h0m0 47.9h0m0 1.4h0m0 7.1h0m0 1h0m0 2.6h0m0 2.2h0m0 8.8h0M1053.1 1253.1h0m0 15.3h0m0 5.3h0m0 3.6h0m0 0.9h0m0 1.6h0m0 41h0m0 1h0m0 0.8h0m0 8h0m0 1.5h0m0 6.6h0m0 10.5h0M1062 1232.4h0m0 5.5h0m0 9.7h0m0 4h0m0 1.7h0m0 6.3h0m0 6.2h0m0 1.8h0m0 0.7h0m0 0.9h0m0 51h0m0 0.4h0m0 3h0m0 0.4h0m0 2.9h0m0 6.7h0m0 9.3h0m0 3.6h0m0 15.2h0M1070.8 1236.6h0m0 17.4h0m0 0.7h0m0 0.9h0m0 1.1h0m0 2.2h0m0 1.2h0m0 2.4h0m0 51.3h0m0 5.2h0m0 2.6h0m0 1.6h0m0 3.6h0m0 11h0m0 4.7h0m0 1.2h0M1079.7 1242.1h0m0 8h0m0 1.8h0m0 2.7h0m0 6.4h0m0 10.1h0m0 1.5h0m0 43.1h0m0 4h0m0 2.6h0m0 7.1h0m0 6.7h0m0 1.1h0m0 9.3h0m0 13.8h0m0 8.3h0M1088.6 1240.8h0m0 9.3h0m0 4.1h0m0 3.5h0m0 2.7h0m0 0.5h0m0 9.9h0m0 44.5h0m0 2h0m0 5.5h0m0 0.8h0m0 1.5h0m0 12h0m0 6.6h0M1097.4 1247.6h0m0 13.3h0m0 3.5h0m0 2.6h0m0 1.6h0m0 46.1h0m0 1.7h0m0 5h0m0 5.4h0m0 0.9h0m0 13.2h0M1106.3 1250.4h0m0 3.8h0m0 5.2h0m0 4.1h0m0 9.5h0m0 1.5h0m0 1.8h0m0 36.9h0m0 0.6h0m0 7.5h0m0 9.8h0m0 4.3h0m0 2.8h0M1115.2 1261.4h0m0 7.7h0m0 4.9h0m0 3.4h0m0 3.8h0m0 2.9h0m0 34.4h0m0 7.8h0m0 1.4h0m0 3.5h0m0 9.7h0M1124 1247.5h0m0 9.8h0m0 10.4h0m0 5.5h0m0 0.8h0m0 1.8h0m0 3.4h0m0 1.8h0m0 38.8h0m0 6.9h0m0 2.8h0m0 6.2h0m0 5h0m0 3h0m0 22.1h0M1132.9 1272.4h0m0 2.8h0m0 0.3h0m0 11h0m0 6.4h0m0 0.7h0m0 34.2h0m0 2.4h0m0 7.1h0m0 4.2h0m0 5h0m0 26.2h0M1141.8 1283.4h0m0 2h0m0 2h0m0 15.6h0m0 0.6h0m0 28.4h0m0 0.4h0m0 5.4h0m0 0.7h0m0 6.4h0m0 7.1h0M1150.6 1266.8h0m0 11.1h0m0 7.5h0m0 2.1h0m0 4.6h0m0 3.7h0m0 32.5h0m0 0.3h0m0 2.6h0m0 0.5h0m0 12.2h0m0 5.3h0m0 16.6h0M1159.5 1282h0m0 5.9h0m0 3.3h0m0 2.3h0m0 4.3h0m0 2.7h0m0 31.6h0m0 3.6h0m0 2.5h0m0 4.1h0m0 3.9h0m0 3h0M1168.4 1283.4h0m0 4.9h0m0 8.3h0m0 3.7h0m0 30.8h0m0 1.7h0m0 9.6h0m0 2.9h0m0 3.9h0M1177.2 1283.4h0m0 7h0m0 0.4h0m0 6.6h0m0 0.9h0m0 34.5h0m0 5.4h0m0 0.7h0m0 2.4h0m0 5.2h0M716.2 1242.3v40.6M725 1245.1v40.6M733.9 1241v46.1M742.8 1235.1v51.1M751.6 1238.5v53.8M760.5 1225.6v54.9M769.4 1228.6v51.6M778.2 1230.8v47.2M787.1 1222.1v52.2M796 1223.8v54.4M804.8 1217.2v56.6M813.7 1226v50M822.6 1234.1v51.6M831.4 1230.8v58.2M840.3 1227.2v57.1M849.2 1227.5v53.8M858 1238.5v53.8M866.9 1242.1v54.9M875.8 1242.1v43.9M884.6 1245.6v45M893.5 1249.6v52.2M902.4 1256.9v41.7M911.2 1268.7v42.8M920.1 1273.4v41.7M929 1277.8v43.9M937.8 1277v42.8M946.7 1275.3v40.6M955.6 1288.3v39.5M964.4 1290.8v42.8M973.3 1285.7v37.9M982.2 1292.1v37.3M991 1289.9v41.7M999.9 1287.3v40.1M1008.8 1287.6v36.8M1017.6 1287.3v40.1M1026.5 1284.8v36.8M1035.4 1285.9v34.6M1044.2 1286.6v37.3M1053.1 1282v38.4M1062 1277.3v39.5M1070.8 1268.7v42.8M1079.7 1273.4v41.7M1088.6 1271.6v41.2M1097.4 1275.6v37.3M1106.3 1276.7v35.1M1115.2 1285.3v31.8M1124 1283.2v34.6M1132.9 1294.6v29.6M1141.8 1304v27.4M1150.6 1299.3v28.5M1159.5 1302.2v26.9M1168.4 1303.1v26.3M1177.2 1302.3v25.2" fill="none" stroke="#bebebe" stroke-width="11.4" stroke-linecap="round"/>
<path d="M714.3 1269 718.2 1267.6 722.1 1266.2 726 1264.9 729.9 1263.7 733.8 1262.6 737.8 1261.5 741.7 1260.6 745.6 1259.8 749.5 1259.1 753.4 1258.4 757.3 1257.8 761.3 1257.3 765.2 1256.9 769.1 1256.7 773 1256.6 776.9 1256.7 780.9 1256.9 784.8 1257.3 788.7 1257.8 792.6 1258.3 796.5 1258.9 800.4 1259.5 804.4 1260.1 808.3 1260.7 812.2 1261.3 816.1 1261.8 820 1262.4 824 1262.9 827.9 1263.3 831.8 1263.8 835.7 1264.3 839.6 1264.8 843.5 1265.3 847.5 1265.9 851.4 1266.5 855.3 1267.2 859.2 1268 863.1 1268.9 867 1269.9 871 1271.1 874.9 1272.4 878.8 1273.8 882.7 1275.3 886.6 1277 890.6 1278.7 894.5 1280.5 898.4 1282.2 902.3 1283.9 906.2 1285.6 910.1 1287.1 914.1 1288.5 918 1289.8 921.9 1291.1 925.8 1292.3 929.7 1293.4 933.7 1294.5 937.6 1295.5 941.5 1296.4 945.4 1297.1 949.3 1297.8 953.2 1298.3 957.2 1298.8 961.1 1299.1 965 1299.4 968.9 1299.7 972.8 1300 976.7 1300.3 980.7 1300.5 984.6 1300.8 988.5 1301 992.4 1301.2 996.3 1301.3 1000.3 1301.4 1004.2 1301.4 1008.1 1301.4 1012 1301.3 1015.9 1301.1 1019.8 1300.8 1023.8 1300.5 1027.7 1300.1 1031.6 1299.7 1035.5 1299.3 1039.4 1298.9 1043.3 1298.5 1047.3 1298 1051.2 1297.7 1055.1 1297.3 1059 1297 1062.9 1296.7 1066.9 1296.5 1070.8 1296.3 1074.7 1296.2 1078.6 1296.2 1082.5 1296.3 1086.4 1296.5 1090.4 1296.8 1094.3 1297.3 1098.2 1297.8 1102.1 1298.5 1106 1299.4 1110 1300.3 1113.9 1301.3 1117.8 1302.3 1121.7 1303.4 1125.6 1304.6 1129.5 1305.8 1133.5 1307 1137.4 1308.3 1141.3 1309.7 1145.2 1311 1149.1 1312.4 1153 1313.9 1157 1315.3 1160.9 1316.7 1164.8 1318 1168.7 1319.3 1172.6 1320.6 1176.6 1321.9 1180.5 1323.2" fill="none" stroke="#000" stroke-width="5.0" stroke-linejoin="round" stroke-linecap="butt"/>
<path d="M725 1464h1.5v10.7h-1.5z" fill="#000" fill-opacity="0.40"/>
<path d="M716 1464h1v10.7h-1zM722 1464h0.5v10.7h-0.5zM724 1464h1v10.7h-1zM726.5 1464h1.5v10.7h-1.5zM736.5 1464h1v10.7h-1zM1173 1464h1v10.7h-1zM1177 1464h0.5v10.7h-0.5z" fill="#000" fill-opacity="0.50"/>
<path d="M717 1464h1v10.7h-1zM720.5 1464h1.5v10.7h-1.5zM722.5 1464h1.5v10.7h-1.5zM728 1464h0.5v10.7h-0.5zM732 1464h1v10.7h-1zM735.5 1464h1v10.7h-1zM737.5 1464h0.5v10.7h-0.5zM1156 1464h0.5v10.7h-0.5zM1167 1464h0.5v10.7h-0.5zM1170 1464h0.5v10.7h-0.5zM1172 1464h1v10.7h-1zM1174 1464h1v10.7h-1zM1176.5 1464h0.5v10.7h-0.5zM1177.5 1464h1.5v10.7h-1.5z" fill="#000" fill-opacity="0.60"/>
<path d="M718 1464h1.5v10.7h-1.5zM720 1464h0.5v10.7h-0.5zM728.5 1464h1v10.7h-1zM730.5 1464h1.5v10.7h-1.5zM733 1464h2.5v10.7h-2.5zM738 1464h0.5v10.7h-0.5zM1147.5 1464h2.5v10.7h-2.5zM1155.5 1464h0.5v10.7h-0.5zM1156.5 1464h1.5v10.7h-1.5zM1160 1464h0.5v10.7h-0.5zM1161 1464h1v10.7h-1zM1163 1464h4v10.7h-4zM1167.5 1464h1.5v10.7h-1.5zM1170.5 1464h0.5v10.7h-0.5zM1171.5 1464h0.5v10.7h-0.5zM1175 1464h1.5v10.7h-1.5z" fill="#000" fill-opacity="0.70"/>
<path d="M719.5 1464h0.5v10.7h-0.5zM729.5 1464h1v10.7h-1zM738.5 1464h0.5v10.7h-0.5zM744 1464h0.5v10.7h-0.5zM1147 1464h0.5v10.7h-0.5zM1150 1464h5.5v10.7h-5.5zM1158 1464h2v10.7h-2zM1160.5 1464h0.5v10.7h-0.5zM1162 1464h1v10.7h-1zM1169 1464h1v10.7h-1zM1171 1464h0.5v10.7h-0.5z" fill="#000" fill-opacity="0.80"/>
<path d="M739 1464h5v10.7h-5zM744.5 1464h3.5v10.7h-3.5zM750.5 1464h3v10.7h-3zM1129.5 1464h1v10.7h-1zM1134.5 1464h12.5v10.7h-12.5z" fill="#000" fill-opacity="0.90"/>
<path d="M748 1464h2.5v10.7h-2.5zM753.5 1464h376v10.7h-376zM1130.5 1464h4v10.7h-4z" fill="#000" fill-opacity="1.00"/>
<rect x="716.00" y="1103.26" width="462.0" height="185.85" fill="#4f8b00" fill-opacity="0.1"/>
<rect x="716.00" y="1289.11" width="462.0" height="185.55" fill="#ff0000" fill-opacity="0.1"/>
</g>
<path d="M706.90 1104.26h9.6M706.90 1196.68h9.6M706.90 1289.11h9.6M706.90 1381.54h9.6M706.90 1473.96h9.6M769.36 1474.16v9.3M858.03 1474.16v9.3M946.70 1474.16v9.3M1035.37 1474.16v9.3M1124.04 1474.16v9.3" stroke="#222" stroke-width="1.7" fill="none"/>
<text transform="translate(661.75 1111.66) scale(1.0528 1)" font-size="24">0.2</text>
<text transform="translate(666.60 1204.09) scale(0.9024 1)" font-size="24">0.1</text>
<text transform="translate(682.00 1296.51) scale(1.0957 1)" font-size="24">0</text>
<text transform="translate(654.18 1388.94) scale(0.8978 1)" font-size="24">−0.1</text>
<text transform="translate(649.66 1481.36) scale(0.9956 1)" font-size="24">−0.2</text>
<text transform="translate(749.60 1512.16) scale(0.9688 1)" font-size="24">−20</text>
<text transform="translate(839.81 1512.16) scale(0.8935 1)" font-size="24">−10</text>
<text transform="translate(939.40 1512.16) scale(1.0957 1)" font-size="24">0</text>
<text transform="translate(1022.12 1512.16) scale(0.9708 1)" font-size="24">10</text>
<text transform="translate(1109.65 1512.16) scale(1.0735 1)" font-size="24">20</text>
<text transform="translate(716.95 1082.80) scale(0.9995 1)" font-size="28">Bihar and eastern Uttar Pradesh</text>
</g>
<g id="pb3">
<g clip-path="url(#cb3)">
<rect x="1294.00" y="1103.26" width="460.85" height="371.40" fill="#ebebeb"/>
<path d="M1302.86 1103.3v371.4M1391.78 1103.3v371.4M1480.26 1103.3v371.4M1568.74 1103.3v371.4M1657.22 1103.3v371.4M1746.14 1103.3v371.4M1294 1150.47h460.85M1294 1242.90h460.85M1294 1335.32h460.85M1294 1427.75h460.85" stroke="#ffffff" stroke-width="1.45" fill="none"/>
<path d="M1347.54 1103.3v371.4M1436.02 1103.3v371.4M1524.50 1103.3v371.4M1612.98 1103.3v371.4M1701.46 1103.3v371.4M1294 1104.26h460.85M1294 1196.68h460.85M1294 1289.11h460.85M1294 1381.54h460.85M1294 1473.96h460.85" stroke="#ffffff" stroke-width="2.9" fill="none"/>
<path d="M1329.8 1256.4h0M1338.7 1290.2h0m0 0.3h0M1347.5 1296.7h0M1365.2 1266.3h0m0 4.1h0M1391.8 1258.3h0m0 8h0m0 16.2h0m0 6.9h0m0 9.4h0M1400.6 1226.8h0m0 29.6h0m0 9.9h0m0 33.9h0M1409.5 1227.9h0m0 31.7h0m0 14.8h0m0 5.4h0m0 12.3h0m0 6.7h0m0 6.7h0M1418.3 1246.7h0m0 33.1h0m0 15h0m0 5.4h0m0 8h0M1427.2 1196.4h0m0 61.9h0m0 13.4h0m0 8.1h0m0 32.5h0M1436 1274.4h0m0 10.7h0m0 13.2h0M1444.9 1201.8h0m0 8.1h0m0 29.6h0m0 45.6h0m0 11h0M1453.7 1240.3h0m0 23.3h0m0 8.1h0M1462.6 1226h0m0 8.1h0m0 7.4h0m0 5.5h0m0 5.9h0m0 18.8h0m0 5.4h0M1471.4 1212.6h0m0 13.4h0m0 8.1h0m0 7.2h0m0 7.7h0m0 6.2h0m0 7.3h0m0 7.1h0m0 5.4h0m0 7.5h0m0 12.3h0m0 6.7h0m0 6.7h0M1480.3 1212.6h0m0 18.8h0m0 5.4h0m0 8.2h0m0 8.2h0m0 4.6h0m0 6.4h0m0 7.1h0m0 6.1h0m0 7.7h0M1489.1 1183h0m0 4h0m0 36.3h0m0 5.5h0m0 8.6h0m0 5.7h0m0 6.6h0m0 6.3h0m0 9.7h0m0 5.3h0m0 7.6h0m0 6.5h0m0 16.4h0m0 26.9h0M1498 1203.2h0m0 6.7h0m0 5.4h0m0 8.7h0m0 7.5h0m0 5h0m0 7.4h0m0 6.5h0m0 6.8h0m0 8.9h0m0 4.5h0m0 8.5h0m0 6h0m0 8.3h0m0 17.5h0M1506.8 1168.8h0m0 25h0m0 5.1h0m0 8.9h0m0 4.1h0m0 7h0m0 6.7h0m0 6.6h0m0 8.2h0m0 5.6h0m0 5h0m0 7h0m0 7.3h0m0 7.5h0m0 6.3h0m0 6h0m0 4.3h0m0 6.7h0M1515.7 1196.4h0m0 8.1h0m0 6.5h0m0 6.7h0m0 6.3h0m0 6.7h0m0 5.6h0m0 6.5h0m0 6.1h0m0 5.9h0m0 8.1h0m0 5h0m0 8.2h0m0 5h0m0 6.7h0m0 5.6h0m0 5.4h0M1524.5 1154.2h0m0 21.5h0m0 20.7h0m0 6.5h0m0 4.9h0m0 9.3h0m0 6.4h0m0 6.9h0m0 5.1h0m0 5.5h0m0 6.7h0m0 7.6h0m0 7h0m0 6.1h0m0 5.5h0m0 6.2h0m0 7.7h0m0 1.6h0m0 6.5h0m0 6.9h0M1533.3 1182.2h0m0 15.6h0m0 8.4h0m0 5.5h0m0 5.5h0m0 7.4h0m0 8h0m0 8h0m0 6.3h0m0 5h0m0 9.6h0m0 6h0m0 6.2h0m0 8.1h0m0 6h0m0 1.6h0m0 5.7h0m0 7.4h0m0 4.4h0M1542.2 1209.9h0m0 4.9h0m0 6.7h0m0 9.3h0m0 4.8h0m0 7.7h0m0 5.1h0m0 6.6h0m0 5.5h0m0 9.2h0m0 4.3h0m0 8.2h0m0 5.6h0m0 1.6h0m0 7.1h0m0 5.4h0m0 7.1h0m0 5.9h0M1551 1230.6h0m0 16.9h0m0 5.4h0m0 8.7h0m0 7.5h0m0 5.7h0m0 6.8h0m0 6.2h0m0 3h0m0 6.2h0m0 7.9h0m0 8.2h0m0 7.2h0M1559.9 1213.4h0m0 34.1h0m0 5.9h0m0 7.6h0m0 8h0m0 27.1h0m0 5.6h0m0 9.3h0m0 5.1h0m0 7.1h0m0 5.3h0m0 7.9h0M1568.7 1258.3h0m0 12.1h0m0 13.4h0m0 17.7h0m0 7.7h0m0 6.8h0m0 4.1h0m0 8.9h0m0 6.4h0m0 5.1h0m0 6.5h0m0 8.4h0m0 5.2h0M1577.6 1290.8h0m0 7.2h0m0 6.2h0m0 6.5h0m0 6.7h0m0 7.7h0m0 6.7h0m0 5.8h0m0 8.4h0m0 4.5h0m0 6.7h0m0 7.1h0m0 7.1h0m0 18.8h0m0 20.2h0M1586.4 1256.9h0m0 30.9h0m0 19.1h0m0 6.8h0m0 6.3h0m0 7.5h0m0 7.1h0m0 7.3h0m0 6.8h0m0 6.3h0m0 7h0m0 8.6h0m0 4.3h0m0 9.7h0m0 5.6h0M1595.3 1263.1h0m0 46.5h0m0 6.5h0m0 8.5h0m0 4.2h0m0 6.1h0m0 9.1h0m0 5.9h0m0 5.5h0m0 9.2h0m0 5.7h0m0 7.1h0m0 4.8h0m0 8h0m0 72.6h0M1604.1 1273.1h0m0 9.4h0m0 5.6h0m0 5.9h0m0 7.7h0m0 8.2h0m0 5h0m0 9.5h0m0 12h0m0 7.7h0m0 6.2h0m0 5h0m0 10.7h0m0 5.3h0m0 8.9h0m0 4.6h0M1613 1287.8h0m0 0.3h0m0 8h0m0 28.3h0m0 28.2h0m0 30.3h0m0 44.4h0M1621.8 1256.4h0m0 23.4h0m0 19h0m0 8.1h0m0 8h0m0 16.2h0M1630.7 1270.9h0m0 16.9h0m0 8.3h0m0 5.8h0m0 7h0m0 6h0m0 10.8h0m0 10.7h0m0 12.1h0m0 26.9h0m0 16.1h0m0 20.2h0M1639.5 1360.6h0m0 4.7h0m0 7.7h0m0 8h0m0 5.9h0m0 3.7h0m0 7.7h0m0 12.9h0M1648.4 1278.4h0m0 8.1h0m0 6.9h0m0 6.8h0m0 12.1h0m0 16.1h0m0 13.4h0m0 13.5h0m0 8.2h0m0 4.5h0m0 7.1h0m0 8.7h0m0 8.8h0m0 5.7h0M1657.2 1265h0m0 6.7h0m0 33.8h0m0 17.5h0m0 16.1h0m0 18.8h0m0 16.2h0m0 8h0m0 16.2h0M1666.1 1333.8h0m0 65.8h0m0 16.9h0m0 16.2h0M1674.9 1306.9h0m0 6.7h0m0 14.8h0m0 12.1h0m0 20.1h0M1683.8 1285.1h0m0 21.8h0m0 10.7h0m0 10.8h0m0 41.6h0m0 19.4h0M1692.6 1298.8h0m0 13.5h0m0 12.1h0m0 41.6h0m0 8.1h0M1701.5 1329.7h0m0 6.7h0m0 6.8h0m0 32.2h0m0 26.9h0M1710.3 1308.2h0m0 48.4h0m0 36.3h0M1719.2 1336.4h0m0 24.2h0m0 12.1h0m0 16.2h0M1728 1280.6h0m0 40.5h0m0 47.6h0m0 28.8h0m0 13.7h0M1736.9 1298.8h0m0 32.3h0m0 6.7h0m0 36.3h0m0 8h0M1745.7 1306.9h0m0 13.4h0m0 24.2h0m0 26.9h0m0 10.7h0m0 22.9h0M1754.5 1300.2h0m0 17.4h0m0 32.3h0m0 29.6h0m0 49.7h0" fill="none" stroke="#bebebe" stroke-width="11.4" stroke-linecap="round"/>
<path d="M1330 1288.6 1333.6 1287.6 1337.1 1286.5 1340.7 1285.4 1344.3 1284.3 1347.9 1283.1 1351.5 1282 1355.1 1280.8 1358.7 1279.6 1362.3 1278.4 1365.9 1277.2 1369.4 1276.1 1373 1274.9 1376.6 1273.8 1380.2 1272.7 1383.8 1271.6 1387.4 1270.5 1391 1269.5 1394.6 1268.5 1398.2 1267.5 1401.7 1266.5 1405.3 1265.5 1408.9 1264.6 1412.5 1263.6 1416.1 1262.7 1419.7 1261.8 1423.3 1261 1426.9 1260.1 1430.5 1259.2 1434 1258.4 1437.6 1257.7 1441.2 1256.9 1444.8 1256.2 1448.4 1255.6 1452 1255 1455.6 1254.4 1459.2 1253.9 1462.8 1253.4 1466.4 1252.9 1469.9 1252.5 1473.5 1252 1477.1 1251.6 1480.7 1251.2 1484.3 1250.7 1487.9 1250.3 1491.5 1249.9 1495.1 1249.5 1498.7 1249.2 1502.2 1248.9 1505.8 1248.9 1509.4 1249 1513 1249.3 1516.6 1249.9 1520.2 1250.8 1523.8 1252 1527.4 1253.6 1531 1255.8 1534.5 1258.8 1538.1 1262.8 1541.7 1267.3 1545.3 1271.9 1548.9 1276.4 1552.5 1280.8 1556.1 1285 1559.7 1289.1 1563.3 1293.1 1566.8 1297.2 1570.4 1301.3 1574 1305.2 1577.6 1309 1581.2 1312.6 1584.8 1316 1588.4 1319.4 1592 1322.6 1595.6 1325.5 1599.2 1328.1 1602.7 1330.3 1606.3 1332.3 1609.9 1334 1613.5 1335.5 1617.1 1336.8 1620.7 1338 1624.3 1339.2 1627.9 1340.2 1631.5 1341.3 1635 1342.3 1638.6 1343.2 1642.2 1344.1 1645.8 1345.1 1649.4 1345.9 1653 1346.8 1656.6 1347.7 1660.2 1348.5 1663.8 1349.3 1667.3 1350.1 1670.9 1350.9 1674.5 1351.7 1678.1 1352.3 1681.7 1353 1685.3 1353.6 1688.9 1354.2 1692.5 1354.7 1696.1 1355.2 1699.6 1355.7 1703.2 1356.1 1706.8 1356.5 1710.4 1356.9 1714 1357.1 1717.6 1357.4 1721.2 1357.5 1724.8 1357.6 1728.4 1357.7 1732 1357.8 1735.5 1357.8 1739.1 1357.7 1742.7 1357.6 1746.3 1357.4 1749.9 1357.2 1753.5 1356.9 1757.1 1356.6" fill="none" stroke="#000" stroke-width="5.0" stroke-linejoin="round" stroke-linecap="butt"/>
<path d="M1327 1464h2.5v10.7h-2.5zM1331.5 1464h1v10.7h-1zM1339 1464h1v10.7h-1zM1345 1464h2.5v10.7h-2.5zM1349.5 1464h1v10.7h-1zM1352 1464h1v10.7h-1zM1360 1464h0.5v10.7h-0.5zM1363 1464h0.5v10.7h-0.5zM1368 1464h2.5v10.7h-2.5zM1386 1464h0.5v10.7h-0.5zM1390 1464h0.5v10.7h-0.5zM1397.5 1464h1.5v10.7h-1.5zM1431 1464h1v10.7h-1zM1456.5 1464h1v10.7h-1zM1665 1464h0.5v10.7h-0.5zM1670 1464h0.5v10.7h-0.5zM1694 1464h0.5v10.7h-0.5zM1706 1464h1v10.7h-1zM1709.5 1464h0.5v10.7h-0.5zM1731.5 1464h0.5v10.7h-0.5zM1751 1464h0.5v10.7h-0.5z" fill="#000" fill-opacity="0.10"/>
<path d="M1332.5 1464h2v10.7h-2zM1335.5 1464h0.5v10.7h-0.5zM1336.5 1464h2.5v10.7h-2.5zM1350.5 1464h1.5v10.7h-1.5zM1360.5 1464h2.5v10.7h-2.5zM1365 1464h2.5v10.7h-2.5zM1386.5 1464h0.5v10.7h-0.5zM1389.5 1464h0.5v10.7h-0.5zM1390.5 1464h1v10.7h-1zM1396 1464h1.5v10.7h-1.5zM1399 1464h1.5v10.7h-1.5zM1409.5 1464h0.5v10.7h-0.5zM1414.5 1464h2.5v10.7h-2.5zM1425 1464h0.5v10.7h-0.5zM1426.5 1464h0.5v10.7h-0.5zM1430.5 1464h0.5v10.7h-0.5zM1432 1464h1.5v10.7h-1.5zM1434 1464h1.5v10.7h-1.5zM1436 1464h1.5v10.7h-1.5zM1438 1464h3.5v10.7h-3.5zM1443 1464h0.5v10.7h-0.5zM1447 1464h0.5v10.7h-0.5zM1450 1464h1v10.7h-1zM1453 1464h3.5v10.7h-3.5zM1611.5 1464h1v10.7h-1zM1619 1464h1v10.7h-1zM1622.5 1464h1v10.7h-1zM1641.5 1464h0.5v10.7h-0.5zM1662.5 1464h2.5v10.7h-2.5zM1665.5 1464h0.5v10.7h-0.5zM1668.5 1464h1.5v10.7h-1.5zM1670.5 1464h1v10.7h-1zM1693 1464h1v10.7h-1zM1694.5 1464h2.5v10.7h-2.5zM1701.5 1464h1.5v10.7h-1.5zM1705.5 1464h0.5v10.7h-0.5zM1710 1464h0.5v10.7h-0.5zM1717.5 1464h2.5v10.7h-2.5zM1721 1464h1.5v10.7h-1.5zM1726 1464h0.5v10.7h-0.5zM1732 1464h1v10.7h-1zM1737 1464h2.5v10.7h-2.5zM1743.5 1464h0.5v10.7h-0.5zM1750.5 1464h0.5v10.7h-0.5zM1752 1464h1v10.7h-1z" fill="#000" fill-opacity="0.20"/>
<path d="M1334.5 1464h1v10.7h-1zM1336 1464h0.5v10.7h-0.5zM1387 1464h0.5v10.7h-0.5zM1388.5 1464h1v10.7h-1zM1391.5 1464h1.5v10.7h-1.5zM1395.5 1464h0.5v10.7h-0.5zM1400.5 1464h0.5v10.7h-0.5zM1403 1464h1v10.7h-1zM1409 1464h0.5v10.7h-0.5zM1410 1464h1.5v10.7h-1.5zM1414 1464h0.5v10.7h-0.5zM1417 1464h2v10.7h-2zM1419.5 1464h0.5v10.7h-0.5zM1423 1464h1.5v10.7h-1.5zM1425.5 1464h1v10.7h-1zM1427 1464h0.5v10.7h-0.5zM1430 1464h0.5v10.7h-0.5zM1433.5 1464h0.5v10.7h-0.5zM1435.5 1464h0.5v10.7h-0.5zM1437.5 1464h0.5v10.7h-0.5zM1441.5 1464h1.5v10.7h-1.5zM1446 1464h1v10.7h-1zM1447.5 1464h2.5v10.7h-2.5zM1451 1464h2v10.7h-2zM1457.5 1464h3v10.7h-3zM1611 1464h0.5v10.7h-0.5zM1612.5 1464h1.5v10.7h-1.5zM1618.5 1464h0.5v10.7h-0.5zM1620 1464h2.5v10.7h-2.5zM1623.5 1464h0.5v10.7h-0.5zM1641 1464h0.5v10.7h-0.5zM1642 1464h1v10.7h-1zM1661.5 1464h1v10.7h-1zM1671.5 1464h1v10.7h-1zM1675 1464h7.5v10.7h-7.5zM1685.5 1464h0.5v10.7h-0.5zM1692.5 1464h0.5v10.7h-0.5zM1697 1464h0.5v10.7h-0.5zM1699.5 1464h2v10.7h-2zM1703 1464h2.5v10.7h-2.5zM1710.5 1464h0.5v10.7h-0.5zM1712.5 1464h2v10.7h-2zM1717 1464h0.5v10.7h-0.5zM1720 1464h1v10.7h-1zM1722.5 1464h3.5v10.7h-3.5zM1726.5 1464h0.5v10.7h-0.5zM1730 1464h1.5v10.7h-1.5zM1733 1464h0.5v10.7h-0.5zM1736.5 1464h0.5v10.7h-0.5zM1739.5 1464h1v10.7h-1zM1741 1464h1v10.7h-1zM1742.5 1464h1v10.7h-1zM1744 1464h3.5v10.7h-3.5zM1753 1464h0.5v10.7h-0.5z" fill="#000" fill-opacity="0.30"/>
<path d="M1387.5 1464h1v10.7h-1zM1393 1464h2.5v10.7h-2.5zM1401 1464h2v10.7h-2zM1404 1464h1.5v10.7h-1.5zM1408.5 1464h0.5v10.7h-0.5zM1411.5 1464h2.5v10.7h-2.5zM1419 1464h0.5v10.7h-0.5zM1420 1464h0.5v10.7h-0.5zM1421.5 1464h1.5v10.7h-1.5zM1424.5 1464h0.5v10.7h-0.5zM1427.5 1464h1v10.7h-1zM1429.5 1464h0.5v10.7h-0.5zM1443.5 1464h2.5v10.7h-2.5zM1460.5 1464h0.5v10.7h-0.5zM1464.5 1464h1.5v10.7h-1.5zM1588 1464h0.5v10.7h-0.5zM1610 1464h1v10.7h-1zM1614 1464h0.5v10.7h-0.5zM1618 1464h0.5v10.7h-0.5zM1624 1464h0.5v10.7h-0.5zM1627 1464h1v10.7h-1zM1640.5 1464h0.5v10.7h-0.5zM1643 1464h0.5v10.7h-0.5zM1661 1464h0.5v10.7h-0.5zM1666 1464h1.5v10.7h-1.5zM1668 1464h0.5v10.7h-0.5zM1672.5 1464h2.5v10.7h-2.5zM1682.5 1464h3v10.7h-3zM1686 1464h1v10.7h-1zM1688.5 1464h1.5v10.7h-1.5zM1691 1464h0.5v10.7h-0.5zM1692 1464h0.5v10.7h-0.5zM1697.5 1464h1v10.7h-1zM1711 1464h1.5v10.7h-1.5zM1714.5 1464h2.5v10.7h-2.5zM1727 1464h2v10.7h-2zM1729.5 1464h0.5v10.7h-0.5zM1733.5 1464h1v10.7h-1zM1735.5 1464h1v10.7h-1zM1740.5 1464h0.5v10.7h-0.5zM1742 1464h0.5v10.7h-0.5zM1747.5 1464h0.5v10.7h-0.5zM1750 1464h0.5v10.7h-0.5zM1753.5 1464h2v10.7h-2z" fill="#000" fill-opacity="0.40"/>
<path d="M1405.5 1464h3v10.7h-3zM1420.5 1464h1v10.7h-1zM1428.5 1464h1v10.7h-1zM1461 1464h1v10.7h-1zM1463 1464h1.5v10.7h-1.5zM1565.5 1464h0.5v10.7h-0.5zM1570 1464h0.5v10.7h-0.5zM1587 1464h1v10.7h-1zM1591.5 1464h2v10.7h-2zM1609.5 1464h0.5v10.7h-0.5zM1614.5 1464h1.5v10.7h-1.5zM1617 1464h1v10.7h-1zM1624.5 1464h1v10.7h-1zM1626 1464h1v10.7h-1zM1628 1464h1v10.7h-1zM1631.5 1464h1v10.7h-1zM1639.5 1464h1v10.7h-1zM1643.5 1464h0.5v10.7h-0.5zM1646.5 1464h0.5v10.7h-0.5zM1652.5 1464h1.5v10.7h-1.5zM1654.5 1464h2.5v10.7h-2.5zM1657.5 1464h3.5v10.7h-3.5zM1667.5 1464h0.5v10.7h-0.5zM1687 1464h1.5v10.7h-1.5zM1690 1464h1v10.7h-1zM1691.5 1464h0.5v10.7h-0.5zM1698.5 1464h1v10.7h-1zM1729 1464h0.5v10.7h-0.5zM1734.5 1464h1v10.7h-1zM1748 1464h0.5v10.7h-0.5zM1749.5 1464h0.5v10.7h-0.5z" fill="#000" fill-opacity="0.50"/>
<path d="M1462 1464h1v10.7h-1zM1466 1464h0.5v10.7h-0.5zM1481 1464h0.5v10.7h-0.5zM1565 1464h0.5v10.7h-0.5zM1566 1464h0.5v10.7h-0.5zM1569.5 1464h0.5v10.7h-0.5zM1570.5 1464h1v10.7h-1zM1573 1464h1v10.7h-1zM1578 1464h3.5v10.7h-3.5zM1586.5 1464h0.5v10.7h-0.5zM1588.5 1464h0.5v10.7h-0.5zM1589.5 1464h1v10.7h-1zM1591 1464h0.5v10.7h-0.5zM1593.5 1464h0.5v10.7h-0.5zM1597.5 1464h0.5v10.7h-0.5zM1601 1464h0.5v10.7h-0.5zM1606.5 1464h3v10.7h-3zM1616 1464h1v10.7h-1zM1625.5 1464h0.5v10.7h-0.5zM1632.5 1464h0.5v10.7h-0.5zM1633.5 1464h0.5v10.7h-0.5zM1634.5 1464h5v10.7h-5zM1644 1464h0.5v10.7h-0.5zM1646 1464h0.5v10.7h-0.5zM1647 1464h0.5v10.7h-0.5zM1648 1464h1v10.7h-1zM1652 1464h0.5v10.7h-0.5zM1654 1464h0.5v10.7h-0.5zM1657 1464h0.5v10.7h-0.5zM1748.5 1464h1v10.7h-1z" fill="#000" fill-opacity="0.60"/>
<path d="M1479 1464h2v10.7h-2zM1481.5 1464h1v10.7h-1zM1555 1464h0.5v10.7h-0.5zM1556 1464h1v10.7h-1zM1566.5 1464h1v10.7h-1zM1568.5 1464h1v10.7h-1zM1571.5 1464h1.5v10.7h-1.5zM1574 1464h1v10.7h-1zM1577.5 1464h0.5v10.7h-0.5zM1581.5 1464h1v10.7h-1zM1586 1464h0.5v10.7h-0.5zM1589 1464h0.5v10.7h-0.5zM1590.5 1464h0.5v10.7h-0.5zM1594 1464h0.5v10.7h-0.5zM1597 1464h0.5v10.7h-0.5zM1598 1464h0.5v10.7h-0.5zM1599 1464h2v10.7h-2zM1601.5 1464h2v10.7h-2zM1606 1464h0.5v10.7h-0.5zM1629 1464h2.5v10.7h-2.5zM1633 1464h0.5v10.7h-0.5zM1634 1464h0.5v10.7h-0.5zM1644.5 1464h1.5v10.7h-1.5zM1647.5 1464h0.5v10.7h-0.5zM1649 1464h3v10.7h-3z" fill="#000" fill-opacity="0.70"/>
<path d="M1466.5 1464h1v10.7h-1zM1469 1464h3v10.7h-3zM1477.5 1464h1.5v10.7h-1.5zM1482.5 1464h0.5v10.7h-0.5zM1546 1464h2.5v10.7h-2.5zM1554.5 1464h0.5v10.7h-0.5zM1555.5 1464h0.5v10.7h-0.5zM1557 1464h2v10.7h-2zM1564 1464h1v10.7h-1zM1567.5 1464h1v10.7h-1zM1575 1464h1v10.7h-1zM1576.5 1464h1v10.7h-1zM1582.5 1464h3.5v10.7h-3.5zM1594.5 1464h2.5v10.7h-2.5zM1598.5 1464h0.5v10.7h-0.5zM1603.5 1464h2.5v10.7h-2.5z" fill="#000" fill-opacity="0.80"/>
<path d="M1467.5 1464h1.5v10.7h-1.5zM1472 1464h5.5v10.7h-5.5zM1483 1464h16.5v10.7h-16.5zM1500.5 1464h3v10.7h-3zM1508 1464h0.5v10.7h-0.5zM1509 1464h3.5v10.7h-3.5zM1515 1464h1.5v10.7h-1.5zM1517 1464h4v10.7h-4zM1524.5 1464h0.5v10.7h-0.5zM1533 1464h2.5v10.7h-2.5zM1538 1464h2v10.7h-2zM1545 1464h1v10.7h-1zM1548.5 1464h2v10.7h-2zM1551 1464h3.5v10.7h-3.5zM1559 1464h5v10.7h-5zM1576 1464h0.5v10.7h-0.5z" fill="#000" fill-opacity="0.90"/>
<path d="M1499.5 1464h1v10.7h-1zM1503.5 1464h4.5v10.7h-4.5zM1508.5 1464h0.5v10.7h-0.5zM1512.5 1464h2.5v10.7h-2.5zM1516.5 1464h0.5v10.7h-0.5zM1521 1464h3.5v10.7h-3.5zM1525 1464h8v10.7h-8zM1535.5 1464h2.5v10.7h-2.5zM1540 1464h5v10.7h-5zM1550.5 1464h0.5v10.7h-0.5z" fill="#000" fill-opacity="1.00"/>
<rect x="1294.00" y="1103.26" width="460.85" height="185.85" fill="#4f8b00" fill-opacity="0.1"/>
<rect x="1294.00" y="1289.11" width="460.85" height="185.55" fill="#ff0000" fill-opacity="0.1"/>
</g>
<path d="M1284.90 1104.26h9.6M1284.90 1196.68h9.6M1284.90 1289.11h9.6M1284.90 1381.54h9.6M1284.90 1473.96h9.6M1347.54 1474.16v9.3M1436.02 1474.16v9.3M1524.50 1474.16v9.3M1612.98 1474.16v9.3M1701.46 1474.16v9.3" stroke="#222" stroke-width="1.7" fill="none"/>
<text transform="translate(1239.75 1111.66) scale(1.0528 1)" font-size="24">0.2</text>
<text transform="translate(1244.60 1204.09) scale(0.9024 1)" font-size="24">0.1</text>
<text transform="translate(1260.00 1296.51) scale(1.0957 1)" font-size="24">0</text>
<text transform="translate(1232.18 1388.94) scale(0.8978 1)" font-size="24">−0.1</text>
<text transform="translate(1227.66 1481.36) scale(0.9956 1)" font-size="24">−0.2</text>
<text transform="translate(1327.78 1512.16) scale(0.9688 1)" font-size="24">−20</text>
<text transform="translate(1417.80 1512.16) scale(0.8935 1)" font-size="24">−10</text>
<text transform="translate(1517.20 1512.16) scale(1.0957 1)" font-size="24">0</text>
<text transform="translate(1599.73 1512.16) scale(0.9708 1)" font-size="24">10</text>
<text transform="translate(1687.07 1512.16) scale(1.0735 1)" font-size="24">20</text>
<text transform="translate(1293.75 1082.70) scale(0.9989 1)" font-size="28">Odisha</text>
</g>
<g id="pb4">
<g clip-path="url(#cb4)">
<rect x="138.00" y="1587.30" width="463.0" height="370.20" fill="#ebebeb"/>
<path d="M147.18 1587.3v370.2M236.25 1587.3v370.2M324.88 1587.3v370.2M413.51 1587.3v370.2M502.14 1587.3v370.2M591.22 1587.3v370.2M138 1633.11h463.0M138 1725.54h463.0M138 1817.96h463.0M138 1910.39h463.0" stroke="#ffffff" stroke-width="1.45" fill="none"/>
<path d="M191.94 1587.3v370.2M280.57 1587.3v370.2M369.20 1587.3v370.2M457.83 1587.3v370.2M546.46 1587.3v370.2M138 1586.90h463.0M138 1679.33h463.0M138 1771.75h463.0M138 1864.18h463.0M138 1956.60h463.0" stroke="#ffffff" stroke-width="2.9" fill="none"/>
<path d="M165.4 1656.5h0M174.2 1785.4h0M183.1 1591.8h0M191.9 1790.9h0M209.7 1707.9h0m0 26.1h0m0 13.8h0m0 13.7h0m0 8.3h0m0 3.2h0m0 82.5h0M218.5 1650.1h0m0 16.5h0m0 22h0m0 17.9h0m0 17.9h0m0 13.8h0m0 15.2h0m0 0.3h0m0 2.4h0m0 0.7h0m0 16.1h0M227.4 1619.3h0m0 17.9h0m0 17.1h0m0 16.5h0m0 5.5h0m0 13.8h0m0 6.4h0m0 6.3h0m0 6.4h0m0 6.3h0m0 6.4h0m0 6.4h0m0 6.3h0m0 6.4h0m0 6.3h0m0 6.4h0m0 6.3h0m0 6.4h0m0 6.4h0m0 6.3h0m0 6.4h0m0 6.3h0m0 6.4h0m0 6.3h0M236.3 1617.1h0m0 36.6h0m0 6.1h0m0 27.6h0m0 6.5h0m0 6.5h0m0 6.5h0m0 6.5h0m0 6.5h0m0 6.4h0m0 6.5h0m0 6.5h0m0 6.5h0m0 6.5h0m0 6.5h0m0 6.5h0m0 6.5h0m0 6.5h0m0 6.5h0m0 6.5h0m0 6.5h0m0 6.5h0m0 6.5h0m0 6.5h0m0 6.5h0M245.1 1625.4h0m0 33h0m0 19.2h0m0 22.1h0m0 6.6h0m0 6.6h0m0 6.5h0m0 6.6h0m0 6.6h0m0 6.5h0m0 6.6h0m0 6.5h0m0 6.6h0m0 6.6h0m0 6.5h0m0 6.6h0m0 6.5h0m0 6.6h0m0 6.6h0m0 6.5h0m0 6.6h0m0 6.6h0m0 6.5h0m0 6.6h0m0 6.5h0m0 29h0M254 1615.8h0m0 52.2h0m0 35.9h0m0 9.8h0m0 10.3h0m0 2.5h0m0 3.1h0m0 4h0m0 0.5h0m0 0.7h0m0 0.6h0m0 57.4h0m0 1.4h0m0 0.5h0m0 1.1h0m0 7.7h0m0 5.6h0m0 2.1h0m0 5.5h0m0 8.5h0m0 122.5h0M262.8 1672.1h0m0 15.2h0m0 13.8h0m0 1.4h0m0 4.3h0m0 4.1h0m0 0.7h0m0 3.6h0m0 0.7h0m0 5.2h0m0 8.6h0m0 3.4h0m0 62.3h0m0 2.5h0m0 0.5h0m0 5.8h0m0 4.1h0m0 2.9h0m0 3h0m0 10h0m0 5.1h0m0 15.2h0m0 9.6h0M271.7 1649.6h0m0 12.4h0m0 12.9h0m0 23.5h0m0 1.8h0m0 9.3h0m0 7.7h0m0 4.2h0m0 2.8h0m0 8.3h0m0 2.5h0m0 1.1h0m0 62.4h0m0 8.5h0m0 0.9h0m0 3.7h0m0 5.6h0m0 3.5h0m0 1.9h0m0 0.7h0m0 12.3h0m0 3.3h0m0 22.1h0M280.6 1694.2h0m0 5.2h0m0 1.4h0m0 6.7h0m0 1.4h0m0 17.4h0m0 1.2h0m0 1h0m0 3.3h0m0 9h0m0 69.2h0m0 3.1h0m0 0.7h0m0 1.7h0m0 12.5h0m0 2.2h0m0 0.8h0m0 1.5h0m0 0.6h0m0 6.9h0m0 8.3h0m0 3h0m0 52.4h0m0 8.2h0M289.4 1680.5h0m0 15.2h0m0 8.6h0m0 7.3h0m0 1.5h0m0 3.1h0m0 0.6h0m0 8.9h0m0 1.1h0m0 2.5h0m0 1.2h0m0 68h0m0 4.8h0m0 5.1h0m0 2.6h0m0 2.6h0m0 4.4h0m0 2.2h0m0 4.6h0m0 11h0m0 3h0m0 8.4h0m0 19.3h0m0 29.5h0M298.3 1646h0m0 24.8h0m0 12.4h0m0 9.5h0m0 3h0m0 4.4h0m0 2.6h0m0 7.3h0m0 6h0m0 7h0m0 2.3h0m0 0.9h0m0 1.1h0m0 73.5h0m0 1.1h0m0 2h0m0 2h0m0 6.5h0m0 0.3h0m0 3.5h0m0 0.5h0m0 0.7h0m0 7.2h0m0 25.3h0m0 15.2h0M307.2 1642.7h0m0 33.7h0m0 22.5h0m0 3.1h0m0 2.7h0m0 1.2h0m0 0.3h0m0 0.5h0m0 0.9h0m0 8.8h0m0 0.5h0m0 3.2h0m0 73.3h0m0 6.3h0m0 0.9h0m0 5.6h0m0 8h0m0 0.3h0m0 1.1h0m0 1.7h0m0 8.5h0m0 6.6h0m0 3.6h0m0 5.7h0m0 30.3h0m0 16.5h0m0 16.5h0m0 19.3h0M316 1638.6h0m0 25.4h0m0 6.3h0m0 10.8h0m0 4h0m0 5.8h0m0 1.8h0m0 3.4h0m0 4.6h0m0 3.8h0m0 7.9h0m0 2.5h0m0 5.2h0m0 1.5h0m0 78.7h0m0 2h0m0 1.1h0m0 6h0m0 1.3h0m0 6.9h0m0 6.3h0m0 6.7h0m0 2.9h0m0 2h0m0 0.3h0m0 8.9h0m0 13.5h0m0 52.3h0M324.9 1622.6h0m0 8.3h0m0 13.7h0m0 16.6h0m0 3.8h0m0 12.8h0m0 10.5h0m0 2.6h0m0 5.2h0m0 3.3h0m0 0.8h0m0 7.4h0m0 2.2h0m0 0.5h0m0 1.8h0m0 1.3h0m0 82.2h0m0 3.2h0m0 4.4h0m0 1.6h0m0 1.2h0m0 3.9h0m0 11.3h0m0 2.4h0m0 2.7h0m0 4.7h0m0 0.7h0m0 14.1h0m0 3.2h0m0 3.7h0m0 28.4h0m0 14.3h0M333.7 1590.5h0m0 21.1h0m0 12.4h0m0 13.8h0m0 13.8h0m0 3.1h0m0 9.6h0m0 0.5h0m0 12.8h0m0 1.4h0m0 8.1h0m0 1.2h0m0 2.7h0m0 5h0m0 0.7h0m0 7.7h0m0 0.6h0m0 1.9h0m0 85.2h0m0 4.2h0m0 2.3h0m0 8.8h0m0 0.9h0m0 8.9h0m0 2.1h0m0 1.3h0m0 7.3h0m0 1.6h0m0 13.9h0m0 3.8h0M342.6 1630.3h0m0 15.8h0m0 7h0m0 5.1h0m0 6.6h0m0 2.4h0m0 10.7h0m0 2.2h0m0 3.5h0m0 5.8h0m0 7.1h0m0 1h0m0 2.9h0m0 1.3h0m0 0.3h0m0 4.1h0m0 82.5h0m0 2.8h0m0 2.8h0m0 5.9h0m0 0.7h0m0 2h0m0 3.1h0m0 2.5h0m0 9h0m0 11.8h0m0 1.6h0m0 2.6h0m0 4.9h0m0 6.4h0m0 2.5h0M351.5 1591.8h0m0 22.6h0m0 24.8h0m0 14.9h0m0 10.7h0m0 8.4h0m0 4.1h0m0 0.5h0m0 1h0m0 11h0m0 1.6h0m0 1.1h0m0 4.1h0m0 0.3h0m0 4h0m0 2.6h0m0 0.5h0m0 91.2h0m0 0.9h0m0 2.8h0m0 5.1h0m0 2.5h0m0 0.5h0m0 7.5h0m0 0.6h0m0 1.9h0m0 0.8h0m0 0.5h0m0 0.7h0m0 3.8h0m0 2h0m0 23.3h0m0 10.1h0M360.3 1597.9h0m0 4.1h0m0 17.9h0m0 24.8h0m0 3.2h0m0 1.7h0m0 7.1h0m0 3.5h0m0 2h0m0 5.3h0m0 1.8h0m0 0.6h0m0 0.7h0m0 8.2h0m0 9h0m0 8.4h0m0 5.7h0m0 89.3h0m0 1.4h0m0 0.4h0m0 3.1h0m0 1.6h0m0 0.5h0m0 9.3h0m0 0.3h0m0 1h0m0 4.3h0m0 5.4h0m0 2.9h0m0 0.6h0m0 27.9h0M369.2 1614.4h0m0 12.4h0m0 31.7h0m0 1.3h0m0 4.4h0m0 22.1h0m0 1.2h0m0 5.8h0m0 4h0m0 0.3h0m0 6.7h0m0 2.1h0m0 4.5h0m0 2.8h0m0 1.9h0m0 82.6h0m0 0.4h0m0 2.6h0m0 5.1h0m0 2.5h0m0 11.3h0m0 4.9h0m0 0.8h0m0 0.7h0m0 3.7h0m0 3.6h0m0 17.5h0M378.1 1602h0m0 23.4h0m0 17.9h0m0 13.8h0m0 5.3h0m0 1.2h0m0 11h0m0 3.3h0m0 0.9h0m0 11.5h0m0 0.9h0m0 0.8h0m0 5.2h0m0 3.3h0m0 5.9h0m0 2.2h0m0 77.4h0m0 2.9h0m0 1.8h0m0 4.4h0m0 3.5h0m0 0.4h0m0 3.6h0m0 2.8h0m0 7.8h0m0 3.9h0m0 13.7h0m0 8.1h0m0 19.9h0m0 14.6h0M386.9 1647.4h0m0 6.9h0m0 11.1h0m0 11.4h0m0 6h0m0 1.5h0m0 4.5h0m0 0.6h0m0 1.2h0m0 1.5h0m0 1.5h0m0 5.7h0m0 5.1h0m0 4.9h0m0 76h0m0 0.8h0m0 1.4h0m0 1h0m0 3.2h0m0 3.3h0m0 2.9h0m0 5.7h0m0 2.3h0m0 0.3h0m0 17.6h0m0 9.6h0M395.8 1669.5h0m0 20h0m0 1.4h0m0 0.9h0m0 1h0m0 9h0m0 2.8h0m0 0.8h0m0 7.6h0m0 2.8h0m0 0.7h0m0 3.3h0m0 71.6h0m0 4.3h0m0 1.2h0m0 0.5h0m0 2.8h0m0 7.9h0m0 11.2h0m0 1.1h0m0 2.6h0m0 4.7h0m0 11.2h0M404.7 1654.3h0m0 11.1h0m0 1.6h0m0 12.2h0m0 13.2h0m0 5.7h0m0 0.9h0m0 1.5h0m0 0.4h0m0 3h0m0 2.9h0m0 3.2h0m0 0.4h0m0 78h0m0 4.5h0m0 0.8h0m0 2.1h0m0 7.5h0m0 2.7h0m0 0.3h0m0 2.9h0m0 3.6h0m0 11.1h0m0 2.8h0m0 9.5h0M413.5 1694.2h0m0 2.9h0m0 3.8h0m0 25h0m0 0.8h0m0 4h0m0 1.3h0m0 2.5h0m0 3.3h0m0 1.3h0m0 2.1h0m0 70h0m0 2.8h0m0 1.7h0m0 0.5h0m0 6h0m0 1.3h0m0 2.9h0m0 10h0m0 0.8h0m0 3.3h0m0 6.8h0m0 9.5h0M422.4 1697h0m0 20h0m0 0.8h0m0 5h0m0 1.6h0m0 1.9h0m0 3.5h0m0 0.3h0m0 6.6h0m0 6h0m0 61.5h0m0 1.1h0m0 6.5h0m0 0.3h0m0 0.5h0m0 1.9h0m0 4.6h0m0 4.4h0m0 7.8h0m0 2h0m0 16.6h0m0 24.9h0m0 24.7h0M431.2 1684.5h0m0 11.1h0m0 5.2h0m0 5.6h0m0 3.6h0m0 1.2h0m0 6.3h0m0 0.5h0m0 11.7h0m0 5.1h0m0 2.9h0m0 4.3h0m0 3.8h0m0 67.9h0m0 5.8h0m0 1h0m0 5.8h0m0 1.4h0m0 0.8h0m0 6.6h0m0 5.1h0m0 2.3h0m0 13.5h0m0 7.7h0m0 27.6h0M440.1 1701.1h0m0 8h0m0 3.7h0m0 8.7h0m0 11.2h0m0 1.5h0m0 5.8h0m0 0.4h0m0 1.5h0m0 2.4h0m0 3.3h0m0 2.9h0m0 0.4h0m0 78.1h0m0 0.8h0m0 2.1h0m0 8h0m0 1.1h0m0 7.5h0m0 3.1h0m0 7.2h0m0 4.9h0m0 3.3h0m0 4.6h0m0 5.8h0m0 16.6h0M449 1661.1h0m0 23.4h0m0 16.6h0m0 15.7h0m0 7.8h0m0 3.1h0m0 5.1h0m0 3.2h0m0 4.3h0m0 2.5h0m0 0.4h0m0 6.5h0m0 1.6h0m0 5.6h0m0 0.3h0m0 77.2h0m0 1.4h0m0 0.8h0m0 0.9h0m0 1.5h0m0 1.3h0m0 4.1h0m0 6.2h0m0 2.8h0m0 5.7h0m0 17.2h0m0 14.8h0M457.8 1699.1h0m0 15.7h0m0 13.8h0m0 5.6h0m0 3.5h0m0 0.3h0m0 3h0m0 1.3h0m0 1.4h0m0 2.7h0m0 11.1h0m0 1.9h0m0 0.8h0m0 0.8h0m0 8.2h0m0 86.1h0m0 4h0m0 4.6h0m0 3.1h0m0 2.7h0m0 11.1h0m0 7.3h0m0 0.8h0m0 2.5h0m0 1.2h0m0 8.7h0m0 0.9h0m0 40h0M466.7 1691.4h0m0 56.5h0m0 19.1h0m0 5.7h0m0 1.5h0m0 2.1h0m0 1.2h0m0 0.5h0m0 0.9h0m0 0.4h0m0 11.6h0m0 9.3h0m0 3.4h0m0 1h0m0 1.5h0m0 2.5h0m0 87.9h0m0 4.2h0m0 0.5h0m0 1.9h0m0 2.1h0m0 4.4h0m0 3.6h0m0 8.8h0m0 1.9h0m0 5.6h0m0 4.3h0m0 12.5h0m0 1.6h0m0 2.1h0m0 7.2h0M475.6 1693.3h0m0 60.1h0m0 6h0m0 6h0m0 6h0m0 6h0m0 6h0m0 6h0m0 5.9h0m0 6h0m0 6h0m0 6h0m0 6h0m0 6h0m0 6h0m0 6h0m0 6h0m0 6h0m0 6h0m0 6h0m0 6h0m0 6h0m0 6h0m0 6h0m0 6h0m0 5.9h0m0 6h0m0 6h0m0 6h0m0 6h0m0 6h0m0 6h0m0 6h0m0 6h0m0 6h0m0 6h0M484.4 1732.7h0m0 4.1h0m0 13.8h0m0 6.1h0m0 6h0m0 6.1h0m0 6h0m0 6h0m0 6.1h0m0 6h0m0 6.1h0m0 6h0m0 6.1h0m0 6h0m0 6h0m0 6.1h0m0 6h0m0 6.1h0m0 6h0m0 6h0m0 6.1h0m0 6h0m0 6.1h0m0 6h0m0 6.1h0m0 6h0m0 6h0m0 6.1h0m0 6h0m0 6.1h0m0 6h0m0 6.1h0m0 6h0m0 6h0m0 13.9h0M493.3 1761.6h0m0 6.1h0m0 6h0m0 6.1h0m0 6h0m0 6h0m0 6.1h0m0 6h0m0 6.1h0m0 6h0m0 6.1h0m0 6h0m0 6h0m0 6.1h0m0 6h0m0 6.1h0m0 6h0m0 6.1h0m0 6h0m0 6h0m0 6.1h0m0 6h0m0 6.1h0m0 6h0m0 6h0m0 6.1h0m0 6h0m0 6.1h0m0 6h0m0 6.1h0m0 6h0m0 6h0M502.1 1695.5h0m0 11h0m0 22h0m0 9.7h0m0 12.4h0m0 6.4h0m0 6.5h0m0 6.4h0m0 6.4h0m0 6.4h0m0 6.4h0m0 6.4h0m0 6.4h0m0 6.4h0m0 6.4h0m0 6.4h0m0 6.4h0m0 6.5h0m0 6.4h0m0 6.4h0m0 6.4h0m0 6.4h0m0 6.4h0m0 6.4h0m0 8.4h0m0 11.6h0m0 10.8h0m0 10.9h0m0 7h0m0 11.4h0M511 1730.7h0m0 18.5h0m0 23.4h0m0 6.2h0m0 6.2h0m0 6.2h0m0 6.2h0m0 6.2h0m0 6.2h0m0 6.2h0m0 6.2h0m0 6.2h0m0 6.2h0m0 6.2h0m0 6.2h0m0 6.2h0m0 6.2h0m0 6.2h0m0 8.3h0m0 7.7h0m0 8.7h0m0 12h0m0 6.9h0m0 7.3h0m0 10.5h0M519.9 1708.7h0m0 43.2h0m0 23.5h0m0 6.3h0m0 6.3h0m0 6.4h0m0 6.3h0m0 6.3h0m0 6.3h0m0 6.3h0m0 6.4h0m0 6.3h0m0 6.3h0m0 6.3h0m0 6.3h0m0 6.4h0m0 6.3h0m0 6.3h0m0 6.3h0m0 8.4h0m0 6.9h0m0 12.6h0m0 9.1h0m0 6.3h0m0 10h0M528.7 1693.6h0m0 10.2h0m0 39.9h0m0 34.4h0m0 6.4h0m0 6.3h0m0 6.3h0m0 6.3h0m0 6.3h0m0 6.3h0m0 6.4h0m0 6.3h0m0 6.3h0m0 6.3h0m0 6.3h0m0 6.4h0m0 6.3h0m0 6.3h0m0 8.3h0m0 8.4h0m0 8.7h0m0 10.8h0m0 10.5h0m0 24.7h0M537.6 1702.4h0m0 34.4h0m0 6.9h0m0 17h0m0 14.7h0m0 6.2h0m0 6.2h0m0 6.1h0m0 6.2h0m0 6.2h0m0 6.2h0m0 6.2h0m0 6.1h0m0 6.2h0m0 6.2h0m0 6.2h0m0 6.2h0m0 6.1h0m0 6.2h0m0 6.2h0m0 6.2h0m0 8.3h0m0 8.4h0m0 9.4h0m0 9.1h0m0 12h0M546.5 1711.5h0m0 68h0m0 6.1h0m0 6.1h0m0 6.1h0m0 6.1h0m0 6.1h0m0 6.1h0m0 6.1h0m0 6.1h0m0 6.1h0m0 6.1h0m0 6.1h0m0 6.1h0m0 6.1h0m0 6.1h0m0 6.1h0m0 8.3h0m0 7.3h0m0 10.4h0m0 9.6h0m0 7.3h0m0 9.2h0m0 9.4h0M555.3 1744.2h0m0 33.9h0m0 6.3h0m0 6.3h0m0 6.4h0m0 6.3h0m0 6.3h0m0 6.3h0m0 6.3h0m0 6.3h0m0 6.3h0m0 6.3h0m0 6.3h0m0 6.3h0m0 6.3h0m0 6.3h0m0 6.3h0m0 6.3h0m0 8.3h0m0 8.4h0m0 10h0m0 7.6h0m0 27.5h0M564.2 1699.6h0m0 36.4h0m0 20h0m0 5.5h0m0 13.9h0m0 6.1h0m0 6.1h0m0 6.1h0m0 6.2h0m0 6.1h0m0 6.1h0m0 6.1h0m0 6.1h0m0 6.1h0m0 6.2h0m0 6.1h0m0 6.1h0m0 6.1h0m0 6.1h0m0 6.1h0m0 8.4h0m0 8.7h0m0 11.2h0m0 5.3h0m0 9.8h0m0 22h0M573 1716.7h0m0 62.8h0m0 6.2h0m0 6.2h0m0 6.2h0m0 6.2h0m0 6.2h0m0 6.2h0m0 6.2h0m0 6.2h0m0 6.2h0m0 6.2h0m0 6.2h0m0 6.2h0m0 6.2h0m0 6.2h0m0 6.3h0m0 6.2h0m0 6.2h0m0 8.3h0m0 9.5h0m0 5.2h0m0 10.8h0M581.9 1696.3h0m0 45.2h0m0 13.2h0m0 20.7h0m0 6.4h0m0 6.4h0m0 6.4h0m0 6.5h0m0 6.4h0m0 6.4h0m0 6.4h0m0 6.4h0m0 6.5h0m0 6.4h0m0 6.4h0m0 6.4h0m0 6.4h0m0 6.5h0m0 8.3h0m0 6.3h0m0 9.7h0m0 9.9h0m0 24.8h0M590.8 1665.3h0m0 86.6h0m0 26.2h0m0 6.3h0m0 6.2h0m0 6.2h0m0 6.2h0m0 6.2h0m0 6.2h0m0 6.3h0m0 6.2h0m0 6.2h0m0 6.2h0m0 6.2h0m0 6.2h0m0 6.2h0m0 6.3h0m0 8.3h0m0 8.9h0m0 9.5h0m0 9.8h0m0 8.8h0m0 27.5h0M599.6 1728.5h0m0 49.6h0m0 6.3h0m0 6.3h0m0 6.3h0m0 6.2h0m0 6.3h0m0 6.3h0m0 6.3h0m0 6.2h0m0 6.3h0m0 6.3h0m0 6.2h0m0 6.3h0m0 6.3h0m0 6.3h0m0 6.2h0m0 6.3h0m0 8.4h0m0 12.6h0m0 22h0m0 19.3h0M254 1740.3v48.5M262.8 1739.6v51.3M271.7 1740.5v56.2M280.6 1741.4v62.8M289.4 1730.5v66.7M298.3 1733.2v66.7M307.2 1726v66.1M316 1722.2v77.7M324.9 1718.7v76.6M333.7 1710.3v78.2M342.6 1706.4v80.4M351.5 1704.9v87.6M360.3 1706.3v82.1M369.2 1716.3v77.1M378.1 1711.7v72.7M386.9 1715.8v67.2M395.8 1720.3v67.8M404.7 1716.6v68.3M413.5 1743v65M422.4 1742.9v61.2M431.2 1746v67.2M440.1 1754v70.5M449 1758.1v76M457.8 1780.7v69.4M466.7 1810.7v83.7" fill="none" stroke="#bebebe" stroke-width="11.4" stroke-linecap="round"/>
<path d="M165.1 1694.1 168.8 1695.4 172.5 1696.8 176.2 1698.2 179.8 1699.6 183.5 1701.3 187.2 1703 190.9 1705 194.5 1707.2 198.2 1709.7 201.9 1712.5 205.6 1715.6 209.2 1719 212.9 1722.7 216.6 1726.5 220.3 1730.5 223.9 1734.7 227.6 1738.8 231.3 1743 235 1747.1 238.6 1751.1 242.3 1754.8 246 1758.4 249.7 1761.7 253.3 1764.7 257 1767.5 260.7 1769.9 264.4 1772 268 1773.8 271.7 1775.2 275.4 1776.2 279.1 1776.9 282.7 1777.3 286.4 1777.2 290.1 1776.9 293.8 1776.4 297.4 1775.6 301.1 1774.6 304.8 1773.4 308.5 1772.1 312.1 1770.7 315.8 1769.2 319.5 1767.5 323.2 1765.8 326.8 1764.1 330.5 1762.2 334.2 1760.4 337.9 1758.5 341.5 1756.6 345.2 1754.6 348.9 1752.7 352.6 1751 356.2 1749.4 359.9 1748 363.6 1747 367.3 1746.3 370.9 1745.9 374.6 1745.9 378.3 1746.1 382 1746.7 385.6 1747.5 389.3 1748.7 393 1750.1 396.7 1751.9 400.3 1753.9 404 1756.1 407.7 1758.6 411.4 1761.4 415 1764.6 418.7 1768.1 422.4 1772 426.1 1776 429.7 1780.3 433.4 1784.7 437.1 1789.1 440.8 1793.6 444.4 1797.9 448.1 1802.1 451.8 1806.2 455.5 1810.1 459.1 1814 462.8 1817.8 466.5 1821.6 470.2 1825.1 473.8 1828.4 477.5 1831.6 481.2 1834.4 484.9 1837.1 488.5 1839.7 492.2 1842 495.9 1844.1 499.6 1846 503.2 1847.7 506.9 1849.2 510.6 1850.6 514.3 1851.8 517.9 1852.9 521.6 1853.9 525.3 1854.7 529 1855.3 532.6 1855.7 536.3 1856 540 1856.1 543.7 1856 547.3 1855.8 551 1855.5 554.7 1854.9 558.4 1854.2 562 1853.3 565.7 1852.2 569.4 1850.9 573.1 1849.6 576.7 1848.1 580.4 1846.5 584.1 1844.9 587.8 1843.2 591.4 1841.5 595.1 1839.8 598.8 1838 602.5 1836.3" fill="none" stroke="#000" stroke-width="5.0" stroke-linejoin="round" stroke-linecap="butt"/>
<path d="M166.5 1946.8h0.5v10.7h-0.5zM169 1946.8h0.5v10.7h-0.5zM173 1946.8h1.5v10.7h-1.5zM175.5 1946.8h1.5v10.7h-1.5zM180.5 1946.8h5v10.7h-5zM195 1946.8h1.5v10.7h-1.5zM202.5 1946.8h2v10.7h-2z" fill="#000" fill-opacity="0.10"/>
<path d="M167 1946.8h2v10.7h-2zM174.5 1946.8h1v10.7h-1zM196.5 1946.8h1v10.7h-1zM199.5 1946.8h3v10.7h-3zM205 1946.8h1v10.7h-1zM207.5 1946.8h0.5v10.7h-0.5z" fill="#000" fill-opacity="0.20"/>
<path d="M197.5 1946.8h2v10.7h-2zM206 1946.8h1.5v10.7h-1.5zM208 1946.8h0.5v10.7h-0.5zM209 1946.8h1v10.7h-1zM211 1946.8h1v10.7h-1zM222 1946.8h1.5v10.7h-1.5z" fill="#000" fill-opacity="0.30"/>
<path d="M208.5 1946.8h0.5v10.7h-0.5zM210 1946.8h1v10.7h-1zM212 1946.8h4v10.7h-4zM217 1946.8h0.5v10.7h-0.5zM218 1946.8h1v10.7h-1zM221.5 1946.8h0.5v10.7h-0.5z" fill="#000" fill-opacity="0.40"/>
<path d="M216 1946.8h1v10.7h-1zM217.5 1946.8h0.5v10.7h-0.5zM223.5 1946.8h0.5v10.7h-0.5zM228.5 1946.8h1v10.7h-1z" fill="#000" fill-opacity="0.50"/>
<path d="M219 1946.8h2.5v10.7h-2.5zM224 1946.8h0.5v10.7h-0.5zM228 1946.8h0.5v10.7h-0.5zM229.5 1946.8h2v10.7h-2zM232 1946.8h1.5v10.7h-1.5zM239 1946.8h0.5v10.7h-0.5zM585.5 1946.8h1v10.7h-1zM596 1946.8h1v10.7h-1z" fill="#000" fill-opacity="0.60"/>
<path d="M224.5 1946.8h1v10.7h-1zM226.5 1946.8h1.5v10.7h-1.5zM231.5 1946.8h0.5v10.7h-0.5zM233.5 1946.8h1.5v10.7h-1.5zM237.5 1946.8h1.5v10.7h-1.5zM239.5 1946.8h0.5v10.7h-0.5zM552.5 1946.8h1.5v10.7h-1.5zM572 1946.8h2v10.7h-2zM585 1946.8h0.5v10.7h-0.5zM586.5 1946.8h1v10.7h-1zM589 1946.8h1v10.7h-1zM591 1946.8h2.5v10.7h-2.5zM594.5 1946.8h1.5v10.7h-1.5zM597 1946.8h0.5v10.7h-0.5zM600.5 1946.8h1.5v10.7h-1.5z" fill="#000" fill-opacity="0.70"/>
<path d="M225.5 1946.8h1v10.7h-1zM235 1946.8h0.5v10.7h-0.5zM236 1946.8h1.5v10.7h-1.5zM240 1946.8h1v10.7h-1zM242.5 1946.8h0.5v10.7h-0.5zM243.5 1946.8h2.5v10.7h-2.5zM247 1946.8h2.5v10.7h-2.5zM251.5 1946.8h1.5v10.7h-1.5zM544.5 1946.8h1.5v10.7h-1.5zM550 1946.8h0.5v10.7h-0.5zM551 1946.8h1.5v10.7h-1.5zM554 1946.8h1v10.7h-1zM563 1946.8h2.5v10.7h-2.5zM567.5 1946.8h0.5v10.7h-0.5zM570.5 1946.8h1.5v10.7h-1.5zM574 1946.8h1v10.7h-1zM579.5 1946.8h5.5v10.7h-5.5zM587.5 1946.8h1.5v10.7h-1.5zM590 1946.8h1v10.7h-1zM593.5 1946.8h1v10.7h-1zM597.5 1946.8h3v10.7h-3z" fill="#000" fill-opacity="0.80"/>
<path d="M235.5 1946.8h0.5v10.7h-0.5zM241 1946.8h1.5v10.7h-1.5zM243 1946.8h0.5v10.7h-0.5zM246 1946.8h1v10.7h-1zM249.5 1946.8h2v10.7h-2zM253 1946.8h5v10.7h-5zM258.5 1946.8h0.5v10.7h-0.5zM502.5 1946.8h1.5v10.7h-1.5zM507 1946.8h2.5v10.7h-2.5zM512 1946.8h3.5v10.7h-3.5zM517 1946.8h27.5v10.7h-27.5zM546 1946.8h1v10.7h-1zM548.5 1946.8h1.5v10.7h-1.5zM550.5 1946.8h0.5v10.7h-0.5zM555 1946.8h8v10.7h-8zM565.5 1946.8h2v10.7h-2zM568 1946.8h2.5v10.7h-2.5zM575 1946.8h4.5v10.7h-4.5z" fill="#000" fill-opacity="0.90"/>
<path d="M258 1946.8h0.5v10.7h-0.5zM259 1946.8h243.5v10.7h-243.5zM504 1946.8h3v10.7h-3zM509.5 1946.8h2.5v10.7h-2.5zM515.5 1946.8h1.5v10.7h-1.5zM547 1946.8h1.5v10.7h-1.5z" fill="#000" fill-opacity="1.00"/>
<rect x="138.00" y="1587.30" width="463.0" height="184.45" fill="#4f8b00" fill-opacity="0.1"/>
<rect x="138.00" y="1771.75" width="463.0" height="185.75" fill="#ff0000" fill-opacity="0.1"/>
</g>
<path d="M128.90 1586.90h9.6M128.90 1679.33h9.6M128.90 1771.75h9.6M128.90 1864.18h9.6M128.90 1956.60h9.6M191.94 1957.00v9.3M280.57 1957.00v9.3M369.20 1957.00v9.3M457.83 1957.00v9.3M546.46 1957.00v9.3" stroke="#222" stroke-width="1.7" fill="none"/>
<text transform="translate(83.75 1594.30) scale(1.0528 1)" font-size="24">0.2</text>
<text transform="translate(88.60 1686.73) scale(0.9024 1)" font-size="24">0.1</text>
<text transform="translate(104.00 1779.15) scale(1.0957 1)" font-size="24">0</text>
<text transform="translate(76.18 1871.58) scale(0.8978 1)" font-size="24">−0.1</text>
<text transform="translate(71.66 1964.00) scale(0.9956 1)" font-size="24">−0.2</text>
<text transform="translate(172.18 1994.80) scale(0.9688 1)" font-size="24">−20</text>
<text transform="translate(262.35 1994.80) scale(0.8935 1)" font-size="24">−10</text>
<text transform="translate(361.90 1994.80) scale(1.0957 1)" font-size="24">0</text>
<text transform="translate(444.58 1994.80) scale(0.9708 1)" font-size="24">10</text>
<text transform="translate(532.07 1994.80) scale(1.0735 1)" font-size="24">20</text>
<text transform="translate(138.98 1565.80) scale(0.9862 1)" font-size="28">Punjab and Haryana</text>
<text transform="translate(199.82 2036.30) scale(1.0343 1)" font-size="28">Transplanting date relative</text>
<text transform="translate(229.48 2068.20) scale(1.0331 1)" font-size="28">to regional median (d)</text>
<text transform="translate(22.50 1881.06) rotate(-90) scale(1.0049 1)" font-size="28">Influence on NUE</text>
<text transform="translate(55.60 1867.65) rotate(-90) scale(0.9984 1)" font-size="28">(Shapley value)</text>
</g>
<g id="pb5">
<g clip-path="url(#cb5)">
<rect x="716.00" y="1587.30" width="462.0" height="370.20" fill="#ebebeb"/>
<path d="M724.58 1587.3v370.2M813.70 1587.3v370.2M902.37 1587.3v370.2M991.04 1587.3v370.2M1079.71 1587.3v370.2M1168.82 1587.3v370.2M716 1633.11h462.0M716 1725.54h462.0M716 1817.96h462.0M716 1910.39h462.0" stroke="#ffffff" stroke-width="1.45" fill="none"/>
<path d="M769.36 1587.3v370.2M858.03 1587.3v370.2M946.70 1587.3v370.2M1035.37 1587.3v370.2M1124.04 1587.3v370.2M716 1586.90h462.0M716 1679.33h462.0M716 1771.75h462.0M716 1864.18h462.0M716 1956.60h462.0" stroke="#ffffff" stroke-width="2.9" fill="none"/>
<path d="M716.2 1689.1h0m0 1.4h0m0 3.7h0m0 4.3h0m0 4.4h0m0 7h0m0 0.7h0m0 5.2h0m0 45.6h0m0 5.9h0m0 6.4h0m0 0.5h0m0 4.3h0m0 4.9h0m0 3h0m0 1.5h0m0 22.1h0m0 23.4h0M725 1683.6h0m0 14.1h0m0 1.6h0m0 1.7h0m0 1h0m0 3.9h0m0 1.8h0m0 42.4h0m0 1h0m0 4.7h0m0 2.7h0m0 8.3h0m0 4.6h0m0 62h0M733.9 1666.2h0m0 36.7h0m0 8.6h0m0 2.8h0m0 3.7h0m0 1.1h0m0 4.1h0m0 31.1h0m0 2.9h0m0 4.5h0m0 3.9h0m0 8.6h0m0 9.7h0M742.8 1713.9h0m0 5.2h0m0 4.5h0m0 5.8h0m0 0.6h0m0 27.1h0m0 3.3h0m0 2h0m0 11.6h0m0 38.8h0M751.6 1598.3h0m0 72.8h0m0 16.6h0m0 8.7h0m0 0.3h0m0 2.8h0m0 2.3h0m0 3.3h0m0 4.6h0m0 58.4h0m0 0.4h0m0 1.6h0m0 2.7h0m0 0.4h0m0 1h0m0 2.2h0m0 4.6h0m0 20.7h0m0 26.2h0M760.5 1648.3h0m0 22.8h0m0 11.1h0m0 5.5h0m0 1.2h0m0 5.4h0m0 3.7h0m0 1.5h0m0 0.9h0m0 6h0m0 56h0m0 17.6h0m0 1.1h0m0 2.6h0m0 1.3h0m0 0.8h0m0 1.3h0m0 2h0m0 4.3h0M769.4 1691.9h0m0 9.5h0m0 12.4h0m0 0.8h0m0 2.4h0m0 0.9h0m0 2.1h0m0 2.1h0m0 45.4h0m0 5.4h0m0 5.1h0m0 5.1h0m0 10.7h0m0 0.9h0m0 2.4h0m0 1.8h0M778.2 1675.3h0m0 11.1h0m0 2.3h0m0 4.3h0m0 3.3h0m0 9.5h0m0 3.9h0m0 3.4h0m0 5h0m0 2.9h0m0 49.1h0m0 0.5h0m0 7.2h0m0 0.3h0m0 0.6h0m0 0.9h0m0 9.7h0m0 15.1h0m0 44.2h0M787.1 1673.3h0m0 13.1h0m0 3.1h0m0 0.6h0m0 6.6h0m0 7.2h0m0 11.1h0m0 0.8h0m0 2.9h0m0 2h0m0 0.5h0m0 53.9h0m0 1.2h0m0 0.3h0m0 3.8h0m0 8.6h0m0 3.2h0m0 4.2h0m0 12.6h0m0 1.5h0m0 2.2h0m0 13.8h0M796 1691.9h0m0 4.9h0m0 12.9h0m0 0.9h0m0 7.4h0m0 0.5h0m0 0.3h0m0 1.8h0m0 4h0m0 47.6h0m0 12.7h0m0 4.8h0m0 1.6h0m0 7.1h0m0 1.4h0m0 4h0m0 0.6h0m0 21.6h0M804.8 1694.6h0m0 1.4h0m0 13.9h0m0 6.8h0m0 0.5h0m0 1.3h0m0 3.3h0m0 5.4h0m0 2.5h0m0 48h0m0 1.4h0m0 0.6h0m0 0.6h0m0 3.6h0m0 8.2h0m0 5.8h0m0 1.8h0m0 13h0M813.7 1675.3h0m0 22.1h0m0 1.7h0m0 16.6h0m0 5.2h0m0 3.2h0m0 1.2h0m0 0.5h0m0 0.4h0m0 47.9h0m0 1.2h0m0 1h0m0 3.9h0m0 20.6h0m0 2.3h0m0 0.8h0m0 0.5h0m0 29h0M822.6 1696h0m0 7.2h0m0 4.1h0m0 4.7h0m0 8.4h0m0 0.9h0m0 5.3h0m0 0.6h0m0 1.5h0m0 51.1h0m0 6.5h0m0 3.4h0m0 4.8h0m0 1.3h0m0 2.5h0m0 0.3h0m0 4.7h0m0 9.4h0M831.4 1700.1h0m0 7.7h0m0 4.5h0m0 0.8h0m0 0.6h0m0 1.1h0m0 2.8h0m0 1.2h0m0 56.7h0m0 3.9h0m0 4.7h0m0 1h0m0 0.7h0m0 6.2h0m0 3.8h0m0 8.6h0m0 51.9h0M840.3 1690.4h0m0 12.5h0m0 1.4h0m0 12.3h0m0 5.6h0m0 3.1h0m0 3.2h0m0 1.3h0m0 2.8h0m0 49.3h0m0 1.3h0m0 5.9h0m0 10.1h0m0 5.4h0m0 5.3h0m0 0.8h0m0 0.6h0m0 4.1h0M849.2 1704.2h0m0 1.4h0m0 16.9h0m0 1.7h0m0 1.4h0m0 5.4h0m0 1.6h0m0 0.5h0m0 47.3h0m0 4.8h0m0 1.1h0m0 2.7h0m0 11.5h0m0 0.7h0m0 1.4h0m0 10.1h0M858 1705.6h0m0 14.5h0m0 4.4h0m0 1.1h0m0 2.3h0m0 2.3h0m0 0.9h0m0 2.1h0m0 44.5h0m0 8.3h0m0 5.6h0m0 3h0m0 1.3h0m0 11.3h0m0 26.2h0M866.9 1696h0m0 7.5h0m0 3.9h0m0 7.6h0m0 5.1h0m0 0.6h0m0 6.1h0m0 2.3h0m0 44.9h0m0 0.4h0m0 0.3h0m0 4.1h0m0 0.6h0m0 7.1h0m0 5.2h0m0 8.6h0m0 6.9h0M875.8 1697.4h0m0 5.8h0m0 0.8h0m0 0.5h0m0 12.7h0m0 2.2h0m0 8.8h0m0 1h0m0 51.8h0m0 4.3h0m0 1.3h0m0 2.5h0m0 0.6h0m0 8.7h0m0 2.2h0m0 6.6h0M884.6 1702.9h0m0 6.8h0m0 7.9h0m0 4.3h0m0 3h0m0 0.8h0m0 2.1h0m0 5.8h0m0 45.4h0m0 0.6h0m0 6h0m0 0.4h0m0 0.4h0m0 4.4h0m0 1h0m0 15.4h0M893.5 1708.4h0m0 4.3h0m0 5.1h0m0 1.5h0m0 4h0m0 5.3h0m0 48.3h0m0 7.1h0m0 2.5h0m0 2.2h0m0 9.1h0m0 0.7h0m0 5.9h0m0 17.5h0M902.4 1722.1h0m0 8.5h0m0 9.5h0m0 4.2h0m0 2.5h0m0 1.1h0m0 40.3h0m0 7.4h0m0 4.3h0m0 1.7h0m0 1.8h0m0 9.3h0M911.2 1733.1h0m0 13.3h0m0 1.9h0m0 3.5h0m0 1.1h0m0 0.8h0m0 3.2h0m0 40.5h0m0 2.1h0m0 6.9h0m0 4.3h0m0 0.3h0m0 2.7h0m0 10h0M920.1 1708.8h0m0 27.1h0m0 7.1h0m0 7.3h0m0 3.9h0m0 3.2h0m0 0.8h0m0 45.6h0m0 2h0m0 5.9h0m0 0.7h0m0 2.3h0m0 5.7h0m0 11.6h0M929 1741.4h0m0 3.5h0m0 3.4h0m0 2.9h0m0 13.1h0m0 4.1h0m0 3.1h0m0 41.3h0m0 8.4h0m0 4h0m0 1.1h0m0 6h0m0 1.2h0m0 9.5h0M937.8 1744.1h0m0 4.6h0m0 5.4h0m0 4.7h0m0 2.6h0m0 0.6h0m0 8.5h0m0 44.4h0m0 6.6h0m0 1.1h0m0 4.4h0m0 1.6h0m0 5.1h0m0 9.3h0M946.7 1741.4h0m0 8.9h0m0 5.5h0m0 1.1h0m0 6.2h0m0 2.9h0m0 1.2h0m0 41.6h0m0 0.8h0m0 2.9h0m0 1.8h0m0 6.6h0m0 8.5h0m0 2.6h0M955.6 1749.6h0m0 9.6h0m0 6.1h0m0 3.4h0m0 0.7h0m0 5.6h0m0 42.6h0m0 0.9h0m0 6.4h0m0 8.1h0m0 4.5h0m0 4.3h0m0 1.2h0M964.4 1718.7h0m0 14.4h0m0 0.6h0m0 0.5h0m0 4.1h0m0 10.2h0m0 0.3h0m0 1.1h0m0 11.8h0m0 41.6h0m0 2h0m0 5.4h0m0 0.3h0m0 0.3h0m0 6h0m0 13.8h0m0 0.9h0M973.3 1730.4h0m0 13.1h0m0 8.8h0m0 0.5h0m0 1.6h0m0 3.9h0m0 0.8h0m0 40h0m0 1.6h0m0 3.7h0m0 12h0m0 0.5h0m0 4.8h0m0 4.8h0M982.2 1733.1h0m0 5.9h0m0 10.7h0m0 9.8h0m0 1.3h0m0 2.3h0m0 0.5h0m0 47.5h0m0 0.7h0m0 10.7h0m0 0.5h0m0 1.3h0m0 6h0m0 12.7h0M991 1749.6h0m0 8.4h0m0 6.9h0m0 0.5h0m0 3.2h0m0 4.5h0m0 4.9h0m0 46.4h0m0 5.2h0m0 0.4h0m0 2.2h0m0 5.8h0m0 4.3h0m0 3.4h0M999.9 1738.6h0m0 4.4h0m0 3.8h0m0 6.2h0m0 10.2h0m0 0.8h0m0 1.2h0m0 38.1h0m0 13h0m0 2.3h0m0 5.7h0m0 1.5h0m0 3.4h0M1008.8 1744.1h0m0 4.7h0m0 3.7h0m0 1.7h0m0 10h0m0 3.8h0m0 1.6h0m0 35.4h0m0 5.2h0m0 1h0m0 10.4h0m0 0.9h0m0 0.8h0m0 7.3h0M1017.6 1735.9h0m0 1.7h0m0 18.7h0m0 1.7h0m0 0.9h0m0 2.7h0m0 45.6h0m0 1.7h0m0 2.3h0m0 1.6h0m0 0.7h0m0 1.6h0m0 8.6h0M1026.5 1734.5h0m0 4.1h0m0 7.4h0m0 3.4h0m0 6.7h0m0 0.4h0m0 1.9h0m0 41.7h0m0 1.8h0m0 1.1h0m0 0.5h0m0 5.9h0m0 8.4h0m0 3.1h0M1035.4 1717.9h0m0 15.2h0m0 8.6h0m0 5.4h0m0 2.3h0m0 2.7h0m0 2.5h0m0 3.3h0m0 37.6h0m0 5.5h0m0 8.8h0m0 1.9h0m0 6.6h0m0 0.3h0m0 2.3h0M1044.2 1738.6h0m0 1.3h0m0 1.1h0m0 12.1h0m0 6h0m0 2.7h0m0 34.4h0m0 4h0m0 0.5h0m0 3.7h0m0 9.7h0m0 4.1h0m0 34.5h0M1053.1 1704.1h0m0 15.3h0m0 7.8h0m0 0.6h0m0 4h0m0 5.2h0m0 2.4h0m0 4h0m0 46h0m0 1.4h0m0 0.8h0m0 1.3h0m0 13.4h0m0 3.3h0m0 4.1h0m0 4.5h0M1062 1711.1h0m0 9.7h0m0 2.6h0m0 2.4h0m0 3.1h0m0 8.2h0m0 3.9h0m0 47h0m0 1.1h0m0 0.6h0m0 8.7h0m0 1.1h0m0 1.4h0m0 8.6h0m0 3.2h0M1070.8 1716.6h0m0 11.6h0m0 8.6h0m0 0.9h0m0 1.7h0m0 3.1h0m0 2.6h0m0 45.5h0m0 2.4h0m0 0.7h0m0 1.1h0m0 0.5h0m0 8.1h0m0 2.8h0m0 14.7h0M1079.7 1719.4h0m0 9.5h0m0 1.4h0m0 3.1h0m0 4.8h0m0 7.3h0m0 3.4h0m0 47.6h0m0 1.2h0m0 0.4h0m0 3.1h0m0 7.4h0m0 0.4h0m0 12.4h0m0 5.1h0M1088.6 1722.1h0m0 8.6h0m0 6.9h0m0 4.6h0m0 1.8h0m0 5.6h0m0 1.7h0m0 0.3h0m0 3.2h0m0 46.2h0m0 5h0m0 0.7h0m0 3.8h0m0 3.5h0m0 1.7h0m0 10.7h0m0 5.6h0m0 2.7h0m0 16.6h0M1097.4 1730.4h0m0 0.6h0m0 10.6h0m0 5.4h0m0 4h0m0 0.9h0m0 1.7h0m0 1.2h0m0 54h0m0 5.6h0m0 1.5h0m0 3.9h0m0 2.5h0m0 8.2h0m0 1.5h0m0 33.1h0M1106.3 1727.6h0m0 4.1h0m0 5.1h0m0 9.1h0m0 4h0m0 1.2h0m0 3.2h0m0 2.8h0m0 46.5h0m0 5.7h0m0 1.5h0m0 1.2h0m0 1.6h0m0 15.8h0m0 2.6h0M1115.2 1708.4h0m0 9.5h0m0 4.5h0m0 1.3h0m0 3.6h0m0 4.3h0m0 3.1h0m0 45.2h0m0 3.3h0m0 1.7h0m0 2.7h0m0 3.2h0m0 1.6h0m0 1.9h0m0 15.6h0M1124 1711.1h0m0 11.6h0m0 0.9h0m0 9h0m0 4.2h0m0 1.8h0m0 2.8h0m0 41.3h0m0 10h0m0 1.9h0m0 0.9h0m0 3.7h0m0 10.2h0m0 3.3h0m0 27.6h0M1132.9 1716.6h0m0 13h0m0 1h0m0 4h0m0 1.9h0m0 0.3h0m0 6.6h0m0 5.1h0m0 0.9h0m0 63.5h0m0 4.6h0m0 1h0m0 0.7h0m0 1.3h0m0 2.9h0m0 9.3h0m0 2.7h0m0 6.9h0m0 6.2h0M1141.8 1733.1h0m0 16.5h0m0 2.2h0m0 1.5h0m0 1.4h0m0 2.3h0m0 6.3h0m0 1.8h0m0 4.5h0m0 52.4h0m0 16.9h0m0 0.9h0m0 6.6h0m0 0.8h0m0 3.6h0m0 4.6h0m0 3.3h0m0 0.8h0M1150.6 1724.9h0m0 9.2h0m0 11.3h0m0 2.1h0m0 0.7h0m0 2h0m0 2.7h0m0 42.6h0m0 1.4h0m0 14.6h0m0 5h0m0 3.7h0m0 2.3h0m0 1.2h0m0 38.6h0M1159.5 1733.1h0m0 2.3h0m0 6.4h0m0 3.6h0m0 1.1h0m0 9.5h0m0 1.3h0m0 37.6h0m0 1.5h0m0 2.8h0m0 2.6h0m0 16.4h0M1168.4 1741.4h0m0 8.3h0m0 1.1h0m0 4.8h0m0 1.3h0m0 28.8h0m0 5.4h0m0 2.4h0m0 4h0m0 6.9h0M1177.2 1694h0m0 50.1h0m0 5.2h0m0 3.1h0m0 8.5h0m0 0.3h0m0 23.9h0m0 4h0m0 9.1h0m0 3.4h0M716.2 1718.8v39.5M725 1710v35.1M733.9 1724.3v28.5M742.8 1732v24.1M751.6 1721.9v45.6M760.5 1715.6v44.5M769.4 1724v42.8M778.2 1721.8v47.2M787.1 1724.3v50.5M796 1725.6v45M804.8 1730v47.2M813.7 1729.5v42.8M822.6 1731v46.7M831.4 1731.4v41.7M840.3 1736.6v45M849.2 1736.8v43.4M858 1736.1v40.6M866.9 1729.4v44.5M875.8 1730.3v43.9M884.6 1734.2v41.7M893.5 1737.2v38.4M902.4 1749.3v36.2M911.2 1760.3v36.2M920.1 1764.7v38.4M929 1771.9v40.6M937.8 1773.8v39.5M946.7 1768.6v36.2M955.6 1777.6v37.3M964.4 1762.8v39.5M973.3 1759.2v38.4M982.2 1766.1v43.9M991 1778.5v38.4M999.9 1765.8v36.2M1008.8 1770.1v34.6M1017.6 1762.2v35.1M1026.5 1760.4v34.6M1035.4 1759.5v35.1M1044.2 1762.5v31.8M1053.1 1749v39.5M1062 1741.6v40.6M1070.8 1747.9v41.7M1079.7 1751.5v42.8M1088.6 1755.9v45M1097.4 1760.8v40.6M1106.3 1758.9v41.7M1115.2 1738.8v40.6M1124 1741.6v40.6M1132.9 1756.2v52.7M1141.8 1771v50.5M1150.6 1754.5v39.5M1159.5 1758.6v34M1168.4 1760.3v25.2M1177.2 1761.4v23" fill="none" stroke="#bebebe" stroke-width="11.4" stroke-linecap="round"/>
<path d="M714.3 1740.5 718.2 1740.4 722.1 1740.3 726 1740.2 729.9 1740.2 733.8 1740.3 737.8 1740.4 741.7 1740.6 745.6 1741 749.5 1741.4 753.4 1742.1 757.3 1743 761.3 1744.1 765.2 1745.5 769.1 1747.1 773 1748.8 776.9 1750.6 780.9 1752.5 784.8 1754.3 788.7 1756 792.6 1757.7 796.5 1759.4 800.4 1760.9 804.4 1762.2 808.3 1763.3 812.2 1764.1 816.1 1764.6 820 1764.8 824 1764.7 827.9 1764.3 831.8 1763.7 835.7 1762.9 839.6 1762 843.5 1761.1 847.5 1760.1 851.4 1759.2 855.3 1758.5 859.2 1757.9 863.1 1757.5 867 1757.5 871 1757.8 874.9 1758.5 878.8 1759.5 882.7 1760.8 886.6 1762.4 890.6 1764 894.5 1765.7 898.4 1767.5 902.3 1769.4 906.2 1771.2 910.1 1773 914.1 1774.6 918 1776.2 921.9 1777.5 925.8 1778.5 929.7 1779.4 933.7 1780 937.6 1780.4 941.5 1780.6 945.4 1780.7 949.3 1780.7 953.2 1780.6 957.2 1780.5 961.1 1780.4 965 1780.3 968.9 1780.2 972.8 1780.1 976.7 1779.9 980.7 1779.8 984.6 1779.7 988.5 1779.6 992.4 1779.4 996.3 1779.3 1000.3 1779.1 1004.2 1778.9 1008.1 1778.7 1012 1778.5 1015.9 1778.2 1019.8 1777.7 1023.8 1777.2 1027.7 1776.5 1031.6 1775.6 1035.5 1774.7 1039.4 1773.6 1043.3 1772.5 1047.3 1771.5 1051.2 1770.6 1055.1 1769.7 1059 1769 1062.9 1768.3 1066.9 1767.7 1070.8 1767.3 1074.7 1766.9 1078.6 1766.9 1082.5 1767 1086.4 1767.4 1090.4 1767.9 1094.3 1768.4 1098.2 1769 1102.1 1769.5 1106 1770.1 1110 1770.7 1113.9 1771.2 1117.8 1771.7 1121.7 1772.2 1125.6 1772.6 1129.5 1772.9 1133.5 1773.2 1137.4 1773.3 1141.3 1773.4 1145.2 1773.5 1149.1 1773.4 1153 1773.3 1157 1773.2 1160.9 1773 1164.8 1772.8 1168.7 1772.5 1172.6 1772.2 1176.6 1771.9 1180.5 1771.5" fill="none" stroke="#000" stroke-width="5.0" stroke-linejoin="round" stroke-linecap="butt"/>
<path d="M716 1946.8h1.5v10.7h-1.5zM718 1946.8h3v10.7h-3zM1173 1946.8h0.5v10.7h-0.5zM1174 1946.8h0.5v10.7h-0.5z" fill="#000" fill-opacity="0.70"/>
<path d="M717.5 1946.8h0.5v10.7h-0.5zM721 1946.8h0.5v10.7h-0.5zM725 1946.8h0.5v10.7h-0.5zM726.5 1946.8h1v10.7h-1zM728 1946.8h1.5v10.7h-1.5zM1172.5 1946.8h0.5v10.7h-0.5zM1173.5 1946.8h0.5v10.7h-0.5zM1174.5 1946.8h1v10.7h-1z" fill="#000" fill-opacity="0.80"/>
<path d="M721.5 1946.8h3.5v10.7h-3.5zM725.5 1946.8h1v10.7h-1zM727.5 1946.8h0.5v10.7h-0.5zM729.5 1946.8h2v10.7h-2zM732.5 1946.8h5.5v10.7h-5.5zM738.5 1946.8h0.5v10.7h-0.5zM740.5 1946.8h4v10.7h-4zM745.5 1946.8h0.5v10.7h-0.5zM1145 1946.8h2.5v10.7h-2.5zM1157 1946.8h4v10.7h-4zM1162.5 1946.8h10v10.7h-10zM1175.5 1946.8h3v10.7h-3z" fill="#000" fill-opacity="0.90"/>
<path d="M731.5 1946.8h1v10.7h-1zM738 1946.8h0.5v10.7h-0.5zM739 1946.8h1.5v10.7h-1.5zM744.5 1946.8h1v10.7h-1zM746 1946.8h399v10.7h-399zM1147.5 1946.8h9.5v10.7h-9.5zM1161 1946.8h1.5v10.7h-1.5zM1178.5 1946.8h0.5v10.7h-0.5z" fill="#000" fill-opacity="1.00"/>
<rect x="716.00" y="1587.30" width="462.0" height="184.45" fill="#4f8b00" fill-opacity="0.1"/>
<rect x="716.00" y="1771.75" width="462.0" height="185.75" fill="#ff0000" fill-opacity="0.1"/>
</g>
<path d="M706.90 1586.90h9.6M706.90 1679.33h9.6M706.90 1771.75h9.6M706.90 1864.18h9.6M706.90 1956.60h9.6M769.36 1957.00v9.3M858.03 1957.00v9.3M946.70 1957.00v9.3M1035.37 1957.00v9.3M1124.04 1957.00v9.3" stroke="#222" stroke-width="1.7" fill="none"/>
<text transform="translate(661.75 1594.30) scale(1.0528 1)" font-size="24">0.2</text>
<text transform="translate(666.60 1686.73) scale(0.9024 1)" font-size="24">0.1</text>
<text transform="translate(682.00 1779.15) scale(1.0957 1)" font-size="24">0</text>
<text transform="translate(654.18 1871.58) scale(0.8978 1)" font-size="24">−0.1</text>
<text transform="translate(649.66 1964.00) scale(0.9956 1)" font-size="24">−0.2</text>
<text transform="translate(749.60 1994.80) scale(0.9688 1)" font-size="24">−20</text>
<text transform="translate(839.81 1994.80) scale(0.8935 1)" font-size="24">−10</text>
<text transform="translate(939.40 1994.80) scale(1.0957 1)" font-size="24">0</text>
<text transform="translate(1022.12 1994.80) scale(0.9708 1)" font-size="24">10</text>
<text transform="translate(1109.65 1994.80) scale(1.0735 1)" font-size="24">20</text>
<text transform="translate(715.75 1565.80) scale(1.0291 1)" font-size="28">Bangladesh's floodplains</text>
<text transform="translate(777.62 2036.60) scale(1.0343 1)" font-size="28">Transplanting date relative</text>
<text transform="translate(807.28 2068.20) scale(1.0331 1)" font-size="28">to regional median (d)</text>
</g>
<g id="pb6">
<g clip-path="url(#cb6)">
<rect x="1294.00" y="1587.30" width="460.85" height="370.20" fill="#ebebeb"/>
<path d="M1302.86 1587.3v370.2M1391.78 1587.3v370.2M1480.26 1587.3v370.2M1568.74 1587.3v370.2M1657.22 1587.3v370.2M1746.14 1587.3v370.2M1294 1633.11h460.85M1294 1725.54h460.85M1294 1817.96h460.85M1294 1910.39h460.85" stroke="#ffffff" stroke-width="1.45" fill="none"/>
<path d="M1347.54 1587.3v370.2M1436.02 1587.3v370.2M1524.50 1587.3v370.2M1612.98 1587.3v370.2M1701.46 1587.3v370.2M1294 1586.90h460.85M1294 1679.33h460.85M1294 1771.75h460.85M1294 1864.18h460.85M1294 1956.60h460.85" stroke="#ffffff" stroke-width="2.9" fill="none"/>
<path d="M1294.5 1748.6h0m0 30.9h0M1303.3 1727.1h0m0 6.7h0m0 25.5h0m0 13.5h0M1312.1 1752.6h0M1321 1724.9h0m0 12.4h0m0 36.8h0M1329.8 1748.6h0m0 26.9h0M1338.7 1762h0m0 42.5h0M1347.5 1743.2h0m0 16.1h0m0 14.8h0m0 12.1h0m0 10.8h0M1356.4 1744.8h0m0 0.3h0m0 4.2h0m0 5.1h0m0 33.3h0m0 0.5h0m0 5.2h0m0 3.3h0M1365.2 1734.6h0m0 24.7h0m0 10.8h0m0 5.9h0m0 7.5h0M1374.1 1744.8h0m0 7h0m0 6h0m0 1.1h0m0 29.7h0m0 13.5h0M1382.9 1751.5h0m0 3.5h0m0 4.2h0m0 1.7h0m0 25h0m0 8.3h0m0 2.5h0M1391.8 1735.1h0m0 11h0m0 5.1h0m0 6.4h0m0 0.5h0m0 26.3h0m0 3.2h0m0 2.5h0m0 4h0M1400.6 1754.2h0m0 7.1h0m0 1.5h0m0 1.2h0m0 30.6h0m0 3.3h0m0 4h0m0 11.7h0M1409.5 1754.2h0m0 4.4h0m0 2.2h0m0 5.3h0m0 30.5h0m0 6.3h0m0 2.5h0m0 2.1h0M1418.3 1752.8h0m0 2h0m0 2.6h0m0 1.4h0m0 29.2h0m0 0.3h0m0 7.9h0m0 3.2h0m0 23.9h0M1427.2 1737.8h0m0 10.5h0m0 6.6h0m0 6.1h0m0 2.2h0m0 31.9h0m0 9.4h0m0 2.9h0m0 2.8h0m0 13.1h0M1436 1752.8h0m0 5.8h0m0 1h0m0 2.5h0m0 7.1h0m0 34.3h0m0 4.8h0m0 1.1h0m0 1.9h0m0 6.9h0m0 25.8h0M1444.9 1754.2h0m0 2.7h0m0 4.4h0m0 0.4h0m0 35.1h0m0 8.4h0m0 5h0m0 18.2h0M1453.7 1748.8h0m0 4.2h0m0 3.5h0m0 5.7h0m0 33.1h0m0 0.5h0m0 2.7h0m0 11.7h0M1462.6 1747.5h0m0 9.8h0m0 2.9h0m0 2h0m0 0.6h0m0 31.9h0m0 1.5h0m0 0.9h0m0 12h0m0 1.1h0M1471.4 1754.2h0m0 4.2h0m0 4.8h0m0 0.7h0m0 26.5h0m0 0.5h0m0 8.5h0M1480.3 1746.1h0m0 8h0m0 4.2h0m0 0.8h0m0 35.9h0m0 1.1h0m0 0.5h0m0 5.5h0M1489.1 1750.2h0m0 10.9h0m0 2.7h0m0 42.2h0m0 0.6h0m0 0.5h0m0 1.7h0M1498 1750.2h0m0 6.6h0m0 3.6h0m0 31.3h0m0 1.6h0m0 7.4h0m0 4.1h0M1506.8 1750.2h0m0 1.4h0m0 8.2h0m0 1.9h0m0 33.8h0m0 1.7h0m0 6.8h0m0 0.8h0M1515.7 1738.1h0m0 4h0m0 1.7h0m0 7h0m0 34.2h0m0 2h0m0 1.5h0m0 10.9h0M1524.5 1740.7h0m0 0.8h0m0 11.2h0m0 0.5h0m0 30.6h0m0 0.7h0m0 1.1h0m0 8.5h0M1533.3 1731.3h0m0 2.6h0m0 10.2h0m0 0.8h0m0 1.3h0m0 34.7h0m0 1.1h0m0 0.8h0m0 2.5h0m0 11.4h0M1542.2 1743.4h0m0 9.8h0m0 0.4h0m0 0.3h0m0 27.4h0m0 2.9h0m0 4.7h0m0 2.5h0M1551 1731.3h0m0 11.6h0m0 2.2h0m0 1.7h0m0 0.3h0m0 37.3h0m0 4.1h0m0 1h0m0 6.9h0m0 0.3h0M1559.9 1738.1h0m0 3.3h0m0 4.9h0m0 3.9h0m0 27.8h0m0 2.6h0m0 3.1h0m0 7.7h0m0 19h0M1568.7 1728.7h0m0 5.4h0m0 7h0m0 1.5h0m0 1.8h0m0 39.8h0m0 0.9h0m0 1.4h0m0 4.2h0m0 8.7h0M1577.6 1713.1h0m0 10.2h0m0 0.9h0m0 5.6h0m0 0.3h0m0 6.8h0m0 39.2h0m0 8h0m0 4.1h0m0 1.3h0m0 1.9h0M1586.4 1740.7h0m0 10.8h0m0 2.3h0m0 1.3h0m0 33.1h0m0 7.9h0m0 2.3h0m0 3.7h0M1595.3 1711.5h0m0 27.9h0m0 6.3h0m0 3.3h0m0 1.7h0m0 39.5h0m0 1.8h0m0 3.7h0m0 3.7h0m0 13.7h0M1604.1 1723.3h0m0 5.7h0m0 2.8h0m0 7.9h0m0 2.6h0m0 0.4h0m0 46.3h0m0 1.5h0m0 3.9h0m0 1.4h0m0 4.5h0m0 4.5h0M1613 1723.3h0m0 7.3h0m0 2.8h0m0 0.5h0m0 3.3h0m0 41.7h0m0 1.8h0m0 1.2h0m0 0.3h0m0 9.2h0M1621.8 1734h0m0 2.2h0m0 8h0m0 2.1h0m0 1.6h0m0 36.1h0m0 1.4h0m0 0.8h0m0 2.7h0m0 10.5h0M1630.7 1742.1h0m0 8.2h0m0 4.5h0m0 0.6h0m0 35.7h0m0 2.4h0m0 1.2h0m0 9.5h0m0 2h0M1639.5 1735.4h0m0 4.5h0m0 3.3h0m0 1.4h0m0 5.8h0m0 38.1h0m0 4.6h0m0 7.3h0m0 3.5h0m0 2.3h0M1648.4 1728.7h0m0 7.4h0m0 5.4h0m0 2.7h0m0 0.7h0m0 40h0m0 4.9h0m0 0.7h0m0 1.4h0m0 11.6h0M1657.2 1743.4h0m0 9.5h0m0 0.4h0m0 1.7h0m0 32.1h0m0 0.4h0m0 6.9h0m0 3.7h0M1666.1 1734.3h0m0 14.5h0m0 0.5h0m0 0.8h0m0 11h0m0 36.5h0m0 0.5h0m0 2.1h0m0 4.6h0M1674.9 1748.8h0m0 1.1h0m0 9.6h0m0 0.3h0m0 31.1h0m0 0.3h0m0 8.4h0m0 2.5h0M1683.8 1737.3h0m0 19.6h0m0 0.4h0m0 9.2h0m0 23.6h0m0 1.7h0m0 4.9h0M1692.6 1744.8h0m0 7.6h0m0 2.6h0m0 0.8h0m0 37.7h0m0 0.7h0m0 1.5h0m0 9.1h0M1701.5 1717.7h0m0 3.5h0m0 23.6h0m0 5.8h0m0 2.4h0m0 22h0m0 4.9h0m0 3.4h0M1710.3 1743.4h0m0 10.3h0m0 3.1h0m0 1.6h0m0 31.6h0m0 6.4h0m0 2.2h0m0 6.2h0m0 29.8h0M1719.2 1756.9h0m0 2.2h0m0 0.7h0m0 32.6h0m0 1.4h0m0 5.6h0M1728 1754.2h0m0 3.6h0m0 3.3h0m0 4.9h0m0 29.5h0m0 1.8h0m0 2.9h0m0 8.6h0M1736.9 1696.7h0m0 39.8h0m0 17.7h0m0 4.9h0m0 2.2h0m0 16.7h0m0 1.7h0m0 6.3h0M1745.7 1746.1h0m0 7.9h0m0 0.9h0m0 22.1h0m0 3.2h0m0 5.8h0m0 29.8h0M1754.5 1685.4h0m0 71.5h0m0 2h0m0 5.8h0m0 10.8h0m0 2.4h0M1356.4 1757.8v26M1374.1 1759.1v28.7M1382.9 1762.8v22.6M1391.8 1758.1v24M1400.6 1766.2v24M1409.5 1767.5v26.7M1418.3 1764.5v23.3M1427.2 1763.8v31M1436 1769.2v32.7M1444.9 1768.2v28M1453.7 1764.2v30.7M1462.6 1763.1v31.4M1471.4 1765.5v22.6M1480.3 1760.1v28M1489.1 1764.8v29.3M1498 1763.8v27.3M1506.8 1763.8v27.3M1515.7 1753.4v30.7M1524.5 1754.1v26.7M1533.3 1747.7v32.7M1542.2 1755.4v24M1551 1747.7v32.7M1559.9 1751.4v26.7M1568.7 1746.3v35.4M1577.6 1740.3v34M1586.4 1756.1v30.7M1595.3 1754.4v30M1604.1 1743.7v40.8M1613 1740.3v34M1621.8 1750.4v32.7M1630.7 1758.1v32M1639.5 1753.1v35.4M1648.4 1747.4v37.4M1657.2 1757.1v27.3M1666.1 1762.8v28M1674.9 1762.1v26.7M1683.8 1766.8v19.9M1692.6 1759.8v30M1701.5 1754.4v19.3M1710.3 1758.8v30.7M1719.2 1767.5v21.3M1728 1767.9v27.3M1736.9 1762.1v15.9M1745.7 1756.1v19.9" fill="none" stroke="#bebebe" stroke-width="11.4" stroke-linecap="round"/>
<path d="M1292.1 1752.1 1296 1753 1299.9 1753.9 1303.8 1754.9 1307.7 1755.8 1311.7 1756.9 1315.6 1757.9 1319.5 1759 1323.4 1760.1 1327.3 1761.2 1331.3 1762.4 1335.2 1763.5 1339.1 1764.5 1343 1765.6 1346.9 1766.6 1350.8 1767.6 1354.8 1768.5 1358.7 1769.4 1362.6 1770.2 1366.5 1771 1370.4 1771.7 1374.4 1772.4 1378.3 1773 1382.2 1773.6 1386.1 1774.2 1390 1774.7 1394 1775.2 1397.9 1775.7 1401.8 1776.2 1405.7 1776.6 1409.6 1776.9 1413.6 1777.3 1417.5 1777.6 1421.4 1777.8 1425.3 1778 1429.2 1778.1 1433.1 1778.2 1437.1 1778.2 1441 1778.2 1444.9 1778.2 1448.8 1778.1 1452.7 1777.9 1456.7 1777.7 1460.6 1777.5 1464.5 1777.2 1468.4 1776.9 1472.3 1776.5 1476.3 1776.1 1480.2 1775.7 1484.1 1775.3 1488 1774.9 1491.9 1774.4 1495.8 1774 1499.8 1773.5 1503.7 1773 1507.6 1772.6 1511.5 1772.2 1515.4 1771.7 1519.4 1771.3 1523.3 1770.9 1527.2 1770.5 1531.1 1770.1 1535 1769.7 1539 1769.4 1542.9 1769 1546.8 1768.7 1550.7 1768.4 1554.6 1768.1 1558.6 1767.8 1562.5 1767.6 1566.4 1767.4 1570.3 1767.2 1574.2 1767 1578.1 1766.9 1582.1 1766.8 1586 1766.7 1589.9 1766.7 1593.8 1766.7 1597.7 1766.7 1601.7 1766.8 1605.6 1766.8 1609.5 1766.9 1613.4 1767.1 1617.3 1767.2 1621.3 1767.4 1625.2 1767.6 1629.1 1767.9 1633 1768.2 1636.9 1768.5 1640.9 1768.8 1644.8 1769.2 1648.7 1769.5 1652.6 1769.8 1656.5 1770.1 1660.4 1770.4 1664.4 1770.6 1668.3 1770.8 1672.2 1770.9 1676.1 1771 1680 1771.1 1684 1771.1 1687.9 1771.2 1691.8 1771.2 1695.7 1771.2 1699.6 1771.2 1703.6 1771.1 1707.5 1771 1711.4 1770.8 1715.3 1770.5 1719.2 1770.2 1723.1 1769.8 1727.1 1769.3 1731 1768.8 1734.9 1768.3 1738.8 1767.8 1742.7 1767.2 1746.7 1766.7 1750.6 1766.1 1754.5 1765.5 1758.4 1765" fill="none" stroke="#000" stroke-width="5.0" stroke-linejoin="round" stroke-linecap="butt"/>
<path d="M1294 1946.8h1v10.7h-1zM1297.5 1946.8h0.5v10.7h-0.5zM1301 1946.8h1v10.7h-1zM1305.5 1946.8h0.5v10.7h-0.5zM1308 1946.8h2.5v10.7h-2.5zM1311.5 1946.8h0.5v10.7h-0.5zM1320.5 1946.8h0.5v10.7h-0.5z" fill="#000" fill-opacity="0.10"/>
<path d="M1296.5 1946.8h0.5v10.7h-0.5zM1298 1946.8h3v10.7h-3zM1302 1946.8h1v10.7h-1zM1304.5 1946.8h1v10.7h-1zM1312 1946.8h0.5v10.7h-0.5zM1315.5 1946.8h0.5v10.7h-0.5zM1317 1946.8h1v10.7h-1zM1319 1946.8h1.5v10.7h-1.5zM1321 1946.8h1v10.7h-1zM1324 1946.8h2.5v10.7h-2.5zM1330 1946.8h2v10.7h-2z" fill="#000" fill-opacity="0.20"/>
<path d="M1295 1946.8h1.5v10.7h-1.5zM1297 1946.8h0.5v10.7h-0.5zM1303 1946.8h1.5v10.7h-1.5zM1312.5 1946.8h0.5v10.7h-0.5zM1313.5 1946.8h1v10.7h-1zM1315 1946.8h0.5v10.7h-0.5zM1316 1946.8h1v10.7h-1zM1318 1946.8h1v10.7h-1zM1322 1946.8h2v10.7h-2zM1326.5 1946.8h3.5v10.7h-3.5zM1332 1946.8h1.5v10.7h-1.5zM1334 1946.8h2.5v10.7h-2.5zM1337 1946.8h0.5v10.7h-0.5zM1340.5 1946.8h3v10.7h-3zM1359.5 1946.8h1.5v10.7h-1.5zM1724 1946.8h1v10.7h-1z" fill="#000" fill-opacity="0.30"/>
<path d="M1313 1946.8h0.5v10.7h-0.5zM1314.5 1946.8h0.5v10.7h-0.5zM1333.5 1946.8h0.5v10.7h-0.5zM1336.5 1946.8h0.5v10.7h-0.5zM1337.5 1946.8h0.5v10.7h-0.5zM1340 1946.8h0.5v10.7h-0.5zM1343.5 1946.8h1v10.7h-1zM1347 1946.8h0.5v10.7h-0.5zM1351 1946.8h1v10.7h-1zM1352.5 1946.8h2.5v10.7h-2.5zM1361 1946.8h0.5v10.7h-0.5zM1375 1946.8h0.5v10.7h-0.5zM1697.5 1946.8h0.5v10.7h-0.5zM1698.5 1946.8h0.5v10.7h-0.5zM1707 1946.8h1v10.7h-1zM1721 1946.8h3v10.7h-3zM1725 1946.8h0.5v10.7h-0.5zM1733.5 1946.8h1.5v10.7h-1.5zM1740 1946.8h0.5v10.7h-0.5zM1742 1946.8h5v10.7h-5zM1751 1946.8h2v10.7h-2zM1753.5 1946.8h2v10.7h-2z" fill="#000" fill-opacity="0.40"/>
<path d="M1338 1946.8h2v10.7h-2zM1344.5 1946.8h2.5v10.7h-2.5zM1347.5 1946.8h0.5v10.7h-0.5zM1350.5 1946.8h0.5v10.7h-0.5zM1352 1946.8h0.5v10.7h-0.5zM1355 1946.8h0.5v10.7h-0.5zM1359 1946.8h0.5v10.7h-0.5zM1361.5 1946.8h1v10.7h-1zM1374.5 1946.8h0.5v10.7h-0.5zM1375.5 1946.8h0.5v10.7h-0.5zM1696.5 1946.8h1v10.7h-1zM1698 1946.8h0.5v10.7h-0.5zM1701.5 1946.8h1.5v10.7h-1.5zM1706.5 1946.8h0.5v10.7h-0.5zM1708 1946.8h0.5v10.7h-0.5zM1720 1946.8h1v10.7h-1zM1725.5 1946.8h1v10.7h-1zM1728 1946.8h2v10.7h-2zM1733 1946.8h0.5v10.7h-0.5zM1735 1946.8h1.5v10.7h-1.5zM1738.5 1946.8h1.5v10.7h-1.5zM1740.5 1946.8h1.5v10.7h-1.5zM1750.5 1946.8h0.5v10.7h-0.5zM1753 1946.8h0.5v10.7h-0.5z" fill="#000" fill-opacity="0.50"/>
<path d="M1348 1946.8h2.5v10.7h-2.5zM1355.5 1946.8h0.5v10.7h-0.5zM1358.5 1946.8h0.5v10.7h-0.5zM1362.5 1946.8h3v10.7h-3zM1368 1946.8h1.5v10.7h-1.5zM1373 1946.8h1.5v10.7h-1.5zM1376 1946.8h1v10.7h-1zM1381 1946.8h1.5v10.7h-1.5zM1672.5 1946.8h0.5v10.7h-0.5zM1683.5 1946.8h2.5v10.7h-2.5zM1690.5 1946.8h2v10.7h-2zM1693.5 1946.8h3v10.7h-3zM1699 1946.8h2.5v10.7h-2.5zM1703 1946.8h1v10.7h-1zM1706 1946.8h0.5v10.7h-0.5zM1708.5 1946.8h1.5v10.7h-1.5zM1711 1946.8h3v10.7h-3zM1715.5 1946.8h3v10.7h-3zM1719 1946.8h1v10.7h-1zM1726.5 1946.8h1.5v10.7h-1.5zM1730 1946.8h0.5v10.7h-0.5zM1732.5 1946.8h0.5v10.7h-0.5zM1736.5 1946.8h2v10.7h-2zM1747 1946.8h2v10.7h-2zM1749.5 1946.8h1v10.7h-1z" fill="#000" fill-opacity="0.60"/>
<path d="M1356 1946.8h1v10.7h-1zM1358 1946.8h0.5v10.7h-0.5zM1365.5 1946.8h2.5v10.7h-2.5zM1369.5 1946.8h1v10.7h-1zM1372.5 1946.8h0.5v10.7h-0.5zM1377 1946.8h0.5v10.7h-0.5zM1380.5 1946.8h0.5v10.7h-0.5zM1382.5 1946.8h5v10.7h-5zM1663 1946.8h0.5v10.7h-0.5zM1664.5 1946.8h0.5v10.7h-0.5zM1668.5 1946.8h4v10.7h-4zM1673 1946.8h1.5v10.7h-1.5zM1678 1946.8h1.5v10.7h-1.5zM1682.5 1946.8h1v10.7h-1zM1686 1946.8h4.5v10.7h-4.5zM1692.5 1946.8h1v10.7h-1zM1704 1946.8h2v10.7h-2zM1710 1946.8h1v10.7h-1zM1714 1946.8h1.5v10.7h-1.5zM1718.5 1946.8h0.5v10.7h-0.5zM1730.5 1946.8h2v10.7h-2zM1749 1946.8h0.5v10.7h-0.5z" fill="#000" fill-opacity="0.70"/>
<path d="M1357 1946.8h1v10.7h-1zM1370.5 1946.8h2v10.7h-2zM1377.5 1946.8h3v10.7h-3zM1387.5 1946.8h4v10.7h-4zM1392 1946.8h1.5v10.7h-1.5zM1394 1946.8h0.5v10.7h-0.5zM1659.5 1946.8h1v10.7h-1zM1661 1946.8h0.5v10.7h-0.5zM1662 1946.8h1v10.7h-1zM1663.5 1946.8h1v10.7h-1zM1665 1946.8h1v10.7h-1zM1667.5 1946.8h1v10.7h-1zM1674.5 1946.8h3.5v10.7h-3.5zM1679.5 1946.8h3v10.7h-3z" fill="#000" fill-opacity="0.80"/>
<path d="M1391.5 1946.8h0.5v10.7h-0.5zM1393.5 1946.8h0.5v10.7h-0.5zM1394.5 1946.8h14v10.7h-14zM1409 1946.8h0.5v10.7h-0.5zM1412 1946.8h1v10.7h-1zM1645 1946.8h0.5v10.7h-0.5zM1646 1946.8h5v10.7h-5zM1653 1946.8h6.5v10.7h-6.5zM1660.5 1946.8h0.5v10.7h-0.5zM1661.5 1946.8h0.5v10.7h-0.5zM1666 1946.8h1.5v10.7h-1.5z" fill="#000" fill-opacity="0.90"/>
<path d="M1408.5 1946.8h0.5v10.7h-0.5zM1409.5 1946.8h2.5v10.7h-2.5zM1413 1946.8h232v10.7h-232zM1645.5 1946.8h0.5v10.7h-0.5zM1651 1946.8h2v10.7h-2z" fill="#000" fill-opacity="1.00"/>
<rect x="1294.00" y="1587.30" width="460.85" height="184.45" fill="#4f8b00" fill-opacity="0.1"/>
<rect x="1294.00" y="1771.75" width="460.85" height="185.75" fill="#ff0000" fill-opacity="0.1"/>
</g>
<path d="M1284.90 1586.90h9.6M1284.90 1679.33h9.6M1284.90 1771.75h9.6M1284.90 1864.18h9.6M1284.90 1956.60h9.6M1347.54 1957.00v9.3M1436.02 1957.00v9.3M1524.50 1957.00v9.3M1612.98 1957.00v9.3M1701.46 1957.00v9.3" stroke="#222" stroke-width="1.7" fill="none"/>
<text transform="translate(1239.75 1594.30) scale(1.0528 1)" font-size="24">0.2</text>
<text transform="translate(1244.60 1686.73) scale(0.9024 1)" font-size="24">0.1</text>
<text transform="translate(1260.00 1779.15) scale(1.0957 1)" font-size="24">0</text>
<text transform="translate(1232.18 1871.58) scale(0.8978 1)" font-size="24">−0.1</text>
<text transform="translate(1227.66 1964.00) scale(0.9956 1)" font-size="24">−0.2</text>
<text transform="translate(1327.78 1994.80) scale(0.9688 1)" font-size="24">−20</text>
<text transform="translate(1417.80 1994.80) scale(0.8935 1)" font-size="24">−10</text>
<text transform="translate(1517.20 1994.80) scale(1.0957 1)" font-size="24">0</text>
<text transform="translate(1599.73 1994.80) scale(0.9708 1)" font-size="24">10</text>
<text transform="translate(1687.07 1994.80) scale(1.0735 1)" font-size="24">20</text>
<text transform="translate(1293.93 1565.80) scale(1.0297 1)" font-size="28">Terai of Nepal</text>
<text transform="translate(1354.82 2036.60) scale(1.0343 1)" font-size="28">Transplanting date relative</text>
<text transform="translate(1384.48 2068.20) scale(1.0331 1)" font-size="28">to regional median (d)</text>
</g>
<text transform="translate(1.40 24.55) scale(0.9563 1)" font-size="41" font-weight="bold">a</text>
<text transform="translate(-2.32 1086.40) scale(1.0976 1)" font-size="41" font-weight="bold">b</text>
</svg></body></html>
